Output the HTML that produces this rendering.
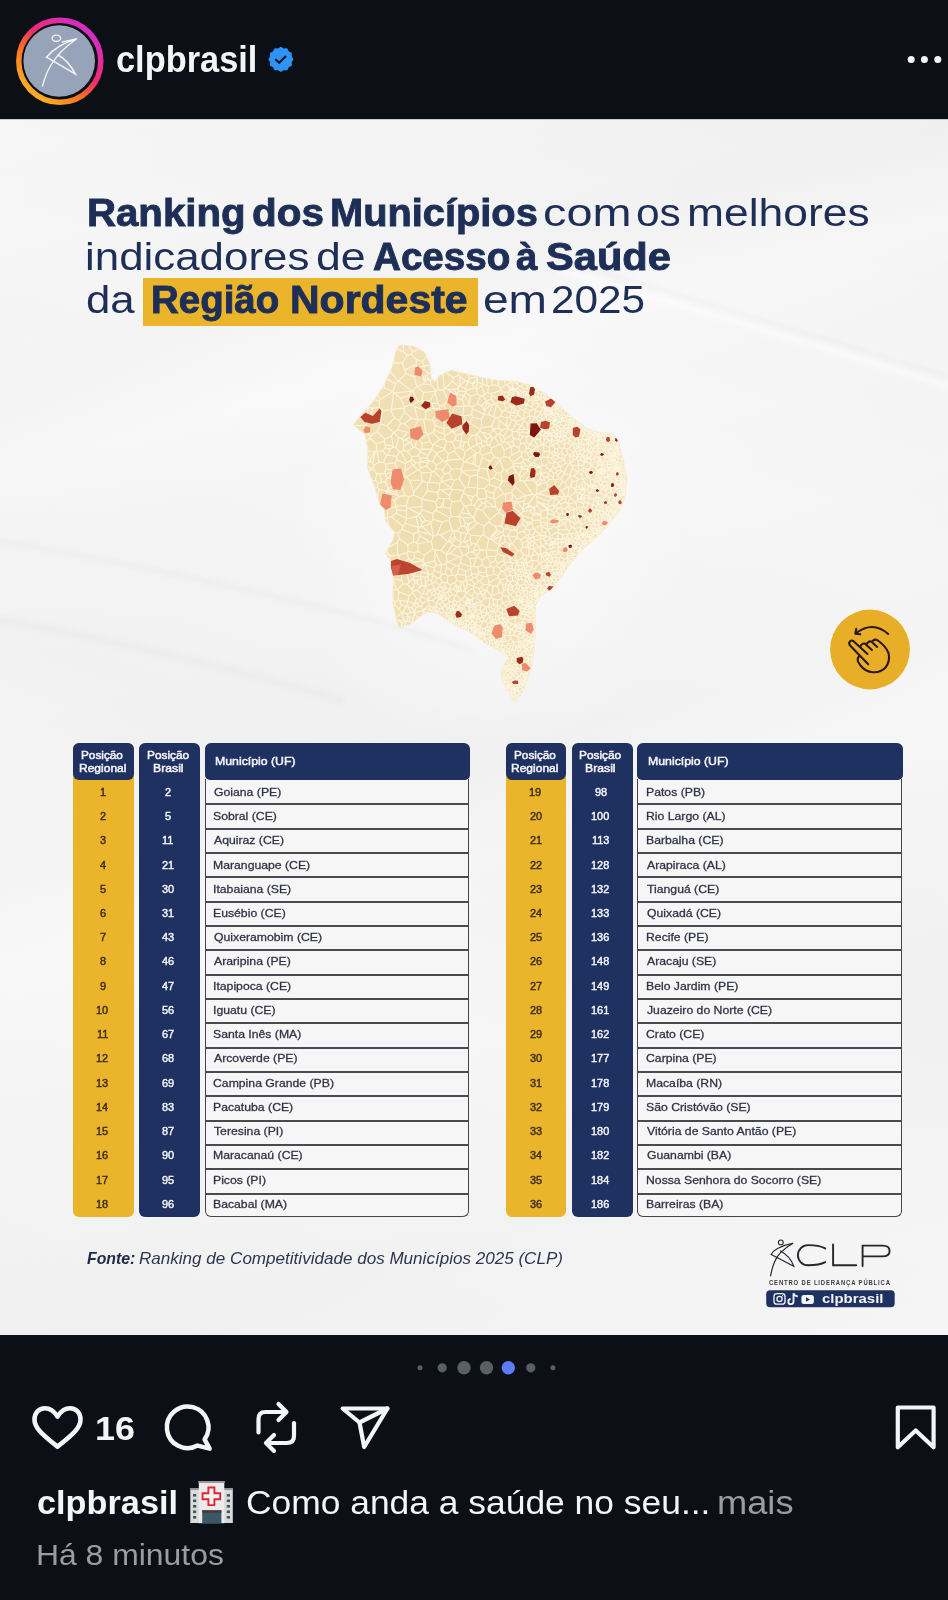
<!DOCTYPE html>
<html><head><meta charset="utf-8">
<style>
html,body{margin:0;padding:0;}
body{width:948px;height:1600px;position:relative;overflow:hidden;background:#0c0f16;font-family:"Liberation Sans",sans-serif;}
.a{position:absolute;}
.t{position:absolute;white-space:nowrap;line-height:1;transform-origin:0 0;font-family:"Liberation Sans",sans-serif;}
.t b{font-weight:700;}
#post{position:absolute;left:0;top:119px;width:948px;height:1216px;background:#f1f1f1;overflow:hidden;}
.col{position:absolute;border-radius:6px;}
</style></head>
<body>
<!-- header -->
<div class="a" style="left:0;top:0;width:948px;height:119px;background:#0c0f16"></div>
<svg class="a" style="left:0;top:0" width="948" height="119" viewBox="0 0 948 119">
  <defs>
    <linearGradient id="ring" x1="0.15" y1="0.95" x2="0.85" y2="0.1">
      <stop offset="0" stop-color="#fbb726"/>
      <stop offset="0.35" stop-color="#f8731f"/>
      <stop offset="0.6" stop-color="#f02a6d"/>
      <stop offset="1" stop-color="#d32ec9"/>
    </linearGradient>
  </defs>
  <circle cx="59.8" cy="61.2" r="41" fill="none" stroke="url(#ring)" stroke-width="5.5"/>
  <circle cx="59.2" cy="61" r="35.8" fill="#96a3b8"/>
  <g fill="none" stroke="#f4f5f7" stroke-width="1.4" stroke-linecap="round">
    <ellipse cx="56.4" cy="38.3" rx="4.3" ry="3.2"/>
    <path d="M46.5 57.2 Q58 44 76.5 39 Q60 50 51 65 Q46 73 42.5 86"/>
    <path d="M76.5 39 L62.5 42"/>
    <path d="M46.5 57.2 L75.5 74.2 Q68 60 58 55"/>
  </g>
  <!-- badge -->
  <g transform="translate(280.9,59.3)">
    <path fill="#2d93f7" d="M0.00,-11.60 L2.64,-9.85 L5.80,-10.05 L7.21,-7.21 L10.05,-5.80 L9.85,-2.64 L11.60,0.00 L9.85,2.64 L10.05,5.80 L7.21,7.21 L5.80,10.05 L2.64,9.85 L0.00,11.60 L-2.64,9.85 L-5.80,10.05 L-7.21,7.21 L-10.05,5.80 L-9.85,2.64 L-11.60,0.00 L-9.85,-2.64 L-10.05,-5.80 L-7.21,-7.21 L-5.80,-10.05 L-2.64,-9.85 Z" stroke="#2d93f7" stroke-width="1.8" stroke-linejoin="round"/>
    <path d="M-5 0.4 L-1.7 3.5 L4.6 -2.8" fill="none" stroke="#0c0f16" stroke-width="2.1" stroke-linecap="round" stroke-linejoin="round"/>
  </g>
  <circle cx="911.2" cy="59.6" r="3.5" fill="#f5f5f7"/>
  <circle cx="924.4" cy="59.6" r="3.5" fill="#f5f5f7"/>
  <circle cx="937.8" cy="59.6" r="3.5" fill="#f5f5f7"/>
</svg>

<!-- post -->
<div id="post">
  <div class="a" style="left:0;top:0;width:948px;height:1216px;background:#f5f5f5"></div>
  <div class="a" style="left:0;top:0;width:948px;height:1216px;background:linear-gradient(165deg,rgba(0,0,0,0) 0%,rgba(0,0,0,0.012) 18%,rgba(255,255,255,0.3) 24%,rgba(0,0,0,0) 30%,rgba(0,0,0,0.012) 52%,rgba(255,255,255,0.25) 58%,rgba(0,0,0,0) 64%,rgba(0,0,0,0.015) 85%,rgba(0,0,0,0.005) 100%)"></div>
  <div class="a" style="left:0;top:0;width:948px;height:1216px;background:linear-gradient(20deg,rgba(0,0,0,0.008) 0%,rgba(255,255,255,0.2) 30%,rgba(0,0,0,0.01) 45%,rgba(255,255,255,0.2) 70%,rgba(0,0,0,0.01) 100%)"></div>
  <div class="a" style="left:280px;top:200px;width:420px;height:440px;border-radius:50%;background:radial-gradient(closest-side,rgba(255,255,255,0.6),rgba(255,255,255,0))"></div>
  <svg class="a" style="left:0;top:0" width="948" height="1216" viewBox="0 119 948 1216">
    <defs><filter id="blur1" x="-10%" y="-50%" width="120%" height="200%"><feGaussianBlur stdDeviation="2.5"/></filter></defs>
    <g filter="url(#blur1)" fill="none" stroke-linecap="round">
      <path d="M560 262 Q760 320 948 378" stroke="rgba(0,0,0,0.028)" stroke-width="5"/>
      <path d="M560 270 Q760 328 948 386" stroke="rgba(255,255,255,0.5)" stroke-width="6"/>
      <path d="M0 541 Q170 570 340 612 Q420 632 470 650" stroke="rgba(0,0,0,0.025)" stroke-width="5"/>
      <path d="M0 620 Q170 650 340 700" stroke="rgba(0,0,0,0.02)" stroke-width="8"/>
    </g>
  </svg>
  <div class="a" style="left:0;top:0;width:948px;height:1px;background:#c9ccd2"></div>
</div>
<!-- yellow highlight -->
<div class="a" style="left:143.3px;top:278px;width:334.4px;height:48px;background:#eab42b"></div>

<svg class="a" style="left:0;top:0" width="948" height="760" viewBox="0 0 948 760">
<defs><clipPath id="mapclip"><path d="M399.1 345.2L412.6 346.0L424.4 352.0L429.5 363.8L431.1 377.3L434.5 382.3L439.6 375.6L451.4 370.5L466.6 373.9L483.5 378.1L496.9 380.3L517.1 381.9L530.6 385.3L547.5 395.4L559.3 405.6L574.5 419.1L588.0 429.2L601.5 432.6L613.3 434.3L618.4 441.0L623.5 461.3L626.8 478.1L625.1 495.0L623.5 500.0L620.1 510.1L613.3 518.6L604.9 528.7L594.8 538.8L581.3 550.6L571.1 562.4L561.0 577.6L550.9 589.5L540.8 596.2L535.7 604.6L535.2 609.5L535.2 631.7L533.7 653.8L530.8 668.6L526.3 683.4L520.4 695.2L514.5 702.6L508.6 692.2L502.7 680.4L501.2 671.6L505.7 662.7L508.6 656.8L496.8 649.4L483.5 642.0L472.9 633.9L458.1 626.5L446.3 619.2L434.5 611.8L424.2 613.3L410.9 623.6L399.1 628.0L396.1 617.7L393.2 602.9L393.2 576.3L391.0 567.5L390.2 560.1L385.8 554.2L387.3 549.8L393.2 539.4L394.6 532.0L385.8 521.7L384.3 509.9L379.9 504.0L374.0 484.8L367.8 468.4L367.8 448.1L365.3 434.6L356.9 427.9L353.5 424.5L360.3 416.1L373.8 400.9L383.9 385.7L392.3 367.1L395.7 352.0Z"/></clipPath>
<radialGradient id="mapg" cx="0.35" cy="0.45" r="0.7"><stop offset="0" stop-color="#efdcad"/><stop offset="0.6" stop-color="#f1e0b5"/><stop offset="1" stop-color="#f5e8c6"/></radialGradient></defs>
<path d="M399.1 345.2L412.6 346.0L424.4 352.0L429.5 363.8L431.1 377.3L434.5 382.3L439.6 375.6L451.4 370.5L466.6 373.9L483.5 378.1L496.9 380.3L517.1 381.9L530.6 385.3L547.5 395.4L559.3 405.6L574.5 419.1L588.0 429.2L601.5 432.6L613.3 434.3L618.4 441.0L623.5 461.3L626.8 478.1L625.1 495.0L623.5 500.0L620.1 510.1L613.3 518.6L604.9 528.7L594.8 538.8L581.3 550.6L571.1 562.4L561.0 577.6L550.9 589.5L540.8 596.2L535.7 604.6L535.2 609.5L535.2 631.7L533.7 653.8L530.8 668.6L526.3 683.4L520.4 695.2L514.5 702.6L508.6 692.2L502.7 680.4L501.2 671.6L505.7 662.7L508.6 656.8L496.8 649.4L483.5 642.0L472.9 633.9L458.1 626.5L446.3 619.2L434.5 611.8L424.2 613.3L410.9 623.6L399.1 628.0L396.1 617.7L393.2 602.9L393.2 576.3L391.0 567.5L390.2 560.1L385.8 554.2L387.3 549.8L393.2 539.4L394.6 532.0L385.8 521.7L384.3 509.9L379.9 504.0L374.0 484.8L367.8 468.4L367.8 448.1L365.3 434.6L356.9 427.9L353.5 424.5L360.3 416.1L373.8 400.9L383.9 385.7L392.3 367.1L395.7 352.0Z" fill="url(#mapg)" stroke="#f5e9c9" stroke-width="1"/>
<g clip-path="url(#mapclip)">
<path d="M411.7 349.8L402.5 337.2M339.7 369.8L354.4 375.7M339.7 369.8L358.4 393.1M354.4 375.7L372.5 387.1M380.4 399.6L372.5 387.1M380.4 399.6L379.7 401.6M379.7 401.6L358.4 393.1M370.1 420.8L372.4 408.1M370.1 420.8L380.4 423.0M379.2 407.2L372.4 408.1M379.2 407.2L382.7 410.7M382.7 410.7L380.4 423.0M366.6 406.3L368.3 407.0M366.6 406.3L360.1 414.5M368.3 407.0L366.7 418.8M360.1 414.5L366.7 418.8M379.7 401.6L379.2 407.2M358.4 393.1L366.6 406.3M372.4 408.1L368.3 407.0M368.8 421.1L366.7 418.8M368.8 421.1L370.1 420.8M365.5 425.3L334.1 426.7M365.5 425.3L369.8 435.8M369.8 435.8L334.1 426.7M368.8 421.1L365.5 425.3M377.0 431.7L370.2 436.2M377.0 431.7L380.7 423.7M370.2 436.2L369.8 435.8M380.7 423.7L380.4 423.0M382.7 410.7L390.8 409.9M380.7 423.7L386.7 425.8M390.8 409.9L394.5 418.1M394.5 418.1L386.7 425.8M375.5 480.2L350.9 483.6M375.5 480.2L378.1 483.4M377.3 487.3L378.1 483.4M377.3 487.3L368.4 490.3M368.4 490.3L349.7 484.2M349.7 484.2L350.9 483.6M354.4 375.7L382.7 378.5M372.5 387.1L384.8 388.0M382.7 378.5L384.8 388.0M380.4 399.6L392.6 391.6M384.8 388.0L392.6 391.6M548.9 715.4L525.1 705.9M521.1 708.5L525.1 705.9M527.7 695.4L529.3 692.9M613.3 532.0L611.1 535.9M613.3 532.0L609.9 533.3M611.1 535.9L609.0 534.8M609.9 533.3L609.0 534.8M614.1 531.3L613.3 532.0M626.2 496.4L626.6 496.2M626.2 496.4L624.9 497.9M624.9 497.9L627.7 501.2M627.7 501.2L629.9 500.8M629.9 500.8L626.6 496.2M377.0 431.7L385.0 439.0M370.2 436.2L370.0 438.0M370.0 438.0L376.4 444.1M385.0 439.0L384.1 441.2M376.4 444.1L384.1 441.2M390.2 449.1L387.7 455.2M390.2 449.1L385.1 448.0M386.4 455.5L383.1 451.4M386.4 455.5L387.7 455.2M385.1 448.0L383.1 451.4M629.9 445.8L627.0 444.2M629.9 445.8L627.9 447.5M627.0 444.2L626.4 446.7M626.4 446.7L627.9 447.5M617.0 439.8L615.5 443.0M617.0 439.8L617.3 440.0M615.5 443.0L617.8 443.6M617.8 443.6L617.3 440.0M629.9 445.8L633.6 443.8M627.0 444.2L626.4 443.4M633.6 443.8L626.8 442.7M626.4 443.4L626.8 442.7M633.6 443.8L636.1 442.9M636.1 442.9L631.4 441.8M631.4 441.8L626.5 441.3M626.8 442.7L626.5 441.3M620.3 443.4L620.7 441.6M620.3 443.4L618.2 443.8M618.2 443.8L617.8 443.6M617.3 440.0L620.1 440.6M620.1 440.6L620.7 441.6M621.3 444.4L620.3 443.4M621.3 444.4L620.4 448.1M620.4 448.1L619.4 448.2M618.2 443.8L617.9 444.6M619.4 448.2L617.9 444.6M618.8 458.3L621.2 458.3M618.8 458.3L617.6 461.9M617.6 461.9L618.1 462.3M618.1 462.3L621.9 462.8M621.2 458.3L621.7 459.4M621.7 459.4L622.6 462.4M621.9 462.8L622.6 462.4M390.2 449.1L393.9 447.0M387.7 455.2L396.8 456.4M396.8 456.4L399.7 451.8M399.7 451.8L395.8 448.0M393.9 447.0L395.8 448.0M385.1 448.0L385.5 444.5M385.5 444.5L393.2 446.1M393.9 447.0L393.2 446.1M385.0 439.0L391.4 435.7M385.5 444.5L384.1 441.2M393.2 446.1L391.4 435.7M386.7 425.8L393.6 432.8M391.4 435.7L393.6 432.8M375.5 480.2L376.8 473.4M378.1 483.4L381.5 482.2M381.5 482.2L379.7 473.6M379.7 473.6L376.8 473.4M371.9 469.0L372.6 468.7M371.9 469.0L350.9 483.6M376.8 473.4L372.6 468.7M537.0 379.8L533.9 379.5M537.0 379.8L536.0 382.3M536.0 382.3L533.9 379.5M531.5 371.8L529.6 378.6M531.5 371.8L533.6 378.9M529.6 378.6L533.5 379.4M533.6 378.9L533.6 379.3M533.6 379.3L533.5 379.4M546.0 372.8L547.0 371.1M546.0 372.8L537.0 379.8M547.0 371.1L533.6 378.9M533.9 379.5L533.6 379.3M412.8 431.3L413.5 432.7M412.8 431.3L418.2 420.0M418.2 420.0L423.7 419.5M413.5 432.7L425.7 432.1M425.7 432.1L423.7 419.5M455.1 439.7L456.2 435.5M455.1 439.7L461.1 441.6M456.2 435.5L462.1 433.3M461.1 441.6L461.3 441.5M461.3 441.5L462.1 433.3M429.0 379.7L425.3 380.7M429.0 379.7L430.5 381.0M430.5 381.0L431.0 384.8M424.1 382.3L425.3 380.7M424.1 382.3L423.4 384.0M431.0 384.8L423.4 384.0M431.0 384.8L436.0 390.6M423.5 392.4L416.8 386.3M423.5 392.4L435.4 391.3M423.4 384.0L416.8 386.3M416.8 386.3L416.8 386.3M435.4 391.3L436.0 390.6M382.7 378.5L385.0 377.8M385.0 377.8L388.3 368.7M378.1 365.3L388.2 368.2M388.3 368.7L388.2 368.2M383.9 342.0L403.8 352.0M383.9 342.0L390.8 356.5M390.8 356.5L395.2 362.6M395.2 362.6L402.2 363.0M402.2 363.0L407.2 355.4M403.8 352.0L407.2 355.4M402.5 337.2L403.8 352.0M378.1 365.3L390.8 356.5M388.2 368.2L395.2 362.6M394.3 618.2L401.5 613.0M394.3 618.2L399.5 621.0M399.5 621.0L403.9 619.6M401.5 613.0L403.9 619.6M393.0 580.2L370.3 588.4M393.0 580.2L396.5 589.4M379.3 590.8L370.3 588.4M379.3 590.8L381.8 591.0M381.8 591.0L396.5 589.4M477.8 567.2L478.5 572.3M477.8 567.2L481.9 565.0M478.5 572.3L486.5 572.5M481.9 565.0L486.4 568.0M486.5 572.5L486.4 568.0M487.5 576.0L486.5 572.5M487.5 576.0L494.2 574.2M490.2 566.5L486.4 568.0M490.2 566.5L493.2 567.6M494.2 574.2L493.2 567.6M473.7 566.4L471.4 566.7M473.7 566.4L476.0 558.2M471.4 566.7L469.6 558.6M476.0 558.2L469.6 558.6M477.5 557.2L476.0 558.2M477.5 557.2L482.4 560.1M482.4 560.1L481.9 565.0M477.8 567.2L473.7 566.4M496.8 529.4L494.7 526.1M496.8 529.4L489.1 539.0M488.7 522.0L494.7 526.1M488.7 522.0L484.0 526.1M489.1 539.0L488.8 539.0M488.8 539.0L483.8 534.5M484.0 526.1L483.8 534.5M628.0 482.9L628.7 483.6M628.0 482.9L628.5 481.7M628.5 481.7L631.6 482.6M631.6 482.6L630.3 483.8M628.7 483.6L630.3 483.8M641.5 483.9L629.4 486.3M641.5 483.9L631.8 482.5M631.8 482.5L631.6 482.6M630.3 483.8L629.4 486.3M541.9 673.7L540.2 672.2M557.3 664.4L543.3 663.2M540.2 672.2L539.0 670.9M539.0 670.9L538.8 667.3M538.8 667.3L543.3 663.2M627.2 495.3L631.0 495.6M627.2 495.3L627.0 494.3M627.0 494.3L627.5 492.8M631.0 495.6L630.9 493.2M628.1 492.5L627.5 492.8M628.1 492.5L630.3 492.7M630.9 493.2L630.3 492.7M644.4 501.6L630.3 500.9M644.4 501.6L631.0 495.6M630.3 500.9L629.9 500.8M626.6 496.2L627.2 495.3M631.6 492.1L639.8 489.6M631.6 492.1L630.9 493.2M643.2 489.3L639.8 489.6M630.5 491.5L630.0 490.9M630.5 491.5L630.3 492.7M630.0 490.9L628.1 492.5M631.6 492.1L630.5 491.5M630.3 500.9L628.9 502.9M630.8 505.9L628.6 503.8M628.9 502.9L628.6 503.8M643.7 529.2L629.7 519.5M629.7 519.5L627.0 513.0M630.8 511.3L627.0 513.0M376.4 444.1L376.7 450.6M383.1 451.4L376.9 450.8M376.9 450.8L376.7 450.6M386.4 455.5L383.5 462.4M383.5 462.4L378.9 462.4M376.9 450.8L378.9 462.4M380.2 535.7L386.4 536.9M386.4 536.9L385.2 549.0M381.5 482.2L385.3 481.7M385.0 474.2L387.2 478.1M385.0 474.2L384.4 473.4M384.4 473.4L379.7 473.6M385.3 481.7L387.2 478.1M357.3 516.1L367.1 510.8M357.3 516.1L383.6 518.3M383.6 518.3L367.1 510.8M386.3 517.9L385.0 518.5M386.3 517.9L387.1 517.9M387.1 517.9L389.1 527.0M385.0 518.5L376.9 525.0M376.9 525.0L381.2 526.9M381.2 526.9L384.3 527.6M384.3 527.6L389.1 527.0M373.1 507.3L386.3 517.9M373.1 507.3L367.1 510.8M383.6 518.3L385.0 518.5M381.1 533.0L381.2 526.9M381.1 533.0L380.2 535.7M381.1 533.0L384.3 527.6M393.9 532.6L386.4 536.9M393.9 532.6L389.1 527.0M625.2 446.2L624.2 448.1M625.2 446.2L624.1 444.8M623.6 444.8L624.1 444.8M623.6 444.8L622.8 447.7M622.8 447.7L624.2 448.1M626.4 446.7L625.2 446.2M626.4 443.4L624.3 444.5M624.3 444.5L624.1 444.8M621.3 444.4L623.6 444.8M620.4 448.1L620.9 448.6M622.8 447.7L620.9 448.6M622.8 447.7L622.8 447.7M624.1 450.6L622.8 447.7M624.1 450.6L624.1 450.6M624.2 448.1L624.6 449.8M624.1 450.6L624.6 449.8M627.9 447.5L627.8 448.2M624.6 449.8L627.8 448.2M631.4 441.8L626.1 439.9M626.5 441.3L625.9 440.1M626.1 439.9L625.9 440.1M624.1 450.6L622.2 451.2M620.9 448.6L622.0 451.1M622.2 451.2L622.0 451.1M619.4 448.2L618.3 448.7M617.5 451.5L618.1 448.9M617.5 451.5L617.5 451.6M617.5 451.6L618.7 451.7M618.3 448.7L618.1 448.9M622.0 451.1L618.7 451.7M617.5 451.6L617.6 454.1M617.6 454.1L617.9 454.9M617.9 454.9L620.3 454.3M618.7 451.7L620.3 454.3M626.7 427.3L620.2 429.3M620.2 429.3L618.3 425.8M626.7 427.3L621.9 433.6M620.2 429.3L619.8 429.4M619.8 429.4L619.3 432.8M621.9 433.6L621.4 433.9M619.3 432.8L621.4 433.9M621.9 433.6L622.8 434.4M622.8 434.4L623.3 435.2M623.3 435.2L623.2 438.0M623.2 438.0L620.4 436.9M621.4 433.9L620.4 436.9M631.8 472.1L629.8 469.3M631.8 472.1L631.4 468.9M631.4 468.9L629.8 469.3M632.5 473.0L631.8 472.1M632.5 473.0L634.6 473.8M635.2 464.5L629.3 467.6M629.4 469.1L629.8 469.3M629.4 469.1L629.2 468.8M629.3 467.6L629.2 468.8M618.1 462.3L618.3 465.1M621.9 462.8L620.3 465.4M620.3 465.4L619.1 466.3M619.1 466.3L618.3 465.1M617.6 461.9L617.0 462.0M616.4 462.8L617.0 462.0M616.4 462.8L616.6 464.8M618.3 465.1L616.6 464.8M618.8 458.3L617.4 457.2M617.4 457.2L617.9 454.9M621.2 458.3L622.2 456.8M620.3 454.3L621.8 454.4M622.2 456.8L621.8 454.4M622.2 451.2L622.1 453.7M622.1 453.7L621.8 454.4M622.6 462.4L624.0 462.9M620.3 465.4L622.7 466.9M622.7 466.9L624.5 465.7M624.5 465.7L624.5 463.8M624.5 463.8L624.0 462.9M604.8 477.9L607.3 477.8M604.8 477.9L604.2 476.9M604.2 476.9L607.4 475.8M607.3 477.8L607.4 475.8M398.3 555.1L407.0 552.7M398.3 555.1L397.7 554.9M397.7 554.9L397.3 542.5M407.0 552.7L408.0 551.4M408.0 551.4L407.8 544.7M407.8 544.7L399.4 538.6M399.4 538.6L397.3 542.5M393.9 532.6L398.0 533.3M398.0 533.3L399.4 538.6M385.5 549.1L397.3 542.5M385.5 549.1L385.2 549.0M452.0 489.3L449.6 495.7M452.0 489.3L451.5 488.4M451.5 488.4L441.8 490.0M449.6 495.7L441.8 490.0M435.5 501.8L438.6 497.9M435.5 501.8L421.9 499.1M427.4 490.9L421.8 498.7M427.4 490.9L437.7 492.6M421.9 499.1L421.8 498.7M438.6 497.9L437.7 492.6M474.6 454.4L464.8 461.7M474.6 454.4L472.7 464.0M472.7 464.0L464.8 461.7M397.6 429.7L407.3 432.2M397.6 429.7L393.9 432.8M393.9 432.8L398.9 437.6M407.3 432.2L401.9 439.0M401.9 439.0L398.9 437.6M412.8 431.3L407.3 432.2M412.8 431.3L403.8 423.7M403.8 423.7L400.6 423.5M400.6 423.5L397.6 429.7M394.5 418.1L399.4 420.4M399.4 420.4L400.6 423.5M393.6 432.8L393.9 432.8M395.8 448.0L398.9 437.6M385.0 474.2L392.2 472.2M387.2 478.1L388.6 478.1M392.2 472.2L388.6 478.1M534.4 383.8L535.9 383.0M534.4 383.8L534.3 383.8M535.9 383.0L536.0 382.3M533.5 379.4L532.4 381.8M534.3 383.8L532.4 381.8M528.6 380.0L529.6 378.6M528.6 380.0L531.6 381.8M531.6 381.8L532.4 381.8M534.4 383.8L536.7 388.3M535.9 383.0L539.8 384.0M536.7 388.3L539.8 384.0M521.0 386.2L523.9 383.6M521.0 386.2L518.3 386.5M517.1 383.7L518.3 386.5M517.1 383.7L518.3 381.0M518.3 381.0L522.3 379.9M523.9 383.6L522.3 379.9M528.6 380.0L528.2 380.1M530.2 383.9L531.6 381.8M530.2 383.9L527.2 382.4M527.2 382.4L528.2 380.1M399.7 451.8L400.9 451.4M403.3 440.6L403.9 446.2M403.3 440.6L401.9 439.0M400.9 451.4L403.3 450.3M403.9 446.2L403.3 450.3M419.1 470.0L420.2 468.1M419.1 470.0L417.8 470.1M417.8 470.1L414.0 466.1M420.2 468.1L419.8 463.1M419.8 463.1L415.9 462.5M414.0 466.1L415.9 462.5M471.2 500.8L473.3 496.5M471.2 500.8L467.0 495.1M467.0 495.1L473.3 496.5M476.8 494.4L473.3 496.5M476.8 494.4L478.5 499.1M478.5 499.1L474.1 505.7M471.4 504.8L474.1 505.7M471.4 504.8L471.2 500.8M489.4 484.4L489.4 480.8M489.4 484.4L484.3 488.6M489.4 480.8L477.8 476.2M484.3 488.6L477.8 488.2M477.8 476.2L477.6 488.0M477.8 488.2L477.6 488.0M419.4 439.6L417.7 439.0M419.4 439.6L427.8 434.6M413.5 432.7L413.8 435.0M425.7 432.1L427.8 434.6M417.7 439.0L413.8 435.0M420.2 450.3L420.0 451.5M420.2 450.3L414.8 447.0M420.0 451.5L418.2 455.8M418.2 455.8L411.9 457.0M411.9 457.0L407.3 451.4M407.3 451.4L413.2 447.2M414.8 447.0L413.2 447.2M495.2 418.0L491.4 426.2M495.2 418.0L497.5 418.1M497.5 418.1L499.2 420.8M499.2 420.8L498.7 428.0M491.4 426.2L493.3 429.1M498.7 428.0L493.3 429.1M497.5 418.1L500.3 416.1M500.3 416.1L507.0 417.8M499.2 420.8L506.7 426.1M507.0 417.8L506.7 426.1M451.8 422.2L448.1 427.3M451.8 422.2L454.6 424.8M454.6 424.8L452.6 431.5M452.6 431.5L452.3 431.6M452.3 431.6L448.1 427.3M443.8 428.7L443.9 428.9M443.8 428.7L444.7 422.2M451.8 422.2L450.9 420.0M444.7 422.2L450.9 420.0M443.9 428.9L448.1 427.3M444.4 438.9L444.9 435.8M444.4 438.9L439.6 439.6M439.6 439.6L433.0 432.3M444.4 434.6L444.9 435.8M444.4 434.6L434.2 430.2M434.2 430.2L433.0 432.3M455.1 439.7L451.9 442.0M451.9 442.0L446.4 441.2M456.2 435.5L454.0 432.5M446.4 441.2L444.4 438.9M452.6 431.5L454.0 432.5M452.3 431.6L444.9 435.8M443.9 428.9L444.4 434.6M443.8 428.7L435.3 425.3M435.3 425.3L434.2 430.2M448.1 453.7L447.3 460.1M448.1 453.7L454.3 451.1M447.3 460.1L460.8 459.1M454.3 451.1L460.8 459.1M468.2 442.0L471.0 436.0M468.2 442.0L464.9 442.1M461.3 441.5L464.9 442.1M471.0 436.0L465.4 431.9M462.1 433.3L464.0 431.6M464.0 431.6L465.4 431.9M454.0 432.5L461.1 427.4M464.0 431.6L461.1 427.4M454.6 424.8L460.4 425.6M461.1 427.4L460.4 425.6M481.4 419.3L472.7 417.3M481.4 419.3L481.3 427.6M481.3 427.6L480.0 429.6M480.0 429.6L470.4 423.4M470.4 423.4L469.8 422.1M472.7 417.3L469.8 422.1M465.4 431.9L470.4 423.4M460.8 424.7L465.3 421.2M460.8 424.7L460.4 425.6M469.8 422.1L465.3 421.2M402.2 363.0L404.8 370.1M407.2 355.4L411.1 354.0M404.8 370.1L416.1 364.4M416.1 364.4L416.5 359.6M416.5 359.6L411.1 354.0M411.7 349.8L412.3 352.3M412.3 352.3L411.1 354.0M404.8 370.1L405.8 373.7M405.8 373.7L413.6 376.4M416.1 364.4L417.1 367.7M417.1 367.7L413.6 376.4M408.7 616.3L410.3 622.1M408.7 616.3L412.7 618.3M412.7 618.3L412.5 623.1M410.3 622.1L412.5 623.1M407.6 615.4L406.8 620.9M407.6 615.4L408.7 616.3M406.8 620.9L410.3 622.1M423.5 611.4L423.0 610.6M423.5 611.4L422.2 618.4M423.0 610.6L414.6 612.4M422.2 618.4L418.2 617.4M418.2 617.4L414.9 614.6M414.6 612.4L414.9 614.6M412.6 623.3L412.5 623.1M412.6 623.3L413.7 623.6M413.7 623.6L418.2 617.4M412.7 618.3L414.9 614.6M417.9 711.9L408.1 665.6M408.1 665.6L393.9 627.9M402.1 633.8L398.6 628.6M402.1 633.8L408.1 665.6M398.6 628.6L393.8 627.2M393.8 627.2L393.9 627.9M393.0 626.6L393.8 627.2M401.6 626.0L405.0 626.1M401.6 626.0L401.4 623.0M401.4 623.0L405.3 621.2M405.0 626.1L405.6 621.3M405.6 621.3L405.3 621.2M406.9 627.6L405.0 626.1M406.9 627.6L402.1 633.8M398.6 628.6L401.6 626.0M394.3 618.2L392.5 618.8M399.5 621.0L401.4 623.0M388.5 622.4L392.5 618.8M388.5 622.4L393.0 626.6M403.9 619.6L405.3 621.2M409.1 627.7L406.9 627.6M409.1 627.7L412.6 623.3M406.8 620.9L405.6 621.3M381.0 623.2L388.2 607.3M388.5 622.4L381.0 623.2M392.5 618.8L391.4 606.6M391.4 606.6L390.8 606.5M390.8 606.5L388.2 607.3M371.9 469.0L360.1 461.7M370.0 438.0L358.9 449.1M389.6 559.7L366.4 576.8M389.6 559.7L390.4 555.9M388.6 554.2L390.4 555.9M388.6 554.2L336.1 584.6M366.4 576.8L346.8 584.0M336.1 584.6L346.8 584.0M385.5 549.1L388.6 554.2M397.7 554.9L390.4 555.9M390.8 606.5L379.3 590.8M370.3 588.4L346.8 584.0M408.6 558.5L404.2 563.3M408.6 558.5L407.0 552.7M398.3 555.1L399.8 559.9M399.8 559.9L404.2 563.3M391.6 572.1L390.4 561.3M391.6 572.1L392.1 572.2M392.1 572.2L398.0 571.3M398.0 571.3L397.3 565.0M390.4 561.3L397.3 565.0M389.6 559.7L390.4 561.3M366.4 576.8L391.6 572.1M393.0 580.2L393.3 579.5M393.3 579.5L392.1 572.2M399.8 559.9L397.3 565.0M393.3 579.5L401.6 580.2M398.0 571.3L401.1 572.3M401.6 580.2L401.1 572.3M405.0 566.8L404.2 563.3M405.0 566.8L403.2 571.3M403.2 571.3L401.1 572.3M442.3 582.3L440.1 585.0M442.3 582.3L439.8 577.6M440.1 585.0L434.8 582.2M434.8 582.2L437.2 578.1M439.8 577.6L437.2 578.1M432.6 583.3L434.8 582.2M432.6 583.3L431.3 581.0M431.3 581.0L433.2 575.2M437.2 578.1L433.2 575.2M445.5 574.1L446.6 567.1M445.5 574.1L448.2 575.9M446.6 567.1L451.2 570.0M448.2 575.9L452.4 575.2M451.2 570.0L452.4 575.2M467.6 584.0L465.3 590.5M467.6 584.0L465.6 580.3M465.3 590.5L462.7 581.6M465.6 580.3L462.7 581.6M442.3 582.3L445.3 582.6M440.1 585.0L439.9 586.3M441.4 587.7L439.9 586.3M441.4 587.7L444.8 586.4M445.3 582.6L444.8 586.4M445.5 574.1L441.6 574.6M448.2 575.9L446.9 582.2M441.6 574.6L439.8 577.6M445.3 582.6L446.9 582.2M441.4 587.7L443.0 590.2M443.0 590.2L445.5 588.3M444.8 586.4L445.5 588.3M513.8 715.7L518.3 706.8M518.3 706.8L518.8 706.0M521.1 708.5L520.9 706.5M520.9 706.5L518.8 706.0M527.7 695.4L526.4 696.1M529.3 692.9L529.1 692.3M529.1 692.3L525.9 692.0M524.7 693.2L525.9 692.0M524.7 693.2L524.3 694.5M526.4 696.1L524.3 694.5M541.9 646.9L545.2 645.5M541.9 646.9L541.3 647.6M541.3 647.6L542.0 649.5M565.7 647.3L545.2 645.5M565.7 647.3L544.6 650.3M544.6 650.3L542.0 649.5M480.9 549.9L477.2 555.5M480.9 549.9L486.1 550.3M477.5 557.2L477.2 555.5M482.4 560.1L487.0 556.4M487.0 556.4L486.1 550.3M480.9 549.9L480.3 549.5M488.8 539.0L486.6 549.6M480.3 549.5L476.8 543.5M476.8 543.5L481.1 536.0M481.1 536.0L483.8 534.5M486.1 550.3L486.6 549.6M499.7 568.2L497.1 566.1M499.7 568.2L504.7 563.5M497.1 566.1L497.5 562.9M497.5 562.9L503.9 560.7M503.9 560.7L504.8 562.1M504.7 563.5L504.8 562.1M494.2 574.2L497.9 575.8M497.9 575.8L501.1 571.4M501.1 571.4L499.7 568.2M493.2 567.6L497.1 566.1M472.3 551.7L468.5 552.0M472.3 551.7L473.5 550.7M473.5 550.7L476.1 543.9M468.5 552.0L468.5 547.0M471.8 543.9L476.1 543.9M471.8 543.9L468.6 546.5M468.6 546.5L468.5 547.0M477.2 555.5L472.3 551.7M469.6 558.6L465.9 554.6M465.9 554.6L468.5 552.0M480.3 549.5L473.5 550.7M476.8 543.5L476.1 543.9M469.9 539.8L470.9 535.3M469.9 539.8L471.8 543.9M470.9 535.3L481.1 536.0M464.9 542.1L469.9 539.8M464.9 542.1L468.6 546.5M602.0 507.1L600.3 506.8M602.0 507.1L603.0 509.8M600.3 506.8L600.0 511.2M603.0 509.8L602.7 510.3M602.7 510.3L602.4 510.6M602.4 510.6L600.0 511.2M603.6 512.6L604.0 514.7M603.6 512.6L606.0 512.6M604.0 514.7L607.0 514.2M606.0 512.6L607.0 514.2M602.7 510.3L605.7 511.7M602.4 510.6L603.6 512.6M606.0 512.6L605.7 511.7M541.4 638.4L542.2 639.8M541.4 638.4L545.8 638.4M545.8 638.4L542.2 639.8M541.0 638.3L540.2 641.3M541.0 638.3L541.4 638.4M542.2 639.8L540.2 641.3M629.3 477.1L630.3 479.0M629.3 477.1L627.3 476.6M627.3 476.6L627.9 480.8M630.3 479.1L628.1 480.9M630.3 479.1L630.3 479.0M628.1 480.9L627.9 480.8M634.6 473.8L629.3 477.1M628.5 481.7L628.1 480.9M631.8 482.5L630.3 479.1M618.2 471.3L619.5 470.9M618.2 471.3L616.9 471.0M616.9 471.0L618.3 468.6M619.5 470.9L618.3 468.6M538.1 657.3L541.3 662.6M538.1 657.3L537.9 657.3M537.9 657.3L536.8 661.8M536.8 661.8L541.3 662.6M538.8 667.3L537.9 666.9M543.3 663.2L541.6 662.8M537.9 666.9L536.9 665.7M541.6 662.8L536.9 665.7M609.6 529.8L607.7 529.9M609.6 529.8L609.9 533.3M609.0 534.8L607.7 535.0M607.7 535.0L606.6 532.3M607.7 529.9L606.6 532.3M606.6 526.4L606.6 526.5M606.6 526.4L603.4 526.2M606.6 526.5L606.8 528.9M603.4 526.2L602.4 527.4M602.4 527.4L603.4 529.2M606.8 528.9L603.4 529.2M607.9 538.8L604.9 538.8M607.9 538.8L611.7 544.5M605.0 539.5L604.9 538.8M605.0 539.5L605.0 539.7M611.7 544.5L605.0 539.7M607.9 538.8L607.3 535.7M604.9 538.8L604.0 537.6M607.3 535.7L604.0 537.6M607.7 535.0L607.5 535.2M625.6 562.0L611.7 544.5M607.3 535.7L607.5 535.2M605.0 539.5L602.0 540.6M602.0 540.6L601.4 539.7M604.0 537.6L603.2 537.4M601.4 539.7L603.2 537.4M607.5 535.2L603.1 534.4M602.9 536.7L603.2 537.4M602.9 536.7L602.9 534.6M602.9 534.6L603.1 534.4M599.4 536.2L602.9 536.7M599.4 536.2L599.4 535.4M602.5 534.4L602.9 534.6M602.5 534.4L599.6 534.8M599.4 535.4L599.6 534.8M628.7 483.6L628.3 486.2M629.4 486.3L629.3 486.4M629.3 486.4L628.3 486.2M643.2 489.3L629.5 487.0M629.3 486.4L629.5 487.0M639.8 489.6L631.0 489.5M630.0 490.9L630.1 490.4M630.1 490.4L631.0 489.5M629.5 487.0L629.6 487.4M629.6 487.4L630.5 488.8M631.0 489.5L630.5 488.8M630.8 505.9L628.1 506.5M628.6 503.8L627.7 504.4M628.1 506.5L627.7 504.4M630.8 511.3L627.3 509.3M627.3 509.3L627.8 506.7M628.1 506.5L627.8 506.7M625.4 509.8L625.7 509.9M625.4 509.8L625.1 509.8M625.7 509.9L625.8 512.7M625.1 509.8L622.2 511.2M622.2 511.2L622.2 511.2M622.2 511.2L625.4 513.3M625.4 513.3L625.8 512.7M625.2 506.0L623.6 506.1M625.2 506.0L625.4 509.8M623.6 506.1L624.1 508.6M624.1 508.6L625.1 509.8M627.3 509.3L625.7 509.9M627.0 513.0L625.8 512.7M624.1 508.6L622.5 508.3M622.5 508.3L622.2 511.2M618.2 471.3L618.8 473.6M619.8 471.0L619.5 470.9M619.8 471.0L621.5 473.0M618.8 473.6L621.5 473.0M613.4 498.0L611.9 502.3M613.4 498.0L613.4 497.4M613.4 497.4L613.4 497.4M613.4 497.4L608.7 497.3M608.7 497.3L609.7 502.8M611.9 502.3L610.1 502.9M610.1 502.9L609.7 502.8M615.6 503.5L613.4 498.0M615.6 503.5L611.9 502.3M374.7 451.3L370.3 460.1M374.7 451.3L375.2 451.2M375.2 451.2L372.7 463.4M372.7 463.4L370.8 461.4M370.8 461.4L370.3 460.1M364.2 451.3L370.3 460.1M364.2 451.3L374.7 451.3M376.7 450.6L375.2 451.2M358.9 449.1L364.2 451.3M378.9 462.4L373.9 465.0M373.9 465.0L372.7 463.4M372.6 468.7L373.9 465.0M360.1 461.7L370.8 461.4M418.0 419.9L414.3 406.7M418.0 419.9L411.7 418.3M411.7 418.3L404.8 412.3M409.8 405.0L413.4 405.2M409.8 405.0L404.7 407.1M404.8 412.3L404.1 408.1M414.3 406.7L413.4 405.2M404.1 408.1L404.7 407.1M412.8 431.3L412.8 431.3M418.2 420.0L418.0 419.9M403.8 423.7L411.7 418.3M399.4 420.4L404.8 412.3M390.8 409.9L391.4 409.4M391.4 409.4L404.1 408.1M423.5 392.4L421.9 400.7M416.8 386.3L412.6 390.4M412.6 390.4L417.7 401.5M417.7 401.5L421.7 400.9M421.9 400.7L421.7 400.9M417.7 401.5L413.4 405.2M414.3 406.7L425.1 410.1M421.7 400.9L425.1 410.1M425.1 418.7L423.7 419.5M425.1 418.7L426.2 411.7M426.2 411.7L425.1 410.1M408.6 558.5L411.7 561.1M411.9 564.5L412.4 562.4M411.9 564.5L405.0 566.8M411.7 561.1L412.4 562.4M394.7 484.9L388.1 488.7M394.7 484.9L396.8 485.0M396.8 485.0L396.4 492.3M396.4 492.3L387.7 489.9M387.7 489.9L388.1 488.7M385.3 481.7L388.1 488.7M390.2 478.4L388.6 478.1M390.2 478.4L394.7 484.9M386.6 498.7L386.8 491.4M386.6 498.7L381.9 502.6M381.9 502.6L377.0 503.2M379.2 489.3L386.8 491.2M379.2 489.3L376.0 500.1M376.0 500.1L377.0 503.2M386.8 491.2L386.8 491.4M373.1 507.3L377.0 503.2M387.1 517.9L387.9 517.1M387.9 517.1L387.4 509.8M387.4 509.8L381.9 502.6M377.3 487.3L379.2 489.3M387.7 489.9L386.8 491.2M368.4 490.3L376.0 500.1M398.2 495.6L386.8 491.4M398.2 495.6L396.4 492.3M398.8 496.5L394.3 500.5M398.8 496.5L405.2 495.6M406.4 505.6L408.6 496.8M406.4 505.6L395.9 506.0M395.9 506.0L394.3 500.5M408.6 496.8L405.2 495.6M398.2 495.6L398.8 496.5M386.6 498.7L394.3 500.5M400.5 483.4L405.2 495.6M400.5 483.4L396.8 485.0M395.8 506.4L387.4 509.8M395.8 506.4L395.9 506.0M413.5 495.0L413.6 492.1M413.5 495.0L408.6 496.8M404.7 476.4L406.5 476.9M404.7 476.4L400.5 483.4M406.5 476.9L409.8 480.3M409.8 480.3L413.6 492.1M408.3 508.3L419.3 513.9M408.3 508.3L421.7 506.3M421.7 506.3L422.3 509.8M422.3 509.8L420.1 513.2M420.1 513.2L419.3 513.9M413.5 495.0L421.8 498.7M421.9 499.1L421.7 506.3M407.1 508.2L408.3 508.3M407.1 508.2L406.4 505.6M435.5 501.8L436.8 507.4M432.5 513.5L422.3 509.8M432.5 513.5L435.9 510.2M436.8 507.4L435.9 510.2M641.2 427.2L625.1 435.0M641.2 427.2L628.4 436.8M628.4 436.8L624.5 436.8M625.1 435.0L624.4 436.0M624.4 436.0L624.5 436.8M622.8 434.4L625.1 435.0M626.1 439.9L628.4 436.8M623.3 435.2L624.4 436.0M623.2 438.0L623.2 438.0M623.2 438.0L624.5 436.8M622.3 440.9L624.0 439.9M622.3 440.9L624.3 443.8M624.0 439.9L624.5 440.1M624.3 443.8L624.5 440.1M620.1 440.6L620.1 437.0M620.7 441.6L622.3 440.9M623.2 438.0L624.0 439.9M620.1 437.0L620.4 436.9M624.3 444.5L624.3 443.8M625.9 440.1L624.5 440.1M616.0 447.6L617.8 448.1M616.0 447.6L616.5 446.2M617.8 448.1L616.7 446.1M616.5 446.2L616.7 446.1M618.3 448.7L617.8 448.1M618.1 448.9L615.1 448.6M615.1 448.6L616.0 447.6M617.9 444.6L616.7 446.1M609.9 470.4L608.6 470.5M609.9 470.4L610.6 467.9M610.6 467.9L608.8 467.3M608.6 470.5L608.8 467.3M629.3 467.6L628.6 466.6M629.2 468.8L626.8 469.2M628.1 466.5L628.6 466.6M628.1 466.5L626.4 466.9M626.8 469.2L626.4 466.9M621.9 468.5L623.1 470.3M621.9 468.5L622.7 466.9M624.5 465.7L624.5 465.8M623.1 470.3L624.8 469.9M624.8 469.9L624.5 465.8M628.1 466.5L626.7 464.1M624.5 463.8L626.7 464.1M624.5 465.8L626.4 466.9M622.0 472.5L625.2 472.8M622.0 472.5L621.5 473.0M621.6 473.3L621.5 473.0M621.6 473.3L624.2 474.3M624.2 474.3L625.2 472.8M614.3 464.0L616.4 462.8M614.3 464.0L615.0 465.2M616.6 464.8L615.9 465.4M615.0 465.2L615.9 465.4M624.9 453.8L626.2 453.1M624.9 453.8L624.7 451.1M626.2 453.1L626.4 451.8M624.7 451.1L626.4 451.8M624.1 450.6L624.7 451.1M624.8 453.9L622.1 453.7M624.8 453.9L624.9 453.8M627.8 448.2L629.0 451.0M629.0 451.0L628.2 451.4M628.2 451.4L626.4 451.8M627.0 454.6L627.0 454.2M627.0 454.6L627.8 455.5M630.0 453.0L627.2 454.1M630.0 453.0L627.8 455.5M627.2 454.1L627.0 454.2M624.8 453.9L625.3 455.0M625.3 455.0L627.0 454.6M626.2 453.1L627.0 454.2M631.1 452.1L630.0 453.0M631.1 452.1L629.0 451.0M628.2 451.4L627.2 454.1M627.9 455.9L627.1 456.7M627.9 455.9L627.8 455.5M625.3 455.0L624.8 456.4M627.1 456.7L624.8 456.4M622.2 456.8L624.2 456.9M624.8 456.4L624.2 456.9M621.7 459.4L625.7 459.0M624.2 456.9L625.7 459.0M631.1 452.1L640.5 453.7M627.9 455.9L630.6 457.1M630.6 457.1L640.5 453.7M427.6 483.1L422.9 481.1M427.6 483.1L429.2 482.2M429.2 482.2L431.8 472.3M422.2 480.3L422.9 481.1M422.2 480.3L421.2 472.9M421.2 472.9L431.8 472.3M427.4 490.9L427.6 483.1M413.6 492.1L422.9 481.1M439.6 483.4L439.6 489.4M439.6 483.4L429.2 482.2M437.7 492.6L439.6 489.4M409.8 480.3L422.2 480.3M419.1 470.0L421.2 472.9M417.8 470.1L406.5 476.9M432.1 471.9L431.8 472.3M432.1 471.9L426.8 465.9M426.8 465.9L420.2 468.1M460.4 500.7L463.5 492.8M460.4 500.7L452.2 501.8M452.0 489.3L463.5 490.6M463.5 490.6L463.5 492.8M449.6 495.7L449.4 498.5M452.2 501.8L449.4 498.5M438.6 497.9L443.8 498.7M439.6 489.4L441.8 490.0M443.8 498.7L449.4 498.5M401.9 529.3L398.0 533.3M401.9 529.3L413.6 534.0M407.8 544.7L413.5 541.8M413.6 534.0L413.5 541.8M454.1 480.2L451.4 488.0M454.1 480.2L459.3 478.6M463.5 490.6L465.2 488.0M451.4 488.0L451.5 488.4M459.3 478.6L465.2 488.0M463.5 492.8L467.0 495.1M476.8 494.4L477.8 488.2M477.6 488.0L467.7 487.2M465.2 488.0L467.7 487.2M474.8 464.7L479.3 467.3M474.8 464.7L475.8 453.3M479.3 467.3L482.2 457.4M482.2 457.4L482.1 455.1M482.1 455.1L479.6 452.9M479.6 452.9L476.1 452.9M475.8 453.3L476.1 452.9M474.6 454.4L475.8 453.3M472.7 464.0L474.8 464.7M487.0 469.1L479.8 468.3M487.0 469.1L487.4 468.9M479.8 468.3L479.3 467.3M487.4 468.9L489.7 461.3M489.7 461.3L482.2 457.4M491.0 452.2L494.7 456.8M491.0 452.2L482.1 455.1M489.7 461.3L494.7 456.8M470.7 448.2L476.9 444.2M470.7 448.2L476.1 452.9M480.7 448.5L476.9 444.2M480.7 448.5L479.6 452.9M469.9 448.0L470.7 448.2M469.9 448.0L465.3 451.8M463.8 461.7L464.8 461.7M463.8 461.7L462.9 460.0M465.3 451.8L462.9 460.0M384.4 473.4L386.1 469.0M392.2 472.2L394.0 470.5M394.0 470.5L386.1 469.0M383.5 462.4L385.5 464.3M385.5 464.3L386.1 469.0M400.9 451.4L406.7 462.5M411.9 457.0L411.2 459.2M403.3 450.3L407.3 451.4M411.2 459.2L410.5 460.5M406.7 462.5L410.5 460.5M414.0 466.1L412.7 465.1M415.9 462.5L411.2 459.2M410.5 460.5L412.7 465.1M403.8 475.1L404.9 471.1M403.8 475.1L401.3 474.0M401.3 474.0L397.1 470.0M404.9 471.1L405.6 463.7M397.1 470.0L395.2 462.9M405.6 463.7L396.8 459.4M396.8 459.4L395.2 462.9M404.7 476.4L403.8 475.1M412.7 465.1L404.9 471.1M390.2 478.4L401.3 474.0M394.0 470.5L397.1 470.0M406.7 462.5L405.6 463.7M385.5 464.3L395.2 462.9M396.8 456.4L396.8 459.4M546.0 372.8L543.0 380.3M539.8 384.0L541.2 383.6M543.0 380.3L541.2 383.6M421.2 348.0L412.3 352.3M549.6 367.2L547.0 371.1M532.4 344.9L531.5 371.8M515.1 404.3L514.9 403.8M515.1 404.3L517.4 405.2M514.9 403.8L517.2 398.5M517.4 405.2L521.1 402.1M521.1 402.1L521.7 399.5M521.7 399.5L517.2 398.5M521.0 386.2L523.9 389.1M527.8 387.3L527.5 387.9M527.8 387.3L525.8 383.8M525.8 383.8L523.9 383.6M527.5 387.9L523.9 389.1M419.4 439.6L422.2 443.2M420.2 450.3L421.6 449.1M417.7 439.0L414.8 447.0M422.2 443.2L421.6 449.1M428.1 434.8L427.8 434.6M428.1 434.8L429.9 441.7M422.2 443.2L429.9 441.7M523.1 437.0L520.1 440.3M523.1 437.0L519.5 433.9M519.5 433.9L518.6 439.5M520.1 440.3L518.6 439.5M487.0 469.1L489.6 480.2M489.6 480.2L493.8 477.8M487.4 468.9L492.3 469.0M492.3 469.0L496.8 472.8M493.8 477.8L496.8 472.8M410.3 442.5L410.8 442.3M410.3 442.5L405.0 440.0M410.8 442.3L413.2 435.7M405.0 440.0L413.2 435.7M403.9 446.2L410.3 442.5M413.2 447.2L410.8 442.3M403.3 440.6L405.0 440.0M413.8 435.0L413.2 435.7M495.2 418.0L493.7 416.8M500.3 416.1L502.4 411.9M502.4 411.9L496.4 404.7M496.4 404.7L493.7 416.8M481.4 419.3L484.7 414.5M484.7 414.5L488.5 414.8M491.4 426.2L481.3 427.6M493.7 416.8L488.5 414.8M507.0 417.8L509.6 416.9M506.7 426.1L507.9 427.7M509.6 416.9L511.9 420.2M507.9 427.7L511.9 420.2M510.3 414.9L515.7 416.6M510.3 414.9L509.6 416.9M515.7 416.6L514.2 420.1M514.2 420.1L511.9 420.2M510.4 413.3L510.5 413.2M510.4 413.3L505.3 409.9M510.5 413.2L512.6 406.8M505.3 409.9L505.7 408.5M505.7 408.5L511.5 406.7M511.5 406.7L512.6 406.8M502.4 411.9L505.3 409.9M510.3 414.9L510.4 413.3M513.2 406.5L512.6 406.8M513.2 406.5L514.5 409.1M514.5 409.1L513.4 412.6M513.4 412.6L510.5 413.2M459.5 446.7L463.1 445.7M459.5 446.7L459.1 447.6M459.1 447.6L463.3 450.1M463.1 445.7L463.3 450.1M461.1 441.6L459.5 446.7M464.9 442.1L463.1 445.7M451.9 442.0L455.2 448.4M455.2 448.4L459.1 447.6M454.3 451.1L455.2 448.4M465.3 451.8L463.3 450.1M460.8 459.1L462.9 460.0M469.9 448.0L468.2 442.0M463.7 406.2L464.1 405.9M463.7 406.2L462.9 415.0M464.1 405.9L469.0 405.5M462.9 415.0L463.7 415.7M463.7 415.7L471.7 414.7M469.0 405.5L471.8 407.0M471.7 414.7L472.5 408.9M471.8 407.0L472.5 408.9M458.2 416.3L462.9 415.0M458.2 416.3L460.8 424.7M465.3 421.2L463.7 415.7M472.7 417.3L471.7 414.7M484.7 414.5L484.6 414.4M484.6 414.4L472.5 408.9M435.4 391.3L435.1 392.7M421.9 400.7L429.6 400.8M435.1 392.7L429.6 400.8M435.3 425.3L434.1 421.6M444.7 422.2L439.1 419.8M439.1 419.8L434.1 421.6M428.1 434.8L433.0 432.3M425.1 418.7L432.4 420.5M434.1 421.6L432.4 420.5M443.1 389.6L448.2 400.7M443.1 389.6L438.3 389.9M438.3 389.9L436.0 390.6M440.1 406.3L443.3 405.0M440.1 406.3L438.2 403.6M435.1 392.7L438.2 403.6M443.3 405.0L448.2 400.7M463.7 406.2L454.8 406.5M464.1 405.9L462.3 399.6M456.3 398.1L462.3 399.6M456.3 398.1L452.0 402.5M452.0 402.5L454.8 406.5M421.2 348.0L427.5 355.3M416.5 359.6L422.1 361.3M422.1 361.3L427.5 355.3M459.9 334.1L436.7 357.3M427.5 355.3L436.7 357.3M459.9 334.1L457.9 356.6M447.6 368.6L457.9 356.6M447.6 368.6L436.3 359.2M436.7 357.3L436.3 359.2M424.1 382.3L423.3 375.9M425.3 380.7L425.3 376.1M423.3 375.9L425.3 376.1M416.8 386.3L413.9 376.7M413.9 376.7L419.6 375.0M423.3 375.9L419.6 375.0M429.0 379.7L426.5 375.9M426.5 375.9L425.3 376.1M564.5 403.5L567.2 406.4M564.5 403.5L565.8 399.4M566.3 399.2L565.8 399.4M566.3 399.2L566.7 400.5M566.7 400.5L567.2 406.4M566.7 400.5L569.7 405.9M567.2 406.4L567.3 406.7M569.7 405.9L567.3 406.7M451.2 636.4L454.0 633.0M451.2 636.4L459.1 634.6M460.1 633.2L458.9 632.5M460.1 633.2L459.1 634.6M458.9 632.5L454.0 633.0M409.1 627.7L418.5 653.0M426.6 698.5L427.0 694.3M426.6 698.5L417.9 711.9M418.5 653.0L427.0 694.3M413.7 623.6L413.8 623.6M416.7 628.3L418.5 653.0M416.7 628.3L415.2 625.5M413.8 623.6L415.2 625.5M441.4 650.1L450.6 637.0M441.4 650.1L446.0 629.4M450.6 637.0L450.7 629.2M450.7 629.2L448.4 627.4M446.0 629.4L448.4 627.4M441.0 618.0L442.2 620.0M441.0 618.0L446.4 613.9M442.2 620.0L445.8 618.4M445.8 618.4L446.8 614.9M446.4 613.9L446.8 614.9M401.6 580.2L402.8 583.7M403.2 571.3L406.5 572.3M406.5 572.3L409.1 581.8M409.1 581.8L407.1 584.1M407.1 584.1L402.8 583.7M396.5 589.4L397.4 589.5M402.8 583.7L397.4 589.5M444.4 612.1L442.5 608.6M444.4 612.1L442.4 612.9M442.4 612.9L438.7 611.3M438.7 611.3L439.1 608.7M439.1 608.7L442.5 608.6M439.1 603.7L436.5 603.8M439.1 603.7L442.6 608.1M436.5 603.8L435.9 606.6M439.1 608.7L436.0 606.6M442.5 608.6L442.6 608.1M435.9 606.6L436.0 606.6M414.8 602.8L416.8 603.4M414.8 602.8L416.7 598.5M416.8 603.4L420.4 600.7M416.7 598.5L419.6 598.9M420.4 600.7L419.6 598.9M422.9 603.2L421.7 606.4M422.9 603.2L420.4 600.7M421.7 606.4L420.2 606.1M420.2 606.1L416.8 603.4M421.3 596.9L421.3 594.2M421.3 596.9L428.4 599.8M421.3 594.2L423.5 593.8M423.5 593.8L426.9 594.3M426.9 594.3L428.5 598.6M428.5 598.6L428.4 599.8M429.2 605.3L428.7 600.2M429.2 605.3L423.0 610.1M422.9 603.2L428.4 600.0M423.0 610.1L421.7 606.4M428.7 600.2L428.4 600.0M421.3 596.9L419.6 598.9M428.4 599.8L428.4 600.0M428.5 598.6L432.4 594.7M428.7 600.2L432.5 600.7M432.5 600.7L435.3 597.4M435.3 597.4L434.7 594.4M432.4 594.7L434.7 594.4M425.2 577.1L427.3 576.8M425.2 577.1L425.3 584.8M427.3 576.8L428.4 579.1M425.3 584.8L428.4 579.1M431.3 581.0L428.4 579.1M432.3 573.9L433.2 575.2M432.3 573.9L429.1 574.4M429.1 574.4L427.3 576.8M421.7 585.8L420.9 578.9M421.7 585.8L424.5 586.1M424.9 586.1L424.5 586.1M424.9 586.1L425.3 584.8M425.2 577.1L421.1 576.7M420.9 578.9L421.1 576.7M524.7 685.5L526.4 684.5M524.7 685.5L525.8 687.7M527.7 684.9L527.4 686.0M527.7 684.9L526.4 684.5M527.4 686.0L525.8 687.7M522.5 689.2L522.7 689.2M522.5 689.2L521.7 687.5M521.7 687.5L523.0 684.7M523.0 684.7L524.7 685.5M522.7 689.2L525.8 688.6M525.8 687.7L525.8 688.6M524.7 693.2L522.7 689.2M525.9 692.0L526.1 688.8M525.8 688.6L526.1 688.8M518.3 706.8L516.8 706.2M518.8 706.0L518.3 705.3M518.3 705.3L516.8 706.2M513.8 715.7L513.9 708.9M513.9 708.9L514.6 706.8M516.8 706.2L514.6 706.8M520.9 706.5L521.1 706.2M521.1 706.2L519.4 702.3M518.3 705.3L517.8 703.4M519.4 702.3L517.8 703.4M521.1 706.2L522.8 705.2M520.0 701.4L519.4 702.3M520.0 701.4L521.0 700.9M521.0 700.9L522.8 705.2M525.1 705.9L523.7 705.2M523.7 705.2L522.8 705.2M521.6 699.7L521.6 699.7M521.6 699.7L521.1 700.8M521.6 699.7L526.6 698.8M521.1 700.8L524.1 702.4M524.1 702.4L528.8 701.6M528.8 701.6L526.6 698.8M526.4 696.1L526.6 698.8M524.3 694.5L523.0 694.7M523.0 694.7L521.6 699.7M521.0 700.9L521.1 700.8M523.7 705.2L524.1 702.4M548.9 715.4L528.8 701.6M544.6 650.3L542.8 652.0M542.0 649.5L540.4 650.4M542.8 652.0L539.2 652.0M540.4 650.4L539.2 652.0M538.1 657.3L540.4 655.3M537.3 657.2L537.9 657.3M537.3 657.2L535.8 654.2M535.8 654.2L538.5 652.0M540.4 655.3L538.9 652.2M538.5 652.0L538.9 652.2M547.2 658.5L541.8 655.6M547.2 658.5L542.7 652.2M542.7 652.2L541.8 655.6M557.3 664.4L547.2 658.5M540.4 655.3L541.8 655.6M541.3 662.6L541.6 662.8M565.7 647.3L632.1 645.9M542.8 652.0L542.7 652.2M538.9 652.2L539.2 652.0M504.1 556.6L506.9 554.6M504.1 556.6L503.9 560.7M506.9 554.6L507.3 554.5M507.3 554.5L508.9 556.8M504.8 562.1L510.8 562.4M510.8 562.4L508.9 556.8M515.4 553.3L516.7 561.6M515.4 553.3L509.2 553.0M509.2 553.0L507.3 554.5M508.9 556.8L516.7 561.6M518.0 550.8L520.3 550.2M518.0 550.8L515.4 553.3M520.3 550.2L523.6 554.6M523.6 554.6L522.2 557.7M522.2 557.7L516.7 561.7M516.7 561.6L516.7 561.7M490.7 563.0L487.2 556.5M490.7 563.0L495.8 560.5M487.2 556.5L495.4 556.5M495.8 560.5L495.4 556.5M490.2 566.5L490.7 563.0M487.0 556.4L487.2 556.5M497.5 562.9L495.8 560.5M497.7 554.1L497.2 550.8M497.7 554.1L495.4 556.5M497.2 550.8L486.6 549.6M504.1 556.6L497.7 554.1M506.9 554.6L502.4 547.7M497.2 550.8L499.0 545.4M502.4 547.7L499.0 545.4M496.9 586.1L493.1 586.1M496.9 586.1L499.7 592.3M499.7 592.3L491.9 595.7M493.1 586.1L491.9 595.7M501.8 593.3L502.8 595.5M501.8 593.3L503.6 591.1M503.6 591.1L505.2 590.0M502.8 595.5L508.3 596.6M507.0 589.8L505.2 590.0M507.0 589.8L510.2 595.2M510.2 595.2L508.3 596.6M509.5 601.9L508.3 596.6M509.5 601.9L502.4 601.5M502.8 595.5L501.5 598.9M501.5 598.9L502.4 601.5M506.0 606.1L509.7 602.8M506.0 606.1L502.4 602.3M509.7 602.8L509.5 601.9M509.5 601.9L509.5 601.9M502.4 602.3L502.4 601.5M487.5 576.0L483.6 577.0M487.5 576.0L489.0 582.6M483.6 577.0L479.7 581.4M489.0 582.6L488.9 584.3M483.2 584.4L479.7 581.4M483.2 584.4L488.6 584.5M488.6 584.5L488.9 584.3M487.5 576.0L487.5 576.0M478.5 572.3L478.2 573.9M478.2 573.9L483.6 577.0M497.9 575.8L498.4 577.4M498.4 577.4L489.0 582.6M476.8 577.4L478.3 581.4M476.8 577.4L472.8 577.7M478.3 581.4L474.8 584.3M474.8 584.3L471.7 580.3M471.7 580.3L472.8 577.7M478.2 573.9L477.5 574.5M477.5 574.5L476.8 577.4M479.7 581.4L478.3 581.4M461.3 512.5L469.9 514.1M461.3 512.5L464.5 505.8M469.9 514.1L465.6 505.9M464.5 505.8L465.6 505.9M460.4 500.7L464.5 505.8M450.0 508.5L452.2 501.8M450.0 508.5L451.3 516.5M458.8 516.2L451.3 516.5M458.8 516.2L461.3 512.5M473.6 517.6L473.5 517.5M473.6 517.6L476.9 509.2M471.4 504.8L465.6 505.9M476.9 509.2L474.1 505.7M473.5 517.5L469.9 514.1M603.2 505.7L602.2 504.9M603.2 505.7L605.9 505.7M605.9 505.7L606.4 503.8M606.4 503.8L604.7 501.7M602.2 504.9L604.7 501.7M611.3 526.1L612.3 528.2M611.3 526.1L610.5 525.7M610.5 525.7L609.4 525.5M610.3 529.4L608.8 526.2M610.3 529.4L612.1 529.2M608.8 526.2L609.4 525.5M612.1 529.2L612.3 528.2M609.6 529.8L610.3 529.4M606.6 526.5L608.8 526.2M607.7 529.9L606.8 528.9M614.1 531.3L613.8 530.8M613.8 530.8L612.1 529.2M629.7 519.5L624.6 516.8M625.4 513.3L624.2 515.9M624.6 516.8L624.2 515.9M603.3 517.2L604.7 517.9M603.3 517.2L603.8 514.9M603.8 514.9L604.0 514.7M607.0 514.2L607.7 514.4M604.7 517.9L607.7 514.4M600.8 527.3L599.5 526.9M600.8 527.3L600.9 531.6M599.5 526.9L599.3 531.5M600.9 531.6L600.7 531.7M600.7 531.7L599.5 531.8M599.5 531.8L599.3 531.5M602.5 534.4L600.7 531.7M599.6 534.8L599.1 533.3M599.1 533.3L599.5 531.8M598.1 527.7L597.2 530.5M598.1 527.7L595.1 528.6M595.1 528.6L595.8 530.2M597.2 530.5L595.8 530.2M599.3 526.8L599.5 526.9M599.3 526.8L598.1 527.7M599.3 531.5L597.8 531.1M597.8 531.1L597.2 530.5M594.6 524.1L594.7 528.3M594.6 524.1L598.2 525.1M599.3 526.8L598.7 525.4M594.7 528.3L595.1 528.6M598.2 525.1L598.7 525.4M610.8 506.0L610.6 504.3M610.8 506.0L611.4 506.4M610.6 504.3L613.5 505.1M611.4 506.4L613.5 505.1M610.8 506.0L608.4 507.7M610.6 504.3L610.1 502.9M605.9 505.7L606.3 507.4M606.4 503.8L609.7 502.8M608.4 507.7L606.3 507.4M602.0 507.1L603.2 505.7M603.0 509.8L606.2 507.6M606.3 507.4L606.2 507.6M527.0 563.2L532.0 560.0M527.0 563.2L526.0 559.0M532.0 560.0L530.8 556.7M530.8 556.7L529.0 555.8M526.0 559.0L528.4 555.8M529.0 555.8L528.4 555.8M523.6 554.6L528.4 555.8M524.3 560.0L522.2 557.7M524.3 560.0L526.0 559.0M562.6 591.8L560.4 592.8M562.6 591.8L561.8 591.0M560.4 592.8L558.5 593.3M561.8 591.0L559.1 590.6M559.1 590.6L558.1 591.4M558.5 593.3L558.1 591.4M491.5 631.6L490.6 630.7M491.5 631.6L490.2 635.2M490.6 630.7L490.4 630.7M490.2 635.2L487.5 634.3M487.5 634.3L488.1 632.2M490.4 630.7L488.1 632.2M491.5 631.6L492.5 631.5M490.7 629.3L490.6 630.7M490.7 629.3L493.1 628.8M492.5 631.5L493.0 631.1M493.1 628.8L493.0 631.1M495.7 636.5L492.5 631.5M495.7 636.5L497.8 631.6M497.8 631.6L497.4 631.2M497.4 631.2L493.0 631.1M514.7 632.3L511.9 629.1M514.7 632.3L515.9 631.3M515.9 631.3L514.6 625.2M511.9 629.1L514.6 625.2M540.9 638.2L538.8 638.4M540.9 638.2L540.6 635.1M540.6 635.1L538.9 636.8M538.8 638.4L538.9 636.8M530.3 627.6L531.4 624.3M530.3 627.6L530.5 627.8M532.4 624.1L531.4 624.3M532.4 624.1L532.8 625.6M532.8 625.6L530.5 627.8M535.1 628.6L535.1 628.6M535.1 628.6L532.8 625.6M530.5 627.8L531.0 628.3M535.1 628.6L531.0 628.3M497.8 616.2L501.9 613.0M497.8 616.2L499.4 618.1M501.9 613.0L502.6 613.9M499.4 618.1L502.7 618.1M502.6 613.9L502.7 618.1M508.0 589.1L508.4 585.8M508.0 589.1L512.5 590.3M508.4 585.8L512.5 588.0M512.5 590.3L512.5 588.0M515.8 592.4L513.5 591.7M515.8 592.4L516.8 595.6M516.8 595.6L513.2 597.4M513.3 591.7L513.5 591.7M513.3 591.7L510.3 595.1M510.3 595.1L513.2 597.4M508.0 589.1L507.0 589.8M510.2 595.2L510.3 595.1M512.5 590.3L513.3 591.7M514.3 599.5L509.5 601.9M514.3 599.5L513.2 597.4M514.3 599.5L516.2 600.1M516.8 595.6L517.3 596.3M517.3 596.3L516.4 600.0M516.2 600.1L516.4 600.0M509.7 602.8L513.1 605.8M516.2 600.1L514.4 606.0M513.1 605.8L514.4 606.0M506.0 606.1L505.6 608.6M505.6 608.6L505.9 608.9M505.9 608.9L508.9 609.7M513.1 605.8L508.9 609.7M612.4 470.9L613.8 471.1M612.4 470.9L613.4 468.3M613.8 471.1L614.8 470.4M613.4 468.3L614.4 468.6M614.8 470.4L614.4 468.6M615.9 473.4L613.8 471.1M615.9 473.4L616.7 471.1M616.7 471.1L616.1 470.4M614.8 470.4L616.1 470.4M616.7 471.1L616.9 471.0M618.3 468.6L618.3 467.7M618.3 467.7L616.0 469.3M616.1 470.4L616.0 469.3M621.5 468.5L620.1 470.3M621.5 468.5L619.0 467.4M619.0 467.4L620.1 470.3M621.9 468.5L621.5 468.5M623.1 470.3L622.0 472.5M619.8 471.0L620.1 470.3M621.5 473.0L621.5 473.0M619.1 466.3L618.8 467.3M618.8 467.3L619.0 467.4M618.8 467.3L618.4 467.5M618.4 467.5L618.3 467.7M537.3 657.2L535.2 658.2M536.8 661.8L535.0 661.9M535.2 658.2L534.6 658.9M535.0 661.9L534.6 658.9M522.9 684.5L522.8 684.4M522.9 684.5L524.9 682.3M522.4 680.5L523.8 680.9M522.4 680.5L521.9 682.0M522.8 684.4L521.9 682.0M524.9 682.3L523.8 680.9M523.0 684.7L522.9 684.5M526.4 684.5L525.6 682.3M524.9 682.3L525.6 682.3M525.1 677.6L523.9 680.8M525.1 677.6L525.2 677.6M523.9 680.8L526.1 679.6M525.2 677.6L526.1 679.6M535.8 654.2L535.0 654.1M535.2 658.2L534.3 656.4M535.0 654.1L534.3 656.4M584.9 550.8L586.1 548.8M584.9 550.8L584.3 551.1M586.1 548.8L583.4 549.3M584.3 551.1L583.2 549.9M583.4 549.3L583.2 549.9M584.7 546.9L586.5 548.1M584.7 546.9L583.8 547.0M586.5 548.1L586.1 548.8M583.8 547.0L583.4 549.3M593.3 549.1L593.8 548.1M593.3 549.1L602.2 554.5M602.2 554.5L597.4 548.1M597.4 548.1L594.0 548.0M594.0 548.0L593.8 548.1M599.4 535.4L597.0 534.9M599.1 533.3L596.6 533.9M597.0 534.9L596.6 533.9M597.8 531.1L595.6 533.5M596.6 533.9L595.6 533.5M605.4 532.5L606.1 532.3M605.4 532.5L603.2 531.7M606.1 532.3L603.3 529.6M603.2 531.7L602.6 530.8M603.3 529.6L602.6 530.8M606.6 532.3L606.1 532.3M603.2 534.1L603.1 534.4M603.2 534.1L605.4 532.5M603.2 534.1L603.2 531.7M603.4 529.2L603.3 529.6M600.9 531.6L602.6 530.8M602.4 527.4L600.8 527.3M605.0 539.7L605.2 544.1M605.0 539.7L603.2 542.4M605.2 544.1L603.2 542.5M603.2 542.4L603.2 542.5M625.6 562.0L605.2 544.1M605.0 539.7L605.0 539.7M602.0 540.6L602.4 541.6M602.4 541.6L603.2 542.4M596.1 545.1L596.1 544.1M596.1 545.1L594.8 545.5M594.8 545.5L593.7 545.3M596.1 544.1L595.6 542.8M595.6 542.8L592.7 543.5M592.7 543.5L593.7 545.3M597.4 548.1L596.7 545.7M596.7 545.7L596.1 545.1M594.0 548.0L594.8 545.5M592.4 546.4L593.7 545.3M592.4 546.4L593.8 548.1M592.4 543.4L592.7 543.5M592.4 543.4L590.8 543.4M590.8 543.4L592.2 546.4M592.2 546.4L592.4 546.4M599.4 542.9L600.1 544.6M599.4 542.9L599.0 542.7M598.4 543.1L599.0 542.7M598.4 543.1L598.2 545.1M598.2 545.1L600.1 544.6M600.1 544.6L600.1 544.6M602.4 541.6L599.4 542.9M603.2 542.5L600.1 544.6M596.7 545.7L598.2 545.1M596.1 544.1L598.4 543.1M602.2 554.5L607.7 560.5M607.7 560.5L600.1 544.6M601.4 539.7L601.4 539.7M599.0 542.7L598.8 542.0M601.4 539.7L598.8 542.0M620.2 505.3L619.7 507.5M620.2 505.3L622.0 506.1M622.0 506.1L621.7 507.7M619.7 507.5L620.7 508.6M620.7 508.6L621.7 507.7M619.9 505.0L620.2 505.3M619.9 505.0L617.5 507.6M617.6 508.0L617.5 507.6M617.6 508.0L619.7 507.5M619.2 503.6L621.6 500.9M619.2 503.6L619.9 505.0M621.8 500.8L621.6 500.9M621.8 500.8L623.4 503.9M623.4 503.9L623.0 505.8M623.0 505.8L622.0 506.1M623.6 506.1L623.0 505.8M622.5 508.3L621.7 507.7M620.3 510.7L620.7 508.6M620.3 510.7L617.4 508.9M617.4 508.9L617.6 508.0M625.2 506.0L625.6 505.9M627.8 506.7L626.6 506.2M625.6 505.9L626.6 506.2M626.2 496.4L624.5 495.5M627.0 494.3L625.1 493.2M624.5 495.5L623.0 494.4M625.1 493.2L623.0 494.4M624.7 491.4L624.9 493.1M624.7 491.4L623.8 491.0M623.8 491.0L623.0 491.6M623.0 491.6L623.3 492.6M624.9 493.1L623.3 492.6M627.5 492.8L626.9 490.9M626.9 490.9L625.8 490.8M625.8 490.8L624.7 491.4M625.1 493.2L624.9 493.1M613.4 496.0L611.5 491.9M613.4 496.0L615.1 493.2M611.5 491.9L614.3 492.1M615.1 493.2L614.3 492.1M617.0 493.9L616.5 495.1M617.0 493.9L616.8 493.4M614.3 497.5L616.5 495.1M614.3 497.5L613.4 497.4M613.4 497.4L613.4 496.0M616.8 493.4L615.1 493.2M611.8 466.6L610.6 467.9M611.8 466.6L613.1 467.4M613.1 467.4L613.4 468.3M612.4 470.9L611.7 471.3M609.9 470.4L611.2 471.3M611.2 471.3L611.7 471.3M616.8 497.7L617.2 497.2M616.8 497.7L619.5 497.5M617.2 497.2L620.9 496.6M619.5 497.5L620.9 496.6M614.3 497.5L616.1 498.2M616.5 495.1L617.9 496.2M616.1 498.2L616.8 497.7M617.9 496.2L617.2 497.2M618.0 499.5L619.5 497.5M618.0 499.5L617.0 499.4M617.0 499.4L616.1 498.2M622.6 499.9L622.8 499.2M622.6 499.9L621.8 500.8M622.8 499.2L620.9 496.6M621.6 500.9L618.0 499.5M620.9 496.6L620.9 496.6M617.0 493.9L617.2 493.9M617.9 496.2L619.1 495.4M617.2 493.9L619.1 495.4M409.8 405.0L409.0 395.7M404.7 407.1L400.3 398.4M409.0 395.7L400.3 398.4M433.7 408.3L431.6 403.1M433.7 408.3L427.3 410.8M427.3 410.8L429.9 401.7M431.6 403.1L429.9 401.7M440.1 406.3L439.2 408.1M438.2 403.6L431.6 403.1M438.0 408.6L439.2 408.1M438.0 408.6L433.7 408.3M426.2 411.7L427.3 410.8M438.0 408.6L432.4 420.5M429.6 400.8L429.9 401.7M401.9 529.3L403.0 526.1M387.9 517.1L391.4 516.7M391.4 516.7L403.0 526.1M416.2 516.9L418.4 527.2M416.2 516.9L406.3 518.8M418.4 527.2L404.9 523.3M406.3 518.8L404.9 523.3M418.4 527.2L418.7 527.6M418.7 527.6L418.2 530.9M413.6 534.0L417.7 531.7M418.2 530.9L417.7 531.7M404.9 523.3L403.0 526.1M615.6 461.1L617.0 462.0M615.6 461.1L615.4 458.9M617.4 457.2L617.3 457.2M617.3 457.2L615.5 458.8M615.4 458.9L615.5 458.8M626.8 469.2L626.2 469.8M624.8 469.9L625.2 470.0M626.2 469.8L625.2 470.0M625.2 472.8L625.7 472.7M625.2 470.0L625.7 472.7M616.9 467.1L616.6 466.9M616.9 467.1L615.3 468.7M616.6 466.9L615.5 467.1M615.5 467.1L615.0 468.6M615.3 468.7L615.0 468.6M618.4 467.5L616.9 467.1M615.9 465.4L616.6 466.9M616.0 469.3L615.3 468.7M614.1 466.7L615.5 467.1M614.1 466.7L615.0 465.2M613.1 467.4L614.1 466.7M614.4 468.6L615.0 468.6M627.1 459.6L626.6 459.9M627.1 459.6L628.6 459.5M628.6 459.5L629.6 460.7M626.4 460.4L629.2 463.6M626.4 460.4L626.6 459.9M629.6 460.7L630.4 463.3M630.4 463.3L629.5 463.6M629.5 463.6L629.2 463.6M627.1 456.7L627.1 459.6M625.7 459.0L626.6 459.9M630.6 457.1L628.6 459.5M624.0 462.9L626.4 460.4M626.7 464.1L629.2 463.6M635.2 464.5L630.4 463.3M628.6 466.6L629.5 463.6M600.9 484.5L602.2 484.1M600.9 484.5L600.6 487.8M602.2 484.1L603.8 486.2M603.8 486.2L601.5 488.8M600.6 487.8L601.5 488.8M605.3 471.9L605.2 472.0M605.3 471.9L605.4 471.6M605.2 472.0L597.5 470.3M605.4 471.6L600.1 469.2M600.1 469.2L597.5 470.3M533.9 429.1L535.9 429.2M533.9 429.1L535.6 432.9M535.9 429.2L537.5 433.2M535.6 432.9L537.5 433.2M528.7 432.6L528.7 432.0M528.7 432.6L535.6 432.9M533.8 429.1L528.7 432.0M533.8 429.1L533.9 429.1M527.6 422.8L523.5 420.8M527.6 422.8L530.3 422.3M529.9 415.8L530.3 422.3M529.9 415.8L529.3 415.5M523.5 420.8L523.0 419.4M523.0 419.4L529.3 415.5M538.2 421.3L535.2 417.1M538.2 421.3L536.9 423.6M536.9 423.6L535.6 424.2M534.8 417.0L535.2 417.1M534.8 417.0L531.7 422.5M535.6 424.2L534.4 424.4M531.7 422.5L533.6 424.3M534.4 424.4L533.6 424.3M533.6 424.3L533.6 424.3M541.7 426.6L540.1 428.3M541.7 426.6L536.9 423.6M540.1 428.3L537.6 427.9M537.6 427.9L535.6 424.2M529.9 415.8L534.5 416.5M530.3 422.3L531.7 422.5M534.5 416.5L534.8 417.0M537.6 427.9L536.0 428.9M536.0 428.9L534.4 424.4M527.6 422.8L527.8 430.1M527.8 430.1L528.5 431.3M528.5 431.3L533.6 424.3M536.0 428.9L535.9 429.2M533.8 429.1L533.6 424.3M528.7 432.0L528.5 431.3M441.4 478.8L444.6 474.1M441.4 478.8L441.5 481.5M441.5 481.6L441.5 481.5M441.5 481.6L451.9 479.0M444.6 474.1L449.1 472.7M451.9 479.0L449.1 472.7M432.1 471.9L434.1 471.3M439.6 483.4L441.5 481.5M434.1 471.3L441.4 478.8M451.4 488.0L441.5 481.6M454.1 480.2L451.9 479.0M440.0 507.1L443.4 507.0M440.0 507.1L443.4 502.0M443.4 502.0L443.4 507.0M436.8 507.4L440.0 507.1M435.9 510.2L449.9 518.1M450.0 508.5L443.4 507.0M451.3 516.5L449.9 518.1M443.8 498.7L443.4 502.0M473.5 517.5L462.7 518.0M458.8 516.2L459.0 516.4M462.7 518.0L459.0 516.4M416.2 516.9L418.2 515.3M418.2 515.3L422.4 522.3M418.7 527.6L421.2 526.5M422.4 522.3L421.2 526.5M420.1 513.2L425.6 520.4M419.3 513.9L418.2 515.3M422.4 522.3L425.6 520.4M432.5 513.5L433.2 519.4M433.2 519.4L431.2 522.0M425.6 520.4L431.2 522.0M449.9 518.1L449.0 520.0M433.2 519.4L442.3 522.1M449.0 520.0L442.3 522.1M470.3 476.4L461.7 471.6M470.3 476.4L477.3 474.9M477.3 474.9L479.0 469.8M479.0 469.8L461.6 471.0M461.6 471.0L461.7 471.6M459.3 478.6L461.7 471.6M467.7 487.2L470.3 476.4M477.8 476.2L477.3 474.9M489.6 480.2L489.4 480.8M479.8 468.3L479.0 469.8M461.0 469.2L463.8 461.7M461.0 469.2L461.6 471.0M461.0 469.2L451.6 468.8M451.6 468.8L449.1 472.7M531.8 387.3L530.7 390.9M531.8 387.3L531.2 386.6M530.7 390.9L530.0 386.8M531.2 386.6L530.8 386.5M530.8 386.5L530.0 386.8M531.3 393.0L530.5 392.4M531.3 393.0L535.8 391.0M530.5 392.4L530.7 390.9M536.2 390.7L535.8 391.0M536.2 390.7L531.8 387.3M534.3 383.8L531.2 386.6M536.7 388.3L536.4 390.6M536.4 390.6L536.2 390.7M530.2 383.9L530.8 386.5M527.8 387.3L530.0 386.8M525.8 383.8L527.2 382.4M522.6 379.1L524.4 377.3M522.6 379.1L519.8 377.0M519.8 377.0L519.5 376.4M519.5 376.4L524.7 374.6M524.4 377.3L524.7 374.6M528.2 380.1L524.4 377.3M522.3 379.9L522.6 379.1M518.3 381.0L517.9 380.1M517.9 380.1L519.8 377.0M528.5 357.9L519.0 376.0M528.5 357.9L524.7 374.6M519.0 376.0L519.5 376.4M532.4 344.9L528.5 357.9M512.9 395.8L513.2 393.7M512.9 395.8L512.7 396.0M507.7 392.0L508.7 391.6M507.7 392.0L509.0 394.2M509.0 394.2L512.7 396.0M513.2 393.7L508.7 391.6M517.4 405.2L519.4 407.3M521.1 402.1L522.8 404.5M522.8 404.5L519.4 407.3M521.7 399.5L522.0 399.4M522.0 399.4L526.7 404.9M522.8 404.5L526.7 404.9M433.2 444.5L432.7 444.7M433.2 444.5L444.6 448.6M432.7 444.7L431.9 449.0M436.4 453.3L432.0 449.3M436.4 453.3L444.6 449.7M431.9 449.0L432.0 449.3M444.6 448.6L444.6 449.7M439.6 439.6L433.2 444.5M429.9 441.7L432.7 444.7M446.4 441.2L444.6 448.6M421.6 449.1L431.9 449.0M420.0 451.5L427.7 455.8M427.7 455.8L432.0 449.3M448.1 453.7L444.6 449.7M418.2 455.8L419.9 458.0M427.7 455.8L427.3 458.1M427.3 458.1L419.9 458.0M492.9 437.7L489.5 445.5M492.9 437.7L494.9 437.6M491.5 448.0L499.6 444.3M491.5 448.0L489.5 445.5M494.9 437.6L499.6 444.3M528.8 548.3L528.0 547.9M528.8 548.3L528.8 548.4M528.8 548.4L529.0 555.8M520.3 550.2L522.8 546.8M522.8 546.8L526.3 547.5M528.0 547.9L526.3 547.5M478.5 499.1L478.6 499.1M484.3 488.6L485.4 490.9M485.4 490.9L487.1 496.8M487.1 496.8L486.0 498.3M478.6 499.1L486.0 498.3M496.4 404.7L496.2 404.0M505.7 408.5L504.6 403.8M504.6 403.8L497.9 402.3M496.2 404.0L497.9 402.3M501.6 392.1L500.7 390.2M501.6 392.1L501.7 393.2M500.7 390.2L491.0 393.9M501.7 393.2L498.2 399.5M491.0 393.9L491.4 394.9M498.2 399.5L491.4 394.9M471.0 436.0L475.7 434.9M480.0 429.6L479.8 430.7M479.8 430.7L477.1 434.1M475.7 434.9L477.1 434.1M476.9 444.2L476.9 444.0M475.7 434.9L476.9 444.0M482.2 432.2L486.8 439.1M482.2 432.2L490.1 434.3M486.8 439.1L491.4 436.7M490.1 434.3L491.4 436.7M493.3 429.1L493.4 429.3M493.4 429.3L490.1 434.3M479.8 430.7L482.2 432.2M493.4 429.3L497.2 434.5M492.9 437.7L491.4 436.7M497.2 434.5L494.9 437.6M482.5 446.5L481.2 443.1M482.5 446.5L488.2 444.9M488.2 444.9L486.5 441.9M486.5 441.9L481.6 440.6M481.2 443.1L481.6 440.6M480.7 448.5L482.5 446.5M476.9 444.0L481.2 443.1M491.0 452.2L491.5 448.0M489.5 445.5L488.2 444.9M486.8 439.1L486.5 441.9M477.1 434.1L481.6 440.6M477.6 403.5L480.4 395.9M477.6 403.5L471.8 407.0M469.0 405.5L469.3 403.4M480.4 395.9L477.7 393.9M477.7 393.9L470.6 396.3M469.3 403.4L470.6 396.3M439.1 419.8L441.6 416.4M439.2 408.1L439.5 408.6M441.6 416.4L439.5 408.6M452.5 381.4L444.7 388.5M452.5 381.4L453.5 377.7M453.5 377.7L445.6 372.3M444.3 388.6L444.7 388.5M444.3 388.6L442.9 373.1M442.9 373.1L445.6 372.3M417.1 367.7L424.3 365.9M413.9 376.7L413.6 376.4M419.6 375.0L423.9 368.8M424.3 365.9L423.9 368.8M422.1 361.3L424.4 365.8M424.3 365.9L424.4 365.8M426.5 375.9L428.6 373.6M423.9 368.8L428.6 373.6M525.4 429.0L521.5 425.1M525.4 429.0L522.7 429.7M522.7 429.7L518.8 429.2M518.8 429.2L521.2 425.4M521.2 425.4L521.5 425.1M527.8 430.1L525.4 429.0M523.5 420.8L521.5 425.1M528.7 432.6L528.5 433.1M528.5 433.1L523.2 432.0M523.2 432.0L522.7 429.7M523.2 432.0L518.2 432.2M516.7 431.2L518.2 432.2M516.7 431.2L518.8 429.2M515.8 423.5L515.8 421.4M515.8 423.5L521.2 425.4M515.8 421.4L522.9 419.3M523.0 419.4L522.9 419.3M553.0 399.2L553.1 396.6M553.0 399.2L552.0 399.2M552.0 399.2L550.1 396.6M553.1 396.6L550.1 396.6M556.1 395.6L555.9 395.3M556.1 395.6L559.9 395.2M559.9 395.2L564.2 384.9M564.2 384.9L560.7 388.1M560.7 388.1L555.9 395.3M556.1 395.6L556.2 395.8M559.9 395.2L560.8 396.4M560.8 396.4L558.6 398.2M558.6 398.2L556.2 395.8M553.7 399.4L555.6 397.8M553.7 399.4L553.0 399.2M553.1 396.6L555.6 395.1M555.9 395.3L555.6 395.1M556.2 395.8L555.6 397.8M560.8 396.4L564.8 399.4M564.8 399.4L563.9 399.8M558.6 398.2L559.0 400.2M563.9 399.8L559.0 400.2M556.8 399.7L555.6 397.8M556.8 399.7L558.9 400.3M558.9 400.3L559.0 400.2M553.7 399.4L554.4 401.3M556.8 399.7L555.3 401.2M554.4 401.3L555.3 401.2M566.3 399.2L574.5 392.0M569.7 405.9L570.5 406.1M570.5 406.1L574.5 392.0M564.8 399.4L565.8 399.4M561.0 411.8L561.5 410.1M561.0 411.8L563.0 413.7M561.5 410.1L563.1 408.4M563.0 413.7L563.4 413.7M563.4 413.7L565.9 411.1M565.9 411.1L563.1 408.4M564.5 403.5L564.3 404.0M564.3 404.0L564.7 406.3M567.3 406.7L566.7 407.4M566.7 407.4L564.7 406.3M453.5 626.9L454.1 627.8M453.5 626.9L453.4 624.4M455.4 626.4L454.1 624.2M455.4 626.4L454.8 628.1M454.8 628.1L454.1 627.8M453.4 624.4L454.1 624.2M454.1 624.2L454.1 624.2M456.7 625.4L456.2 624.3M456.7 625.4L455.4 626.4M456.2 624.3L454.1 624.2M454.8 621.0L454.1 624.2M454.8 621.0L452.4 622.7M452.4 622.7L451.3 624.3M451.3 624.3L453.4 624.4M454.9 620.9L457.1 621.4M454.9 620.9L454.8 621.0M457.1 621.4L456.2 624.3M455.6 629.5L455.6 629.6M455.6 629.5L457.3 628.8M455.6 629.6L458.5 631.4M457.3 628.8L459.7 628.7M458.5 631.4L459.6 629.9M459.6 629.9L459.7 628.7M459.7 628.7L459.7 628.7M451.2 636.4L450.6 637.0M450.7 629.2L451.4 628.3M451.4 628.3L454.1 627.8M454.0 633.0L455.6 629.6M454.8 628.1L455.6 629.5M456.7 625.4L457.8 625.5M457.8 625.5L457.3 628.8M458.9 632.5L458.5 631.4M460.3 633.1L460.1 633.2M460.3 633.1L460.6 632.8M460.6 632.8L459.6 629.9M435.4 618.0L435.5 618.5M435.4 618.0L437.0 615.7M440.0 617.0L435.5 618.5M440.0 617.0L439.7 615.4M439.7 615.4L437.0 615.7M442.2 620.0L442.1 621.1M445.8 618.4L446.5 620.0M446.5 620.0L443.8 623.3M442.1 621.1L443.8 623.3M432.2 640.9L432.2 641.4M432.2 640.9L438.5 628.1M441.4 650.1L432.6 666.5M432.2 641.4L432.6 666.5M446.0 629.4L444.9 626.7M444.9 626.7L443.6 624.9M443.6 624.9L438.5 628.1M416.7 628.3L419.7 627.0M432.2 641.4L422.9 628.3M432.6 666.5L427.0 694.3M422.9 628.3L419.7 627.0M430.4 629.8L432.2 640.9M430.4 629.8L429.4 625.1M429.4 625.1L429.0 624.1M429.0 624.1L422.4 625.8M422.9 628.3L422.4 625.8M415.2 625.5L420.8 624.7M419.7 627.0L420.8 624.7M446.5 620.0L447.1 620.4M447.1 620.4L447.5 621.9M444.0 623.8L443.8 623.3M444.0 623.8L446.6 623.8M446.6 623.8L447.5 621.9M466.1 577.5L471.5 574.7M466.1 577.5L465.2 575.4M465.2 575.4L465.9 571.4M465.9 571.4L470.5 568.6M470.5 568.6L471.9 573.6M471.9 573.6L471.5 574.7M466.0 579.8L466.1 577.5M466.0 579.8L471.7 580.3M472.8 577.7L471.5 574.7M461.3 581.7L462.7 581.6M461.3 581.7L456.8 580.3M456.8 580.3L455.5 576.0M455.5 576.0L457.1 574.0M465.6 580.3L466.0 579.8M457.1 574.0L465.2 575.4M458.9 568.1L457.1 574.0M458.9 568.1L465.9 571.4M471.2 566.9L471.4 566.7M471.2 566.9L470.5 568.6M477.5 574.5L471.9 573.6M441.0 618.0L441.0 618.0M444.4 612.1L445.9 612.9M442.4 612.9L439.8 614.8M446.4 613.9L446.4 613.6M441.0 618.0L440.0 617.0M439.8 614.8L439.7 615.4M445.9 612.9L446.4 613.6M442.6 608.1L444.2 605.8M445.9 612.9L447.8 609.3M444.2 605.8L447.8 609.3M442.5 602.4L439.1 603.7M442.5 602.4L444.5 605.0M444.2 605.8L444.5 605.0M439.9 586.3L436.7 588.8M436.7 588.8L440.6 591.8M443.0 590.2L442.9 591.6M442.9 591.6L440.6 591.8M446.9 582.2L450.2 584.7M445.5 588.3L449.8 588.7M449.8 588.7L449.9 588.7M449.9 588.7L450.2 584.7M456.8 580.3L455.3 582.5M452.4 575.2L455.5 576.0M450.2 584.7L455.3 582.5M381.8 591.0L395.4 602.0M397.4 589.5L398.6 591.8M398.6 591.8L398.0 599.9M398.0 599.9L395.4 602.0M408.9 595.8L398.6 591.8M408.9 595.8L407.9 601.2M407.9 601.2L407.7 601.4M407.7 601.4L399.5 600.5M398.0 599.9L399.5 600.5M391.4 606.6L394.2 605.1M395.4 602.0L394.2 605.1M413.3 591.1L412.2 589.5M413.3 591.1L417.0 590.1M412.2 589.5L415.1 582.3M417.0 590.1L420.8 586.3M420.8 586.3L417.6 583.4M417.6 583.4L415.1 582.3M412.6 592.6L413.3 591.1M412.6 592.6L408.9 595.8M407.1 584.1L412.2 589.5M421.3 594.2L417.0 590.1M412.6 592.6L416.7 598.5M409.1 581.8L412.7 578.9M413.7 579.8L412.7 578.9M413.7 579.8L415.1 582.3M421.7 585.8L420.8 586.3M423.5 593.8L424.5 586.1M420.9 578.9L417.2 580.6M417.2 580.6L417.6 583.4M417.2 580.6L413.7 579.8M429.2 605.3L430.4 606.5M436.3 603.4L436.5 603.8M436.3 603.4L432.5 600.7M435.9 606.6L434.8 606.9M430.4 606.5L434.8 606.9M423.1 610.3L430.2 608.5M423.1 610.3L423.0 610.1M430.4 606.5L430.2 608.5M413.8 603.3L416.3 607.3M413.8 603.3L413.4 603.4M413.4 603.4L412.5 608.4M416.3 607.3L414.2 612.0M412.5 608.4L414.0 612.0M414.2 612.0L414.0 612.0M420.2 606.1L416.3 607.3M414.8 602.8L413.8 603.3M407.9 601.2L413.4 603.4M423.1 610.3L423.0 610.6M414.6 612.4L414.2 612.0M426.9 594.3L428.2 590.5M424.9 586.1L425.2 586.2M428.2 590.5L425.2 586.2M432.6 583.3L432.4 583.6M425.2 586.2L432.4 583.6M446.6 567.1L445.7 563.7M441.6 574.6L440.3 572.8M445.7 563.7L441.9 564.6M441.9 564.6L440.3 572.8M432.3 573.9L434.3 570.2M440.3 572.8L434.3 570.2M429.1 574.4L428.5 573.6M428.5 573.6L424.8 564.8M424.8 564.8L434.1 567.8M434.3 570.2L434.1 567.8M434.5 560.9L436.3 565.2M434.5 560.9L435.0 551.8M435.0 551.8L441.2 564.6M436.3 565.2L441.2 564.6M441.9 564.6L441.2 564.6M434.1 567.8L436.3 565.2M421.1 576.7L420.7 576.1M412.7 578.9L413.5 576.3M420.7 576.1L413.5 576.3M528.2 689.2L529.5 688.0M528.2 689.2L529.2 691.4M529.2 691.4L531.0 690.5M531.0 690.5L530.0 688.0M529.5 688.0L529.5 687.9M529.5 687.9L530.0 688.0M527.4 686.0L529.5 688.0M526.1 688.8L528.2 689.2M529.1 692.3L529.2 691.4M539.2 688.7L531.0 690.5M539.2 688.7L537.3 687.6M537.3 687.6L530.0 688.0M529.6 685.0L529.5 687.9M529.6 685.0L528.6 684.6M527.7 684.9L528.4 684.6M528.4 684.6L528.6 684.6M529.6 685.0L532.9 684.0M537.3 687.6L533.7 684.2M533.7 684.2L532.9 684.0M520.0 701.4L518.3 700.4M521.6 699.7L517.9 695.5M518.3 700.4L517.9 695.5M538.5 649.1L539.8 648.9M538.5 649.1L538.8 647.3M539.8 648.9L539.8 647.5M538.8 647.3L539.3 647.2M539.8 647.5L539.3 647.2M540.4 650.4L539.8 648.9M538.4 649.3L538.5 649.1M538.4 649.3L538.3 651.8M538.3 651.8L538.5 652.0M541.3 647.6L539.8 647.5M541.9 646.9L540.4 644.8M540.4 644.8L539.7 645.2M539.7 645.2L539.3 647.2M501.1 571.4L503.1 571.3M504.7 563.5L507.2 568.4M503.1 571.3L507.2 569.0M507.2 568.4L507.2 569.0M510.2 544.1L510.2 544.1M510.2 544.1L509.2 552.8M510.2 544.1L505.7 547.9M509.2 552.8L505.7 547.9M505.0 536.2L504.7 542.0M505.0 536.2L508.1 535.9M504.7 542.0L510.2 544.1M511.6 543.6L508.1 535.9M511.6 543.6L510.2 544.1M518.0 550.8L512.1 543.5M509.2 553.0L509.2 552.8M512.1 543.5L511.6 543.6M504.7 542.0L499.0 545.3M502.4 547.7L505.7 547.9M499.0 545.4L499.0 545.3M489.6 539.1L491.4 539.6M489.6 539.1L498.1 530.6M491.4 539.6L500.7 532.0M498.1 530.6L500.7 532.0M496.8 529.4L498.1 530.6M489.1 539.0L489.6 539.1M494.7 526.1L501.3 525.9M503.8 529.9L501.3 525.9M503.8 529.9L502.7 532.1M502.7 532.1L500.7 532.0M498.5 544.8L501.5 536.2M498.5 544.8L492.8 540.3M492.8 540.3L501.5 536.2M505.0 536.2L503.5 534.7M499.0 545.3L498.5 544.8M503.5 534.7L501.5 536.2M491.4 539.6L492.8 540.3M502.7 532.1L503.5 534.7M496.9 586.1L500.1 582.2M499.7 592.3L501.8 593.3M503.6 591.1L502.5 583.7M502.5 583.7L500.1 582.2M498.4 577.4L500.2 580.2M493.1 586.1L488.9 584.3M500.2 580.2L500.1 582.2M582.1 559.5L578.9 559.4M582.1 559.5L582.8 559.3M578.9 559.4L578.8 559.3M578.8 559.3L578.3 555.4M583.2 555.0L578.3 555.4M583.2 555.0L583.8 556.6M582.8 559.3L583.8 556.6M582.1 559.5L581.2 563.7M578.9 559.4L578.8 559.5M578.8 559.5L581.2 563.7M602.2 504.9L600.0 503.8M604.7 501.7L603.5 499.7M603.5 499.7L602.2 500.6M602.2 500.6L600.0 503.8M600.3 506.8L598.6 504.5M600.0 503.8L598.6 504.5M579.2 536.7L577.7 533.6M579.2 536.7L579.2 536.8M579.2 536.8L576.9 535.7M577.7 533.6L576.9 535.7M620.3 510.7L620.6 511.2M622.2 511.2L621.2 511.7M621.2 511.7L620.6 511.2M643.7 529.2L621.9 520.4M621.9 520.4L620.9 525.1M620.9 525.1L621.3 526.8M613.8 530.8L616.0 528.5M616.0 528.5L616.0 528.4M616.0 528.4L621.0 526.8M621.3 526.8L621.0 526.8M601.5 522.6L601.3 521.9M601.5 522.6L603.4 523.3M601.7 520.0L604.6 520.3M601.7 520.0L601.2 521.6M604.6 520.3L605.1 521.3M605.1 521.3L604.2 523.0M603.4 523.3L604.2 523.0M601.2 521.6L601.3 521.9M598.2 525.1L598.5 522.1M598.7 525.4L601.5 522.6M598.5 522.1L601.3 521.9M603.4 526.2L603.4 523.3M604.9 518.2L607.0 518.5M604.9 518.2L604.6 520.3M607.0 518.5L608.0 520.0M608.0 520.0L607.9 520.7M607.9 520.7L607.7 521.0M607.7 521.0L605.1 521.3M597.1 519.7L601.2 521.6M597.1 519.7L598.5 522.1M592.0 531.5L591.1 531.3M592.0 531.5L594.0 528.6M591.1 531.3L591.1 528.8M591.1 528.8L592.8 528.2M592.8 528.2L594.0 528.6M594.7 528.3L594.0 528.6M595.8 530.2L593.8 533.3M593.8 533.3L592.0 531.5M614.8 504.9L614.3 506.8M614.8 504.9L615.7 503.6M614.3 506.8L617.3 507.1M617.3 507.1L616.3 503.5M615.7 503.6L616.3 503.5M616.3 503.5L616.3 503.5M615.6 503.5L615.7 503.6M613.5 505.1L614.8 504.9M619.2 503.6L616.3 503.5M617.5 507.6L617.3 507.1M617.0 499.4L616.3 503.5M605.7 511.7L606.6 510.4M606.2 507.6L606.6 509.1M606.6 510.4L606.6 509.1M532.0 555.7L538.0 554.2M532.0 555.7L534.1 549.9M534.1 549.9L538.0 554.2M528.8 548.4L534.1 549.4M534.1 549.4L534.1 549.9M530.8 556.7L532.0 555.7M536.5 601.1L539.9 600.1M536.5 601.1L536.1 600.9M536.1 600.9L539.1 598.8M539.1 598.8L539.9 600.1M557.3 588.0L557.3 588.0M557.3 588.0L558.1 587.3M553.5 585.6L553.8 586.4M553.5 585.6L554.6 583.5M557.3 588.0L553.8 586.4M558.1 587.3L558.5 583.9M554.6 583.5L558.5 583.9M519.7 570.5L515.5 573.1M519.7 570.5L519.6 569.9M514.0 570.6L515.5 573.1M514.0 570.6L519.2 569.1M519.2 569.1L519.6 569.9M516.6 562.2L512.8 563.3M516.6 562.2L516.9 562.6M516.9 562.6L517.3 563.6M517.3 563.6L513.8 570.4M512.4 568.4L511.8 564.9M512.4 568.4L513.4 570.3M512.8 563.3L511.8 564.9M513.8 570.4L513.4 570.3M510.8 562.4L512.8 563.3M516.7 561.7L516.6 562.2M514.0 570.6L513.8 570.4M517.9 564.4L519.2 569.1M517.9 564.4L517.3 563.6M507.2 568.4L511.8 564.9M507.2 569.0L507.4 569.2M507.4 569.2L512.4 568.4M509.9 571.9L513.4 570.3M509.9 571.9L507.4 569.2M524.3 560.0L524.0 561.9M516.9 562.6L520.2 562.3M524.0 561.9L520.2 562.3M532.0 560.0L532.3 560.2M532.3 560.2L537.4 561.0M538.0 554.2L539.3 554.3M537.4 561.0L539.3 554.3M532.3 560.2L532.2 567.5M534.2 568.9L532.5 568.2M534.2 568.9L540.0 563.3M537.4 561.0L540.0 563.3M532.2 567.5L532.5 568.2M573.6 560.6L576.9 560.9M573.6 560.6L573.4 560.9M573.4 560.9L576.1 564.3M576.9 560.9L576.1 564.3M578.8 559.3L573.0 557.2M573.0 557.2L573.6 560.6M577.6 560.7L578.8 559.5M577.6 560.7L576.9 560.9M505.0 635.6L502.8 634.6M505.0 635.6L504.8 636.1M504.8 636.1L500.9 638.9M502.8 634.6L498.1 637.6M498.1 637.6L500.9 638.9M501.1 639.5L500.9 638.9M501.1 639.5L502.6 640.3M504.8 639.0L502.6 640.3M504.8 639.0L504.8 636.1M495.7 636.5L495.7 636.5M495.7 636.5L496.5 637.1M501.0 632.3L502.8 634.6M501.0 632.3L499.5 631.2M499.5 631.2L497.8 631.6M496.5 637.1L497.5 637.6M497.5 637.6L498.1 637.6M496.5 637.1L496.4 641.3M497.5 637.6L498.2 640.4M496.4 641.3L497.0 641.3M498.2 640.4L497.0 641.3M520.1 632.6L523.6 636.8M520.1 632.6L517.9 637.1M523.6 636.8L523.1 637.5M523.1 637.5L518.4 637.9M517.9 637.1L518.4 637.9M495.5 619.7L495.7 615.8M495.5 619.7L496.5 620.9M495.7 615.8L496.0 615.5M497.8 616.2L496.0 615.5M499.4 618.1L499.1 618.8M496.5 620.9L499.1 618.8M489.8 627.1L487.9 626.7M489.8 627.1L492.6 625.9M492.6 625.9L490.3 622.6M487.9 626.7L487.5 626.5M487.5 626.5L486.8 623.0M490.3 622.6L486.8 623.0M488.3 629.0L489.5 630.3M488.3 629.0L487.9 630.6M487.9 630.6L489.5 630.3M490.7 629.3L489.8 627.1M490.4 630.7L489.5 630.3M487.9 626.7L488.3 629.0M487.7 630.8L487.9 630.6M487.7 630.8L485.5 629.8M485.5 629.8L485.0 628.6M485.0 628.6L487.5 626.5M487.7 630.8L488.1 632.2M495.7 636.5L494.2 637.2M494.2 637.2L494.1 638.2M496.4 641.3L494.5 642.9M494.1 638.2L494.5 642.9M493.1 628.8L494.4 626.8M497.4 631.2L496.2 628.9M494.4 626.8L496.2 628.9M492.6 625.9L494.2 626.1M494.4 626.8L494.2 626.1M473.3 642.4L475.9 641.6M473.3 642.4L470.7 641.3M470.7 641.3L470.8 640.2M475.4 641.0L470.9 640.2M475.4 641.0L475.9 641.6M470.8 640.2L470.9 640.2M453.2 677.0L474.8 647.5M453.2 677.0L470.7 641.3M474.8 647.5L473.3 642.4M474.6 638.4L470.9 640.2M474.6 638.4L475.4 641.0M473.1 636.8L474.8 638.2M473.1 636.8L472.4 636.9M474.8 638.2L474.6 638.4M472.4 636.9L470.0 638.8M470.0 638.8L470.8 640.2M478.9 646.2L474.9 647.4M478.9 646.2L480.1 645.1M480.1 645.1L478.6 641.6M474.9 647.4L476.7 642.0M476.7 642.0L478.0 641.5M478.0 641.5L478.6 641.6M474.8 647.5L474.9 647.4M475.9 641.6L476.7 642.0M480.0 640.9L478.6 641.6M480.0 640.9L479.5 637.3M479.5 637.3L477.0 637.2M477.0 637.2L478.0 641.5M489.5 641.3L488.0 638.8M489.5 641.3L491.3 638.6M488.0 638.8L491.2 636.4M491.3 638.6L492.2 636.9M492.2 636.9L491.2 636.4M484.7 638.9L488.0 638.8M484.7 638.9L487.4 642.8M489.4 643.0L487.4 642.8M489.4 643.0L489.5 641.3M489.7 643.3L490.9 643.2M489.7 643.3L489.4 643.0M491.5 641.9L490.9 643.2M491.5 641.9L491.3 638.6M494.2 637.2L492.2 636.9M491.5 641.9L494.1 638.2M490.2 635.2L491.2 636.4M480.0 640.9L480.3 640.9M480.3 640.9L482.0 645.1M480.1 645.1L482.0 645.3M482.0 645.3L482.0 645.1M482.9 640.3L480.3 640.9M482.9 640.3L483.3 643.0M482.0 645.1L483.3 643.0M484.3 638.6L484.7 638.9M484.3 638.6L482.9 640.3M487.4 642.8L485.9 643.9M483.3 643.0L485.9 643.9M544.2 641.0L540.7 642.0M544.2 641.0L542.2 643.9M540.7 642.0L541.3 643.5M542.2 643.9L541.3 643.5M545.2 645.5L542.2 643.9M540.4 644.8L541.3 643.5M493.3 621.2L492.4 622.7M493.3 621.2L495.9 623.8M492.4 622.7L495.4 624.4M495.9 623.8L495.4 624.4M490.8 622.3L492.4 622.7M490.8 622.3L490.3 622.6M494.2 626.1L495.4 624.4M490.8 622.2L492.7 620.2M490.8 622.2L489.5 616.7M489.5 616.7L491.5 617.3M491.5 617.3L492.7 619.8M492.7 619.8L492.7 620.2M490.8 622.3L490.8 622.2M493.3 621.2L492.7 620.2M489.5 616.7L485.3 621.3M489.5 616.7L489.5 616.7M485.3 621.3L486.8 623.0M495.5 619.7L492.7 619.8M495.7 615.8L491.5 617.3M496.5 620.9L496.4 623.6M496.4 623.6L495.9 623.8M465.5 604.7L464.4 605.8M465.5 604.7L469.5 607.3M464.4 605.8L463.7 608.0M469.0 610.8L469.5 607.3M469.0 610.8L466.2 612.2M466.2 612.2L463.7 608.0M505.6 630.1L505.8 635.3M505.6 630.1L507.8 629.3M507.8 629.3L509.8 634.4M505.8 635.3L509.8 635.6M509.8 635.6L509.8 634.4M501.0 632.3L505.5 630.1M505.5 630.1L505.6 630.1M505.0 635.6L505.8 635.3M511.4 629.2L509.8 634.4M511.4 629.2L511.9 629.1M514.7 632.3L513.9 635.0M510.7 636.1L513.9 635.0M510.7 636.1L509.8 635.6M526.6 635.4L524.6 635.5M526.6 635.4L528.6 632.7M524.0 633.3L524.6 635.5M524.0 633.3L526.7 631.1M526.7 631.1L527.4 631.2M527.4 631.2L528.7 632.3M528.7 632.3L528.6 632.7M524.6 640.1L523.1 637.5M524.6 640.1L524.9 640.0M523.6 636.8L524.6 635.5M524.9 640.0L528.3 637.3M528.3 637.3L526.6 635.4M531.2 636.2L530.7 637.9M531.2 636.2L528.6 632.7M530.7 637.9L530.3 638.1M528.3 637.3L530.3 638.1M529.6 631.8L530.5 630.4M529.6 631.8L528.7 632.3M529.1 627.4L530.3 627.6M529.1 627.4L527.7 629.7M527.7 629.7L527.4 631.2M530.5 630.4L531.0 628.3M527.7 629.7L525.7 627.2M525.7 627.2L524.9 627.4M524.9 627.4L524.1 628.3M526.7 631.1L526.5 631.0M526.5 631.0L524.1 628.3M515.9 631.3L516.6 631.2M514.6 625.2L514.7 625.0M516.6 631.2L517.9 628.4M514.7 625.0L517.9 628.4M503.8 625.7L506.8 624.2M503.8 625.7L508.4 628.6M506.8 624.2L508.6 627.7M508.6 627.7L508.6 628.4M508.6 628.4L508.4 628.6M511.4 629.2L508.6 628.4M514.7 624.3L514.5 624.1M514.7 624.3L514.7 624.6M512.0 623.8L514.5 624.1M512.0 623.8L508.6 627.7M514.7 625.0L514.7 624.6M507.8 629.3L508.4 628.6M512.0 623.8L508.5 622.2M506.8 624.2L507.2 623.7M507.2 623.7L508.5 622.2M501.8 612.5L503.2 609.4M501.8 612.5L497.1 611.5M497.1 611.5L500.4 607.3M503.2 609.4L500.4 607.3M505.6 608.6L503.2 609.4M501.9 613.0L501.8 612.5M502.6 613.9L506.6 614.3M505.9 608.9L506.6 614.3M495.5 612.2L496.0 615.5M495.5 612.2L496.8 611.6M496.8 611.6L497.1 611.5M496.8 611.6L497.7 605.7M497.7 605.7L499.6 606.1M499.6 606.1L500.4 607.3M502.4 602.3L499.6 606.1M535.2 628.4L538.4 625.3M535.2 628.4L535.3 622.3M538.4 625.3L537.1 623.2M537.1 623.2L535.5 622.2M535.5 622.2L535.4 622.1M535.3 622.3L535.4 622.1M532.4 624.1L532.6 623.8M535.1 628.6L535.2 628.4M532.6 623.8L535.3 622.3M533.7 620.3L530.1 618.9M533.7 620.3L535.1 621.6M532.6 623.8L529.3 619.6M529.3 619.6L530.1 618.9M535.1 621.6L535.4 622.1M541.5 607.6L539.0 605.5M541.5 607.6L537.1 608.2M538.8 605.6L536.7 607.8M538.8 605.6L539.0 605.5M537.1 608.2L536.7 607.8M537.9 603.5L536.5 604.6M537.9 603.5L538.8 605.6M536.5 604.6L535.8 606.7M535.8 606.7L536.3 607.6M536.3 607.6L536.7 607.8M528.0 591.6L529.4 591.8M528.0 591.6L527.1 593.6M529.4 591.8L530.3 595.3M527.1 593.6L527.1 596.8M527.1 596.8L530.3 595.3M512.2 615.0L508.1 616.5M512.2 615.0L510.8 612.0M510.8 612.0L510.1 611.7M510.1 611.7L506.9 614.6M506.9 614.6L507.5 616.1M508.1 616.5L507.5 616.1M514.8 609.6L514.9 606.5M514.8 609.6L510.8 612.0M514.9 606.5L514.4 606.0M508.9 609.7L510.1 611.7M506.6 614.3L506.9 614.6M527.1 593.6L524.1 594.2M524.1 594.2L524.0 596.4M527.1 596.8L527.1 596.8M524.0 596.4L527.1 596.8M520.8 594.3L522.3 597.4M520.8 594.3L517.8 596.3M517.8 596.3L520.5 597.6M520.5 597.6L522.3 597.6M522.3 597.6L522.3 597.4M523.2 592.6L520.8 593.5M523.2 592.6L524.1 594.2M520.8 593.5L520.8 594.3M524.0 596.4L522.3 597.4M518.2 591.5L520.8 593.5M518.2 591.5L515.8 592.4M517.3 596.3L517.8 596.3M522.7 599.8L522.3 597.6M522.7 599.8L527.6 598.2M527.6 598.2L527.1 596.8M518.5 599.8L517.9 600.1M518.5 599.8L522.7 599.8M522.7 599.8L522.8 600.6M522.8 600.6L518.1 600.2M518.1 600.2L517.9 600.1M517.0 600.2L516.4 600.0M517.0 600.2L517.9 600.1M520.5 597.6L518.5 599.8M522.7 599.8L522.7 599.8M522.3 602.3L522.8 601.1M522.3 602.3L518.1 600.2M522.8 601.1L522.8 600.6M517.2 606.4L519.2 603.2M517.2 606.4L520.3 607.8M520.3 607.8L520.4 607.7M520.4 607.7L522.9 604.3M519.2 603.2L522.3 602.3M522.3 602.3L522.9 604.3M517.0 600.2L519.2 603.2M514.9 606.5L517.2 606.4M522.3 602.3L522.3 602.3M534.4 668.4L533.5 671.0M534.4 668.4L536.4 668.9M533.5 671.0L537.0 669.7M536.4 668.9L536.8 669.3M537.0 669.7L536.8 669.3M537.9 666.9L536.8 669.3M535.8 665.8L536.9 665.7M535.8 665.8L536.4 668.9M539.0 670.9L537.0 669.7M535.8 665.8L535.3 665.5M534.4 668.4L533.8 667.3M533.8 667.3L535.3 665.5M535.0 661.9L533.9 663.1M535.3 665.5L533.9 663.1M533.5 671.0L533.3 671.1M533.8 667.3L532.8 667.5M532.8 667.5L532.6 669.2M532.6 669.2L533.3 671.1M522.8 684.4L520.9 684.1M521.9 682.0L520.1 682.2M520.1 682.2L519.7 682.6M519.7 682.6L520.0 683.1M520.9 684.1L520.0 683.1M533.7 684.2L533.9 680.1M533.9 680.1L546.0 681.7M534.2 678.5L536.4 678.2M534.2 678.5L534.0 678.7M536.4 678.2L537.9 679.0M537.9 679.0L534.0 679.7M534.0 678.7L534.0 679.7M533.9 680.1L533.9 680.0M546.0 681.7L537.9 679.0M533.9 680.0L534.0 679.7M528.4 684.6L528.0 681.6M525.6 682.3L527.2 681.3M528.0 681.6L527.2 681.3M523.9 680.8L523.8 680.9M526.1 679.6L526.9 680.4M527.2 681.3L526.9 680.4M580.3 547.7L579.1 549.8M580.3 547.7L580.5 549.9M579.1 549.8L579.6 550.2M580.5 549.9L579.6 550.2M580.9 534.4L580.7 532.9M580.9 534.4L581.0 534.5M583.9 533.0L583.2 535.0M583.9 533.0L580.7 532.9M581.0 534.5L583.2 535.0M584.7 546.9L585.7 544.4M587.8 548.1L586.5 548.1M587.8 548.1L587.7 544.2M585.7 544.4L586.6 543.6M587.7 544.2L586.6 543.6M593.3 549.1L592.6 549.5M590.2 547.6L592.2 546.4M590.2 547.6L589.6 548.7M592.6 549.5L589.6 548.7M587.8 548.1L589.3 548.8M590.2 547.6L589.7 543.9M587.7 544.2L589.7 543.9M589.6 548.7L589.3 548.8M591.4 553.7L591.5 551.9M591.4 553.7L630.6 590.1M630.6 590.1L622.5 579.9M622.5 579.9L592.8 550.8M592.8 550.8L591.5 551.9M607.7 560.5L622.5 579.9M592.6 549.5L592.8 550.8M589.3 548.8L589.3 549.3M589.3 549.3L591.5 551.9M595.7 541.9L595.8 541.2M595.7 541.9L592.9 542.4M595.8 541.2L593.1 541.3M592.9 542.4L593.1 541.3M595.9 541.1L595.8 541.2M595.9 541.1L598.0 541.4M595.6 542.8L595.7 541.9M598.0 541.4L598.8 542.0M592.4 543.4L592.9 542.4M593.8 533.4L590.0 534.6M593.8 533.4L593.8 533.5M593.8 533.5L593.6 535.7M590.0 534.6L592.9 535.9M592.9 535.9L593.6 535.7M593.8 533.3L593.8 533.4M595.6 533.5L593.8 533.5M598.6 540.2L600.1 539.0M598.6 540.2L596.2 538.0M600.1 539.0L598.7 537.4M598.7 537.4L597.0 537.6M596.2 538.0L597.0 537.6M601.4 539.7L600.1 539.0M598.0 541.4L598.6 540.2M595.9 541.1L595.6 538.2M595.6 538.2L596.2 538.0M599.4 536.2L598.7 537.4M597.0 534.9L597.0 537.6M594.7 537.8L595.6 538.2M594.7 537.8L593.6 535.7M628.6 488.8L627.9 489.1M628.6 488.8L628.9 489.2M627.9 489.1L627.6 490.0M628.9 489.2L628.8 490.0M628.8 490.0L627.6 490.0M628.3 486.2L628.1 486.2M628.1 486.2L627.7 488.5M629.6 487.4L628.6 488.8M627.7 488.5L627.9 489.1M630.5 488.8L628.9 489.2M627.7 488.5L626.3 488.4M626.3 488.4L627.0 490.4M627.0 490.4L627.0 490.4M627.0 490.4L627.6 490.0M630.1 490.4L628.8 490.0M626.9 490.9L627.0 490.4M622.6 494.2L622.7 493.4M622.6 494.2L620.9 495.5M622.7 493.4L621.1 492.6M620.4 495.5L620.1 493.1M620.4 495.5L620.6 495.7M621.1 492.6L620.1 493.1M620.9 495.5L620.6 495.7M623.0 494.4L622.6 494.2M623.3 492.6L622.7 493.4M624.5 495.5L620.9 495.5M621.9 491.1L623.0 491.6M621.9 491.1L621.1 492.6M617.2 493.9L619.8 492.8M619.1 495.4L620.4 495.5M619.8 492.8L620.1 493.1M620.9 496.6L620.6 495.7M624.9 497.9L622.8 499.2M609.2 485.1L607.4 485.2M609.2 485.1L609.8 486.6M609.8 486.6L607.3 487.8M607.4 485.2L606.8 485.9M606.8 485.9L607.3 487.8M604.7 481.4L606.1 481.9M604.7 481.4L603.3 482.2M603.9 486.3L603.8 486.2M603.9 486.3L606.8 485.9M603.3 482.2L602.2 484.1M606.1 481.9L607.4 485.2M411.4 390.9L411.1 391.2M411.4 390.9L398.5 380.8M411.1 391.2L394.5 393.0M395.5 384.0L392.9 391.6M395.5 384.0L398.0 381.0M392.9 391.6L393.7 392.6M398.0 381.0L398.5 380.8M393.7 392.6L394.5 393.0M412.6 390.4L411.4 390.9M409.0 395.7L411.1 391.2M405.8 373.7L398.5 380.8M400.3 398.4L394.5 393.0M385.0 377.8L395.5 384.0M392.6 391.6L392.9 391.6M388.3 368.7L398.0 381.0M391.4 409.4L393.7 392.6M423.2 560.2L414.6 557.5M423.2 560.2L424.4 555.4M424.4 555.4L418.2 551.6M418.2 551.6L413.8 552.5M413.8 552.5L414.6 557.5M411.7 561.1L414.6 557.5M412.4 562.4L423.2 560.6M423.2 560.6L423.2 560.2M408.0 551.4L413.8 552.5M416.4 542.7L420.3 536.0M416.4 542.7L418.0 543.7M418.0 543.7L429.4 541.8M420.3 536.0L429.4 541.8M413.5 541.8L416.4 542.7M417.7 531.7L420.3 536.0M418.2 551.6L418.0 543.7M424.4 555.4L433.1 548.9M429.4 541.8L431.2 541.9M431.2 541.9L433.1 548.9M445.7 563.7L447.1 561.9M435.0 551.8L434.8 549.9M447.1 561.9L446.3 554.2M446.3 554.2L441.1 550.6M441.1 550.6L434.8 549.9M423.2 560.6L424.0 563.6M424.0 563.6L434.5 560.9M434.8 549.9L433.1 548.9M451.8 529.6L449.0 520.0M451.8 529.6L440.7 535.0M442.3 522.1L437.1 534.6M440.7 535.0L437.1 534.6M396.5 509.9L396.3 513.3M396.5 509.9L406.5 510.8M396.3 513.3L406.2 518.5M406.5 510.8L406.2 518.5M395.8 506.4L396.5 509.9M391.4 516.7L396.3 513.3M407.1 508.2L406.5 510.8M406.3 518.8L406.2 518.5M618.3 425.8L617.6 427.9M612.9 425.5L612.9 425.5M612.9 425.5L615.1 427.4M615.1 427.4L617.6 427.9M619.8 429.4L618.1 429.2M617.6 427.9L618.1 429.2M619.3 432.8L617.3 433.0M617.3 433.0L618.1 429.2M618.1 429.2L618.1 429.2M591.6 459.6L594.6 458.1M591.6 459.6L590.3 463.8M594.6 458.1L595.2 461.6M595.2 461.6L591.4 465.1M590.3 463.8L591.4 465.1M595.2 456.7L594.6 458.1M595.2 456.7L591.8 454.1M591.8 454.1L590.9 455.8M591.6 459.6L590.3 458.5M590.3 458.5L590.9 455.8M604.3 473.3L596.5 471.4M604.3 473.3L605.2 472.0M597.5 470.3L596.6 470.5M596.6 470.5L596.5 471.4M604.3 473.3L603.8 474.3M603.8 474.3L602.4 474.3M602.4 474.3L596.4 471.7M596.4 471.7L596.5 471.4M615.6 461.1L614.5 461.2M615.4 458.9L613.5 459.5M613.5 459.5L614.5 461.2M614.3 464.0L613.2 463.6M614.5 461.2L613.3 462.0M613.2 463.6L613.3 462.0M611.8 466.6L611.4 465.3M611.4 465.3L613.2 463.6M613.2 463.6L613.2 463.6M611.4 465.3L609.2 464.2M609.2 464.2L610.9 462.1M613.2 463.6L610.9 462.1M607.9 466.7L607.7 470.6M607.9 466.7L607.6 466.2M607.6 466.2L604.8 469.0M605.4 471.6L604.8 469.4M605.4 471.6L607.7 470.6M604.8 469.4L604.8 469.0M608.6 470.5L607.7 470.6M608.8 467.3L607.9 466.7M609.2 464.2L607.7 464.0M607.7 464.0L607.6 466.2M607.7 464.0L607.5 463.9M607.5 463.9L603.4 465.8M603.4 465.8L604.8 469.0M601.0 468.5L600.1 469.2M601.0 468.5L604.8 469.4M605.4 471.6L605.4 471.6M602.2 465.3L601.0 468.5M602.2 465.3L603.4 465.8M627.2 474.9L626.1 473.0M627.2 474.9L629.3 473.0M626.1 473.0L627.5 471.4M629.3 473.0L628.5 471.7M628.5 471.7L627.5 471.4M626.5 476.4L626.8 476.3M626.5 476.4L624.2 474.3M626.8 476.3L627.2 474.9M625.7 472.7L626.1 473.0M632.5 473.0L629.3 473.0M627.3 476.6L626.8 476.3M626.2 469.8L627.5 471.4M629.4 469.1L628.5 471.7M594.3 439.3L594.4 435.7M594.3 439.3L597.1 435.9M596.7 434.8L597.1 435.9M596.7 434.8L594.8 435.4M594.8 435.4L594.4 435.7M596.2 432.6L596.9 433.7M596.2 432.6L594.7 432.2M594.7 432.2L594.8 435.4M596.9 433.7L596.7 434.8M590.8 452.4L588.6 451.8M590.8 452.4L591.4 451.9M591.4 451.9L593.4 449.3M588.4 451.6L588.6 451.8M588.4 451.6L591.4 447.1M593.4 449.3L591.4 447.1M603.9 486.3L604.0 486.6M604.0 486.6L605.9 490.1M607.3 487.8L607.4 488.7M605.9 490.1L607.4 488.7M611.5 488.8L611.2 489.3M611.5 488.8L609.8 486.6M607.4 488.7L611.2 489.3M601.7 489.8L599.6 492.9M601.7 489.8L603.1 489.7M603.1 489.7L605.8 490.5M599.6 492.9L605.0 496.0M605.8 490.5L606.3 494.9M605.0 496.0L606.0 495.6M606.0 495.6L606.3 494.9M604.0 486.6L603.1 489.7M601.5 488.8L601.7 489.8M605.9 490.1L605.8 490.5M611.1 491.6L611.2 489.3M611.1 491.6L606.3 494.9M608.7 497.3L606.0 495.6M603.9 498.3L603.5 499.7M603.9 498.3L605.0 496.0M611.5 491.9L611.1 491.6M603.7 476.4L603.8 474.3M603.7 476.4L601.7 477.3M598.3 475.3L599.5 476.8M598.3 475.3L602.4 474.3M601.7 477.3L599.5 476.8M604.7 481.4L604.8 477.9M604.2 476.9L603.7 476.4M603.3 482.2L601.3 480.3M601.7 477.3L601.3 480.3M600.9 484.5L599.7 484.3M599.7 484.3L598.0 482.1M598.0 482.1L601.1 480.3M601.3 480.3L601.1 480.3M541.7 426.6L544.4 425.9M544.4 425.9L544.3 422.7M538.2 421.3L542.0 420.1M544.3 422.7L542.0 420.1M446.6 461.1L443.2 460.9M446.6 461.1L447.2 463.2M447.2 463.2L442.4 469.8M443.2 460.9L436.3 465.2M442.4 469.8L436.0 468.5M436.0 468.5L436.3 465.2M447.3 460.1L446.6 461.1M436.4 453.3L436.5 453.8M436.5 453.8L443.2 460.9M451.6 468.8L447.2 463.2M444.6 474.1L442.4 469.8M432.5 461.2L436.5 453.8M432.5 461.2L436.3 465.2M434.1 471.3L436.0 468.5M451.8 529.6L452.9 530.6M447.4 541.7L440.7 535.0M447.4 541.7L448.4 541.6M452.9 530.6L448.4 541.6M464.9 542.1L463.5 541.6M468.5 547.0L459.2 546.1M463.5 541.6L460.8 542.3M459.2 546.1L460.8 542.3M422.5 526.6L430.8 523.6M422.5 526.6L431.0 534.9M430.8 523.6L433.5 535.9M431.0 534.9L433.3 536.1M433.5 535.9L433.3 536.1M421.2 526.5L422.5 526.6M431.2 522.0L430.8 523.6M418.2 530.9L431.0 534.9M437.1 534.6L433.5 535.9M431.2 541.9L433.3 536.1M447.4 541.7L441.1 550.6M551.4 394.3L555.1 394.6M551.4 394.3L549.6 396.2M550.1 396.6L549.6 396.2M555.1 394.6L555.6 395.1M549.6 396.2L549.6 396.2M447.4 389.2L453.9 389.4M447.4 389.2L454.3 393.8M453.9 389.4L456.7 394.2M454.3 393.8L456.7 394.2M443.1 389.6L444.3 388.6M448.5 400.8L448.2 400.7M448.5 400.8L454.3 393.8M444.7 388.5L447.4 389.2M456.3 398.1L457.2 394.5M462.3 399.6L463.3 395.5M457.2 394.5L463.3 395.5M448.5 400.8L452.0 402.5M456.7 394.2L457.1 394.4M457.2 394.5L457.1 394.4M469.3 403.4L463.8 395.0M470.6 396.3L465.8 392.8M465.8 392.8L463.8 395.0M463.3 395.5L463.8 395.0M500.7 390.2L500.7 388.3M492.0 384.6L488.5 386.7M492.0 384.6L498.3 386.0M488.5 386.7L487.7 392.4M487.7 392.4L491.0 393.9M498.3 386.0L500.7 388.3M507.2 402.0L509.4 399.8M507.2 402.0L505.6 402.9M505.6 402.9L502.4 393.9M509.4 399.8L509.4 399.4M509.4 399.4L507.4 397.2M502.4 393.9L507.4 397.2M515.1 404.3L513.2 406.5M514.9 403.8L509.4 399.8M511.5 406.7L507.2 402.0M504.6 403.8L505.6 402.9M501.7 393.2L502.4 393.9M497.9 402.3L498.2 399.5M512.9 395.8L517.1 398.2M517.1 398.2L517.2 398.5M512.7 396.0L509.4 399.4M509.0 394.2L507.4 397.2M501.6 392.1L507.7 392.0M484.6 414.4L484.3 410.8M477.6 403.5L481.4 406.0M481.4 406.0L484.0 409.7M484.0 409.7L484.3 410.8M513.2 393.7L514.7 391.4M508.7 391.6L509.5 390.3M514.7 391.4L509.5 390.3M517.1 398.2L518.1 396.0M522.0 399.4L522.8 398.4M518.1 396.0L520.8 395.0M520.8 395.0L522.8 398.4M528.0 399.0L528.5 396.3M528.0 399.0L524.6 398.3M524.6 398.3L526.2 394.4M528.5 396.3L526.3 394.4M526.3 394.4L526.2 394.4M530.8 400.1L533.1 397.0M530.8 400.1L528.7 400.1M528.7 400.1L528.0 399.0M531.1 394.0L528.5 396.3M531.1 394.0L533.1 397.0M527.1 404.9L527.0 405.0M527.1 404.9L528.7 400.1M526.7 404.9L527.0 405.0M522.8 398.4L523.1 398.3M523.1 398.3L524.6 398.3M523.1 398.3L523.9 393.6M523.9 393.6L526.2 394.4M429.1 461.1L428.5 460.2M429.1 461.1L428.0 462.6M428.5 460.2L420.2 461.5M428.0 462.6L420.2 461.7M420.2 461.7L420.2 461.5M427.3 458.1L428.5 460.2M432.5 461.2L429.1 461.1M426.8 465.9L428.0 462.6M419.9 458.0L420.2 461.5M419.8 463.1L420.2 461.7M498.7 428.0L501.7 430.3M507.9 427.7L508.1 428.3M501.7 430.3L508.1 428.3M512.9 441.7L513.9 445.5M512.9 441.7L506.2 442.4M506.2 442.4L511.6 446.7M513.9 445.5L511.6 446.7M556.9 434.1L555.3 434.1M556.9 434.1L557.0 434.0M556.6 430.2L557.3 430.3M556.6 430.2L554.5 431.0M557.0 434.0L557.3 430.3M555.3 434.1L554.5 431.0M553.6 426.5L551.4 428.6M553.6 426.5L556.1 427.6M551.4 428.6L554.3 430.9M556.6 430.2L556.1 427.6M554.3 430.9L554.5 431.0M551.4 428.6L549.6 428.5M549.6 428.5L549.1 430.9M554.3 430.9L552.0 433.5M552.0 433.5L549.6 432.1M549.1 430.9L549.6 432.1M545.2 432.3L544.6 433.4M545.2 432.3L547.9 431.8M544.6 433.4L547.4 433.4M547.9 431.8L547.4 433.4M549.6 428.5L548.3 427.3M548.3 427.3L544.6 426.2M544.4 428.0L544.6 426.2M544.4 428.0L544.3 429.3M544.3 429.3L545.2 432.3M549.1 430.9L547.9 431.8M476.9 509.2L477.2 509.2M478.6 499.1L482.1 503.1M482.1 503.1L477.2 509.2M488.7 522.0L489.7 519.9M473.6 517.6L475.1 520.9M484.0 526.1L477.3 523.0M489.7 519.9L482.3 510.2M475.1 520.9L477.3 523.0M477.2 509.2L482.3 510.2M492.3 404.7L495.0 403.9M492.3 404.7L490.7 404.5M495.0 403.9L491.4 399.1M490.7 404.5L487.2 402.6M491.4 399.1L486.3 400.9M487.2 402.6L486.4 401.4M486.4 401.4L486.3 400.9M488.5 414.8L492.3 404.7M496.2 404.0L495.0 403.9M484.3 410.8L490.7 404.5M491.4 394.9L491.4 399.1M484.0 409.7L487.2 402.6M484.6 394.4L482.6 395.8M484.6 394.4L487.7 392.4M482.6 395.8L486.3 400.9M481.4 406.0L486.4 401.4M480.4 395.9L482.6 395.8M443.3 405.0L447.7 410.8M454.8 406.5L452.3 413.6M447.7 410.8L452.3 413.6M458.2 416.3L452.4 415.1M450.9 420.0L451.4 416.5M451.4 416.5L452.4 415.1M452.4 415.1L452.3 413.6M436.3 359.3L431.9 365.2M436.3 359.3L442.7 373.1M431.9 365.2L432.8 372.3M432.8 372.3L435.1 374.3M442.7 373.1L436.4 374.7M435.1 374.3L436.4 374.7M436.3 359.2L436.3 359.3M424.4 365.8L431.9 365.2M447.6 368.6L445.6 372.3M442.9 373.1L442.7 373.1M428.6 373.6L432.8 372.3M430.5 381.0L435.1 374.3M438.3 389.9L436.4 374.7M553.8 391.4L554.7 393.0M553.8 391.4L559.8 388.7M559.8 388.7L554.7 393.0M551.4 394.3L551.3 393.2M553.7 391.3L551.4 392.5M553.7 391.3L553.8 391.4M555.1 394.6L554.7 393.0M551.3 393.2L551.4 392.5M555.6 383.2L553.3 390.2M553.3 390.2L553.7 391.3M560.7 388.1L559.8 388.7M564.3 404.0L561.9 405.2M563.9 399.8L560.4 404.0M560.4 404.0L561.9 405.2M564.7 406.3L562.8 407.5M562.8 407.5L561.9 407.1M561.9 405.2L561.9 407.1M561.5 410.1L560.7 407.5M562.8 407.5L563.1 408.4M561.9 407.1L560.7 407.5M558.9 400.3L558.0 402.9M555.3 401.2L558.0 402.9M558.0 402.9L558.0 402.9M557.9 416.3L557.7 414.0M557.9 416.3L559.6 416.6M557.7 414.0L560.8 415.1M560.8 415.1L559.6 416.6M559.4 411.3L561.0 411.8M559.4 411.3L557.0 413.1M563.0 413.7L562.7 414.1M557.7 414.0L557.0 413.1M560.8 415.1L562.7 414.1M460.6 632.8L460.9 632.6M460.9 632.6L461.8 631.2M459.7 628.7L461.8 631.2M461.8 631.2L461.8 631.2M426.6 698.5L427.1 698.2M427.1 698.2L435.7 690.8M435.7 690.8L456.1 651.8M459.1 634.6L461.0 639.3M461.0 639.3L456.1 651.8M435.7 690.8L451.9 679.1M470.0 638.8L469.0 638.0M451.9 679.1L453.2 677.0M467.9 637.8L456.1 651.8M467.9 637.8L468.3 637.7M469.0 638.0L468.3 637.7M460.6 627.7L461.4 627.6M460.6 627.7L459.7 628.7M461.8 631.2L462.8 629.9M461.4 627.6L462.8 629.9M436.9 620.4L435.4 618.8M436.9 620.4L436.3 622.8M434.7 622.6L434.3 619.5M434.7 622.6L435.9 622.9M434.3 619.5L435.4 618.8M435.9 622.9L436.3 622.8M441.0 618.0L437.5 620.5M437.5 620.5L436.9 620.4M435.5 618.5L435.4 618.8M429.4 625.1L434.7 622.6M428.7 621.0L434.3 619.5M428.7 621.0L428.3 621.6M428.3 621.6L429.0 624.1M430.4 629.8L435.9 622.9M438.5 628.1L438.3 625.8M438.3 625.8L436.3 622.8M438.6 621.4L438.7 624.6M438.6 621.4L441.8 621.3M441.8 621.3L438.7 624.6M437.5 620.5L438.6 621.4M438.3 625.8L438.7 624.6M442.1 621.1L441.8 621.3M443.6 624.9L444.0 623.8M421.1 624.5L422.1 625.4M421.1 624.5L421.0 621.4M422.1 625.4L427.9 621.5M421.0 621.4L422.6 619.4M422.6 619.4L427.9 621.5M422.4 625.8L422.1 625.4M420.8 624.7L421.1 624.5M413.8 623.6L421.0 621.4M428.3 621.6L427.9 621.5M422.2 618.4L422.6 619.4M450.4 623.3L450.0 623.1M450.4 623.3L451.2 624.3M450.0 623.1L447.2 624.2M451.2 624.3L450.9 625.4M450.8 625.5L450.9 625.4M450.8 625.5L448.6 626.4M447.2 624.2L448.1 626.0M448.6 626.4L448.1 626.0M446.6 623.8L447.2 624.2M447.5 621.9L449.3 622.0M449.3 622.0L450.0 623.1M451.3 624.3L451.2 624.3M453.5 626.9L450.9 625.4M451.4 628.3L450.8 625.5M448.4 627.4L448.6 626.4M444.9 626.7L448.1 626.0M442.5 602.4L442.6 601.6M442.6 601.6L447.1 598.7M449.5 601.4L448.0 598.9M449.5 601.4L448.8 602.7M444.5 605.0L444.9 604.9M447.1 598.7L448.0 598.9M448.8 602.7L444.9 604.9M447.8 609.3L448.9 608.1M444.9 604.9L448.9 608.1M458.3 620.7L457.9 621.3M458.3 620.7L460.7 619.0M457.9 621.3L459.4 621.9M461.7 622.4L459.4 621.9M461.7 622.4L462.1 622.1M460.7 619.0L462.1 622.1M457.6 601.6L453.8 600.5M457.6 601.6L460.1 600.8M460.1 600.8L460.9 599.8M455.3 595.3L453.8 600.5M455.3 595.3L456.1 595.0M456.1 595.0L460.9 599.8M460.1 600.8L460.0 604.8M465.5 604.7L465.5 603.8M465.2 603.0L465.5 603.8M465.2 603.0L462.1 599.6M460.0 604.8L464.4 605.8M462.1 599.6L460.9 599.8M461.3 581.7L460.6 587.5M465.3 590.5L465.3 591.6M460.6 587.5L461.3 590.8M461.3 590.8L465.3 591.6M466.5 592.3L471.8 596.7M466.5 592.3L466.0 592.3M473.0 598.4L471.8 596.7M473.0 598.4L472.2 599.7M466.5 597.7L471.5 599.9M466.5 597.7L465.0 595.7M472.2 599.7L471.5 599.9M465.0 595.7L466.0 592.3M455.8 585.8L455.7 584.1M455.8 585.8L458.0 591.7M458.0 591.7L459.2 591.4M459.2 591.4L457.9 586.0M457.9 586.0L455.7 584.1M449.9 588.7L453.3 589.5M453.3 589.5L455.8 585.8M455.3 582.5L455.7 584.1M453.3 589.5L457.4 592.2M457.4 592.2L458.0 591.7M457.4 592.2L456.1 595.0M462.1 599.6L465.0 595.7M461.3 590.8L459.2 591.4M466.0 592.3L465.3 591.6M460.6 587.5L457.9 586.0M401.5 613.0L401.6 612.9M394.2 605.1L398.8 608.7M401.6 612.9L398.8 608.7M399.5 600.5L401.4 605.1M398.8 608.7L401.4 605.1M432.3 611.4L431.7 610.4M432.3 611.4L428.5 613.9M431.7 610.4L430.5 609.7M430.5 609.7L427.1 612.7M427.1 612.7L428.5 613.9M434.8 606.9L431.7 610.4M430.2 608.5L430.5 609.7M423.5 611.4L427.1 612.7M428.7 621.0L429.7 616.0M429.7 616.0L428.5 613.9M434.9 613.5L433.7 612.7M434.9 613.5L434.5 616.5M433.7 612.7L430.9 615.7M434.5 616.5L430.9 615.7M435.4 618.0L434.5 616.5M437.0 615.7L436.2 613.4M436.2 613.4L434.9 613.5M429.7 616.0L430.9 615.7M433.5 612.2L433.7 612.7M433.5 612.2L432.3 611.4M435.4 609.5L435.4 609.6M435.4 609.5L438.3 611.8M435.4 609.6L437.2 612.9M437.2 612.9L437.7 612.8M438.3 611.8L437.7 612.8M436.0 606.6L435.4 609.5M433.5 612.2L435.4 609.6M438.7 611.3L438.3 611.8M436.2 613.4L437.2 612.9M439.8 614.8L437.7 612.8M431.5 592.9L435.5 589.6M431.5 592.9L429.1 590.6M429.1 590.6L434.3 588.4M434.3 588.4L435.5 589.2M435.5 589.2L435.5 589.6M432.4 594.7L431.5 592.9M435.8 593.3L434.7 594.4M435.8 593.3L435.5 589.6M428.2 590.5L429.1 590.6M432.4 583.6L434.3 588.4M436.7 588.8L435.5 589.2M435.8 593.3L438.1 594.2M440.6 591.8L438.1 594.2M406.5 572.3L411.5 572.9M413.5 576.3L413.0 575.2M411.5 572.9L413.0 575.2M421.2 572.0L424.1 564.3M421.2 572.0L421.1 572.2M421.1 572.2L418.2 571.3M418.2 571.3L413.9 568.8M424.1 564.3L424.1 564.3M424.1 564.3L414.0 568.0M414.0 568.0L413.9 568.8M428.5 573.6L421.2 572.0M424.8 564.8L424.1 564.3M420.7 576.1L421.1 572.2M413.0 575.2L418.2 571.3M411.5 572.9L413.9 568.8M424.0 563.6L424.1 564.3M411.9 564.5L414.0 568.0M520.9 684.1L519.0 685.9M520.0 683.1L518.5 685.5M518.5 685.5L519.0 685.9M521.7 687.5L519.4 686.8M519.4 686.8L519.0 685.9M511.1 704.9L511.5 704.7M511.1 704.9L513.9 708.9M514.6 706.8L514.7 706.6M511.5 704.7L512.9 704.2M512.9 704.2L514.7 706.6M514.7 702.5L513.0 702.7M514.7 702.5L514.8 701.2M514.8 701.2L513.0 702.7M523.0 694.7L519.5 693.3M517.9 695.5L517.7 695.3M517.7 695.3L519.5 693.3M522.5 689.2L519.4 692.1M519.5 693.3L519.4 692.1M471.2 566.9L460.5 563.0M458.9 568.1L458.5 565.9M460.5 563.0L458.5 565.9M451.2 570.0L455.8 565.6M458.5 565.9L455.8 565.6M447.1 561.9L448.0 562.1M455.8 565.6L448.0 562.1M465.9 554.6L462.6 555.2M459.2 546.1L458.6 547.0M458.6 547.0L462.6 555.2M460.5 563.0L461.2 556.8M462.6 555.2L461.2 556.8M448.0 562.1L459.9 556.7M461.2 556.8L459.9 556.7M503.1 571.3L506.9 576.4M509.9 571.9L510.0 575.0M506.9 576.4L510.0 575.0M500.2 580.2L505.9 578.3M506.9 576.4L505.9 578.3M518.6 580.4L518.1 581.0M518.6 580.4L517.6 576.0M518.1 581.0L514.6 575.2M517.6 576.0L517.1 575.2M517.1 575.2L515.4 574.5M515.4 574.5L514.6 575.2M521.8 576.6L517.6 576.0M521.8 576.6L520.8 578.9M520.8 578.9L518.6 580.4M517.2 582.7L518.1 581.0M517.2 582.7L512.7 580.6M512.7 580.6L512.3 576.3M512.3 576.3L514.6 575.2M515.5 573.1L515.4 574.5M510.0 575.0L512.3 576.3M583.2 555.0L583.6 553.9M583.5 553.5L582.0 552.4M583.5 553.5L583.6 553.9M577.5 554.5L578.3 555.4M577.5 554.5L577.7 553.9M577.7 553.9L582.0 552.4M589.1 558.6L586.3 557.0M589.1 558.6L588.4 554.3M586.3 557.0L586.9 554.6M588.4 554.3L586.9 554.6M582.8 559.3L619.8 598.4M583.8 556.6L586.3 557.0M632.7 607.3L589.1 558.6M632.7 607.3L619.8 598.4M585.6 553.7L586.9 554.6M585.6 553.7L583.6 553.9M578.9 564.2L581.5 565.1M578.9 564.2L577.7 564.8M577.6 565.8L577.7 564.8M577.6 565.8L596.0 578.4M596.0 578.4L581.5 565.1M577.6 560.7L578.9 564.2M581.2 563.7L581.5 565.1M576.1 564.3L576.1 564.4M576.1 564.4L577.7 564.8M615.8 595.8L596.0 578.4M615.8 595.8L619.8 598.4M573.6 554.2L571.9 553.3M573.6 554.2L574.7 548.7M571.9 553.3L571.3 550.9M574.7 548.7L573.7 548.9M573.7 548.9L571.4 550.0M571.3 550.9L571.4 550.0M568.3 550.5L569.1 548.9M568.3 550.5L571.3 550.9M571.4 550.0L569.5 548.2M569.1 548.9L569.5 548.2M573.7 548.9L569.9 547.2M569.5 548.2L569.5 547.6M569.9 547.2L569.5 547.6M564.2 548.7L569.2 547.4M564.2 548.7L569.1 548.9M569.2 547.4L569.5 547.6M603.9 498.3L596.6 497.4M602.2 500.6L598.6 499.8M598.6 499.8L596.6 497.4M596.9 519.4L598.3 517.9M596.9 519.4L597.1 519.7M601.7 520.0L601.5 518.2M598.3 517.9L601.5 518.2M603.3 517.2L602.0 517.6M604.7 517.9L604.9 518.2M602.0 517.6L601.5 518.2M603.8 514.9L600.0 513.6M602.0 517.6L600.0 513.6M594.6 524.1L594.2 523.6M596.9 519.4L595.6 519.8M595.6 519.8L594.7 520.6M594.2 523.6L594.2 522.8M594.7 520.6L594.2 522.8M591.5 526.0L591.6 524.9M591.5 526.0L590.7 527.9M591.6 524.9L586.9 524.2M590.7 527.9L587.5 528.1M587.5 528.1L586.9 524.2M594.2 523.6L591.6 524.9M592.8 528.2L591.5 526.0M591.1 528.8L590.7 527.9M586.1 523.3L588.8 520.7M586.1 523.3L586.9 524.2M594.2 522.8L588.8 520.7M586.8 531.0L587.5 528.1M586.8 531.0L587.1 531.9M587.1 531.9L591.1 531.3M620.9 525.1L618.9 522.0M621.0 526.8L619.0 526.0M618.9 522.0L615.3 523.1M619.0 526.0L615.3 523.1M617.1 519.9L618.7 520.4M617.1 519.9L614.7 522.9M618.9 522.0L618.7 520.4M615.3 523.1L614.7 522.9M619.6 517.1L622.1 518.6M619.6 517.1L619.3 517.0M619.3 517.0L619.0 520.2M619.0 520.2L621.7 519.8M622.1 518.6L621.7 519.8M624.6 516.8L622.1 518.6M624.2 515.9L622.9 515.0M622.9 515.0L619.6 517.1M621.9 520.4L621.7 519.8M618.7 520.4L619.0 520.2M622.9 515.0L621.7 513.7M619.3 517.0L618.4 516.3M618.4 516.3L621.7 513.7M621.2 511.7L621.3 512.6M621.7 513.7L621.3 512.6M610.5 525.7L610.8 523.4M609.4 525.5L609.0 523.7M609.0 523.7L610.8 523.4M611.3 526.1L612.8 522.7M610.8 523.4L612.8 522.7M608.0 522.3L608.6 523.4M608.0 522.3L605.6 523.7M606.6 524.9L608.7 523.4M606.6 524.9L605.6 523.7M608.7 523.4L608.6 523.4M609.6 521.0L610.7 521.3M609.6 521.0L607.9 520.7M607.7 521.0L608.0 522.3M610.7 521.3L608.6 523.4M604.2 523.0L605.6 523.7M606.6 526.4L606.6 524.9M609.0 523.7L608.7 523.4M550.2 601.7L552.3 598.1M550.2 601.7L548.7 600.8M548.7 600.8L549.2 596.1M551.5 595.4L549.2 596.1M551.5 595.4L551.8 595.8M552.3 598.1L551.8 595.8M534.9 596.9L536.6 598.2M534.9 596.9L533.6 599.6M536.6 598.2L536.0 600.8M533.6 599.6L535.6 600.9M535.6 600.9L536.0 600.8M536.5 601.1L538.2 603.0M538.2 603.0L537.9 603.5M536.1 600.9L536.0 600.8M534.7 602.5L536.5 604.6M534.7 602.5L535.6 600.9M539.1 598.8L538.8 597.9M536.6 598.2L537.7 597.9M537.7 597.9L538.8 597.9M530.6 591.5L529.4 591.8M530.6 591.5L532.8 593.6M530.3 595.3L531.1 595.8M531.1 595.8L532.8 593.6M536.6 595.9L537.7 597.9M536.6 595.9L538.1 595.8M539.7 596.3L538.8 597.9M539.7 596.3L539.5 596.1M539.5 596.1L538.1 595.8M531.6 596.7L531.1 595.8M531.6 596.7L534.7 596.1M534.7 596.1L534.9 595.7M532.8 593.6L534.0 593.8M534.0 593.8L534.4 594.6M534.4 594.6L534.9 595.7M538.8 593.5L536.9 594.1M538.8 593.5L539.5 596.1M538.1 595.8L536.9 594.2M536.9 594.2L536.9 594.1M536.6 595.9L535.2 595.6M536.9 594.2L535.2 595.6M534.9 596.9L534.7 596.1M535.2 595.6L534.9 595.7M535.9 592.6L535.9 593.5M535.9 592.6L536.6 592.9M536.6 592.9L536.9 594.0M535.9 593.5L536.9 594.0M534.9 592.0L535.9 592.6M534.9 592.0L534.0 593.8M534.4 594.6L535.9 593.5M536.9 594.1L536.9 594.0M530.6 591.5L531.6 590.4M534.9 592.0L535.0 590.9M535.0 590.9L531.6 590.4M535.0 590.9L536.0 589.8M531.6 590.4L531.8 588.4M531.8 588.4L532.7 586.6M532.7 586.6L536.0 589.8M536.0 589.8L536.0 589.8M536.6 592.9L538.0 591.8M536.0 589.8L538.0 591.8M562.7 583.6L564.7 584.3M562.7 583.6L560.6 583.9M564.7 584.3L561.6 584.7M560.6 583.9L560.8 584.1M561.6 584.7L560.8 584.1M560.2 586.7L558.6 587.4M560.2 586.7L560.8 586.5M561.3 587.0L560.8 586.5M561.3 587.0L560.6 588.5M560.6 588.5L558.6 587.4M558.1 587.3L558.6 587.4M558.5 583.9L559.2 583.5M559.2 583.5L560.2 586.7M560.6 583.9L559.7 583.2M559.7 583.2L559.2 583.5M560.8 584.1L560.8 586.5M561.6 584.7L563.1 586.5M563.1 586.5L562.4 586.9M562.4 586.9L561.3 587.0M561.7 590.6L560.6 588.5M561.7 590.6L562.4 586.9M561.8 591.0L561.7 590.6M557.3 588.0L557.7 588.7M559.1 590.6L557.7 588.7M542.1 572.2L541.9 571.3M542.1 572.2L537.7 577.2M537.7 577.2L537.2 577.1M541.1 571.2L536.6 575.8M541.1 571.2L541.9 571.3M537.2 577.1L536.6 575.8M542.6 573.3L542.1 572.2M542.6 573.3L541.8 577.3M541.8 577.3L538.1 577.4M538.1 577.4L537.7 577.2M565.8 584.4L565.1 582.5M565.8 584.4L567.7 586.9M565.1 582.5L567.3 580.1M573.1 590.6L567.7 586.9M573.1 590.6L568.6 580.5M568.6 580.5L567.3 580.1M562.7 583.6L563.7 581.2M564.7 584.3L565.8 584.4M563.7 581.2L565.1 582.5M563.1 586.5L567.7 586.9M584.1 601.7L562.6 591.8M584.1 601.7L573.1 590.6M539.5 579.9L541.4 580.9M539.5 579.9L537.2 582.3M541.4 580.9L539.9 583.2M539.9 583.2L537.7 583.3M537.7 583.3L537.2 582.3M541.8 577.3L544.1 580.3M538.1 577.4L539.5 579.9M544.1 580.3L544.1 580.3M544.1 580.3L541.4 580.9M545.0 584.0L542.1 586.1M545.0 584.0L545.0 581.3M545.0 581.3L544.1 580.3M541.7 585.7L542.1 586.1M541.7 585.7L539.9 583.2M541.7 585.7L537.2 585.1M537.2 585.1L537.7 583.3M535.4 571.0L535.3 571.5M535.4 571.0L541.1 571.2M536.6 575.8L535.6 573.7M535.6 573.7L535.3 571.5M529.8 574.1L534.0 572.4M529.8 574.1L529.7 570.3M534.2 568.9L535.4 571.0M529.7 570.3L532.5 568.2M534.0 572.4L535.3 571.5M537.2 577.1L534.9 579.0M535.6 573.7L532.9 575.8M534.9 579.0L532.9 575.8M534.0 572.4L531.9 575.5M532.9 575.8L531.9 575.5M563.6 548.8L564.2 548.7M563.6 548.8L564.5 552.0M568.3 550.5L566.4 552.8M564.5 552.0L566.4 552.8M571.9 553.3L566.8 553.3M566.8 553.3L566.4 552.8M560.7 547.1L558.8 547.1M560.7 547.1L563.2 548.0M558.8 547.1L558.0 549.8M563.2 548.0L563.6 548.8M562.1 553.8L564.5 552.0M562.1 553.8L559.3 551.3M558.0 549.8L559.3 551.3M556.9 551.0L557.3 552.8M556.9 551.0L558.0 549.8M559.3 551.3L558.5 553.6M557.3 552.8L558.5 553.6M562.1 553.8L560.8 555.6M558.5 553.6L560.8 555.6M572.4 562.9L572.6 562.4M572.4 562.9L571.8 563.6M571.8 563.6L568.5 563.1M572.6 562.4L567.9 561.2M568.5 563.1L567.9 561.2M567.7 559.3L567.8 561.0M567.7 559.3L573.0 561.4M573.0 561.4L572.6 562.4M567.9 561.2L567.8 561.0M550.1 555.7L550.8 555.7M550.1 555.7L549.5 554.1M550.8 555.7L553.2 553.3M549.5 554.1L549.5 553.5M549.5 553.5L552.1 550.8M553.2 553.3L552.9 551.6M552.1 550.8L552.9 551.6M553.0 558.6L550.8 555.7M553.0 558.6L555.6 557.0M555.6 557.0L555.2 555.7M555.2 555.7L553.2 553.3M556.9 551.0L552.9 551.6M555.2 555.7L557.3 552.8M572.4 562.9L575.0 565.1M573.4 560.9L573.0 561.4M576.1 564.4L575.3 565.0M575.0 565.1L575.3 565.0M577.6 565.8L577.3 566.6M575.3 565.0L577.3 566.6M512.5 702.4L513.0 702.7M512.5 702.4L512.0 701.6M513.0 702.7L513.0 702.7M514.8 701.2L514.9 701.0M514.9 701.0L514.1 700.0M514.1 700.0L512.1 701.3M512.0 701.6L512.1 701.3M511.1 704.9L510.3 704.6M511.5 704.7L512.5 702.4M510.3 704.6L510.6 702.1M512.0 701.6L510.6 702.1M504.8 639.0L505.6 640.7M502.6 640.3L502.8 642.6M502.8 642.6L505.6 640.7M501.1 639.5L500.4 641.4M502.8 642.6L502.5 643.3M502.5 643.3L500.4 641.4M498.2 640.4L498.9 641.7M500.4 641.4L498.9 641.7M487.5 634.3L485.7 634.6M485.5 629.8L485.3 633.8M485.3 633.8L485.7 634.6M484.1 637.6L484.3 638.6M484.1 637.6L484.9 635.8M484.9 635.8L485.6 634.6M485.7 634.6L485.6 634.6M485.0 628.6L482.8 628.5M485.3 633.8L482.4 631.3M482.8 628.5L482.4 631.3M482.9 637.2L480.1 637.0M482.9 637.2L480.8 634.5M480.1 637.0L479.6 634.1M480.8 634.5L479.6 634.1M484.1 637.6L482.9 637.2M479.5 637.3L480.1 637.0M481.9 634.0L484.9 635.8M481.9 634.0L480.8 634.5M477.0 637.2L476.9 637.1M479.6 634.1L479.2 633.6M479.2 633.6L476.9 637.1M474.8 638.2L476.6 637.0M476.6 637.0L476.9 637.1M486.7 647.4L486.0 645.7M486.7 647.4L484.7 648.5M484.7 648.5L483.9 646.6M483.9 646.6L485.7 645.4M486.0 645.7L485.7 645.4M488.5 647.9L486.7 647.4M488.5 647.9L489.2 646.3M489.2 646.3L489.2 646.1M489.2 646.1L486.0 645.7M488.5 648.3L485.7 649.4M488.5 648.3L488.5 647.9M485.7 649.4L484.7 648.8M484.7 648.8L484.7 648.5M489.7 643.3L489.2 646.1M485.9 643.9L485.7 645.4M524.9 640.0L529.0 640.1M530.3 638.1L529.6 639.9M529.0 640.1L529.6 639.9M527.8 641.7L530.2 642.8M527.8 641.7L529.0 640.1M529.6 639.9L530.0 641.2M530.0 641.2L530.2 642.8M481.2 587.4L479.3 588.7M481.2 587.4L485.2 590.3M485.2 590.3L480.3 591.6M480.3 591.6L479.3 588.7M483.2 584.4L481.2 587.4M474.8 584.3L474.2 586.5M479.3 588.7L474.2 586.5M466.5 592.3L473.1 588.3M471.8 596.7L474.5 591.5M474.5 591.5L473.1 588.3M467.6 584.0L474.0 586.6M473.1 588.3L474.0 586.6M474.0 586.6L474.2 586.5M469.6 607.2L471.7 607.0M469.6 607.2L470.4 604.9M473.8 603.8L473.8 603.9M473.8 603.8L473.1 603.1M470.4 604.9L473.1 603.1M471.7 607.0L473.8 603.9M465.7 602.5L469.2 600.3M465.7 602.5L467.3 599.5M467.3 599.5L469.2 600.3M465.2 603.0L465.7 602.5M466.5 597.7L467.3 599.5M471.5 599.9L471.2 600.1M471.2 600.1L469.2 600.3M466.6 603.5L470.2 601.6M466.6 603.5L469.9 603.6M469.9 603.6L470.2 601.6M465.5 603.8L466.6 603.5M471.2 600.1L470.2 601.6M469.6 607.2L469.5 607.3M470.4 604.9L469.9 603.6M473.1 603.1L472.2 599.7M520.5 628.7L521.0 628.1M520.5 628.7L520.0 631.8M523.8 628.4L523.3 631.1M523.8 628.4L521.2 627.9M521.2 627.9L521.0 628.1M520.2 632.2L522.8 632.3M520.2 632.2L520.0 631.8M522.8 632.3L523.3 631.1M514.7 624.6L521.0 628.1M517.9 628.4L520.5 628.7M516.6 631.2L520.0 631.8M526.5 631.0L523.3 631.1M524.1 628.3L523.8 628.4M521.0 625.1L521.2 627.9M521.0 625.1L515.2 624.3M514.7 624.3L515.2 624.3M520.1 632.6L520.2 632.2M524.0 633.3L522.8 632.3M513.9 635.0L517.9 637.1M502.4 624.2L501.4 623.0M502.4 624.2L503.1 625.8M503.1 625.8L502.6 626.9M501.4 623.0L500.1 622.7M502.6 626.9L501.4 627.7M501.4 627.7L498.8 626.3M498.8 626.3L496.7 623.7M500.1 622.7L496.7 623.7M503.8 625.7L503.1 625.8M507.2 623.7L504.4 622.2M504.4 622.2L502.4 624.2M505.5 630.1L502.6 626.9M499.5 631.2L501.4 627.7M496.2 628.9L498.8 626.3M496.4 623.6L496.7 623.7M499.1 618.8L500.1 622.7M508.6 620.8L508.5 622.1M508.6 620.8L504.3 618.1M508.5 622.1L504.8 620.8M504.8 620.8L503.1 618.8M504.3 618.1L503.1 618.4M503.1 618.4L503.1 618.8M509.0 619.6L508.6 620.8M509.0 619.6L508.1 616.5M507.5 616.1L504.3 618.1M508.5 622.2L508.5 622.1M504.4 622.2L504.8 620.8M501.4 623.0L503.1 618.8M502.7 618.1L503.1 618.4M529.0 623.6L528.5 626.7M529.0 623.6L528.6 622.9M528.6 622.9L526.3 623.9M526.3 623.9L526.7 626.6M528.5 626.7L526.7 626.6M529.1 627.4L528.5 626.7M531.4 624.3L529.0 623.6M529.3 619.6L528.8 619.9M528.8 619.9L528.6 622.9M525.7 627.2L526.7 626.6M522.5 621.7L522.6 621.3M522.5 621.7L521.6 624.2M522.6 621.3L525.0 623.5M521.6 624.2L524.5 626.1M524.5 626.1L525.0 623.5M521.0 625.1L521.6 624.2M515.2 624.3L522.5 621.7M528.8 619.9L524.0 619.0M524.0 619.0L522.6 619.6M522.6 619.6L522.6 621.3M526.3 623.9L525.0 623.5M524.9 627.4L524.5 626.1M539.6 625.8L538.4 625.3M539.6 625.8L537.3 629.4M535.1 628.6L535.2 628.7M535.2 628.7L537.3 629.4M546.0 630.8L544.9 631.2M546.0 630.8L541.9 627.0M544.9 631.2L537.3 629.4M539.6 625.8L539.7 625.8M541.9 627.0L539.7 625.8M537.3 629.4L537.3 629.4M541.0 633.9L539.3 633.9M541.0 633.9L544.9 631.2M539.3 633.9L537.4 632.0M537.3 629.4L537.4 632.0M533.5 631.0L534.2 630.9M533.5 631.0L531.1 632.4M534.2 630.9L534.1 632.6M534.1 632.6L533.2 634.3M531.1 632.4L533.2 634.3M530.5 630.4L533.5 631.0M535.2 628.7L534.9 629.7M534.9 629.7L534.2 630.9M529.6 631.8L531.1 632.4M531.2 636.2L533.1 634.6M533.1 634.6L533.2 634.3M514.5 624.1L516.1 617.6M522.6 619.6L519.4 617.8M519.4 617.8L516.1 617.6M509.0 619.6L516.1 617.6M516.1 617.6L516.1 617.6M512.2 615.0L515.7 616.8M516.1 617.6L515.7 616.8M516.2 612.2L516.1 614.6M516.2 612.2L514.8 609.6M515.7 616.8L516.1 614.6M532.4 608.0L531.2 607.4M532.4 608.0L533.7 605.8M531.2 607.4L533.2 605.4M533.7 605.8L533.2 605.4M535.8 606.7L533.7 605.8M536.3 607.6L533.4 609.7M533.4 609.7L532.5 608.8M532.5 608.8L532.4 608.0M532.9 605.0L533.2 605.4M532.9 605.0L531.8 604.5M531.8 604.5L530.9 605.2M530.9 605.2L530.8 607.3M530.8 607.3L531.2 607.4M534.6 602.6L534.7 602.5M534.6 602.6L532.9 605.0M527.9 599.8L530.7 601.6M527.9 599.8L527.8 598.5M527.8 598.5L531.4 597.7M531.1 601.5L532.3 599.7M531.1 601.5L530.9 601.6M532.3 599.7L531.4 597.7M530.9 601.6L530.7 601.6M526.8 601.0L528.5 602.7M526.8 601.0L527.9 599.8M528.5 602.7L530.7 601.6M522.8 601.1L526.4 601.4M526.4 601.4L526.8 601.0M527.6 598.2L527.8 598.5M531.6 596.7L531.4 597.7M534.6 602.6L531.1 601.5M533.6 599.6L532.3 599.7M531.8 604.5L530.9 602.5M530.9 602.5L530.9 601.6M529.1 664.1L527.4 666.4M529.1 664.1L532.1 663.5M527.4 666.4L527.4 666.5M532.1 663.5L531.7 667.0M531.7 667.0L530.4 667.6M527.4 666.5L530.4 667.6M531.7 667.0L532.8 667.5M532.6 669.2L530.7 668.8M530.4 667.6L530.7 668.8M525.2 677.6L526.4 677.3M528.3 678.5L526.9 680.4M528.3 678.5L527.9 677.1M526.4 677.3L527.9 677.1M531.8 675.3L531.4 674.0M531.8 675.3L530.9 676.9M531.4 674.0L528.2 675.5M530.9 676.9L528.4 676.6M528.4 676.6L528.2 675.5M534.6 675.9L531.8 675.3M534.6 675.9L534.2 678.5M534.0 678.7L530.9 677.1M530.9 677.1L530.9 676.9M533.9 663.1L533.0 663.2M532.1 663.5L532.2 663.5M532.2 663.5L533.0 663.2M533.2 671.4L532.7 671.7M533.2 671.4L534.1 672.0M532.7 671.7L535.0 675.6M534.1 672.0L536.5 674.9M536.5 674.9L535.8 675.3M535.8 675.3L535.0 675.6M532.3 671.9L532.7 671.7M532.3 671.9L530.6 669.2M533.3 671.1L533.2 671.4M530.6 669.2L530.7 668.8M540.2 672.2L534.1 672.0M534.6 675.9L535.0 675.6M531.3 672.8L531.4 674.0M531.3 672.8L532.3 671.9M541.9 673.7L536.5 674.9M536.4 678.2L535.8 675.3M529.6 679.4L529.1 681.3M529.6 679.4L530.6 678.7M530.6 678.7L531.6 679.7M531.6 679.7L530.6 681.8M529.1 681.3L530.4 681.8M530.4 681.8L530.6 681.8M528.3 678.5L529.6 679.4M528.0 681.6L529.1 681.3M530.9 677.1L530.6 678.7M527.9 677.1L528.4 676.6M533.9 680.0L531.6 679.7M532.9 684.0L530.6 681.8M528.6 684.6L530.4 681.8M590.8 543.4L590.8 543.4M589.7 543.9L590.2 543.5M590.8 543.4L590.2 543.5M586.5 541.3L588.8 540.7M586.5 541.3L586.5 543.2M586.6 543.6L586.5 543.2M590.2 543.5L588.8 540.7M583.8 547.0L582.1 546.3M582.3 549.9L583.2 549.9M582.3 549.9L580.4 547.4M580.4 547.4L580.4 547.4M580.4 547.4L581.0 546.4M582.1 546.3L581.0 546.4M577.0 540.1L575.1 538.3M577.0 540.1L580.1 539.2M579.3 538.1L575.5 538.0M579.3 538.1L580.1 539.2M575.5 538.0L575.1 538.3M576.6 541.9L575.3 542.5M576.6 541.9L577.0 540.1M575.3 542.5L572.9 540.3M572.9 540.3L573.3 539.1M573.3 539.1L575.1 538.3M579.2 536.8L579.3 538.1M576.9 535.7L576.0 536.2M576.0 536.2L575.5 538.0M580.9 534.4L579.2 536.7M581.0 534.5L582.9 537.5M580.3 539.3L582.9 537.5M580.3 539.3L580.1 539.2M588.4 554.2L587.4 552.3M588.4 554.2L588.7 554.1M588.7 554.1L589.2 551.5M587.4 552.3L587.4 551.8M587.4 551.8L588.7 550.6M588.7 550.6L589.2 551.5M585.6 553.7L587.4 552.3M588.4 554.3L588.4 554.2M591.4 553.7L590.8 553.6M590.8 553.6L588.7 554.1M590.8 553.6L589.2 551.5M584.9 550.8L587.4 551.8M584.3 551.1L583.5 553.5M589.3 549.3L588.7 550.6M625.6 505.0L625.9 504.3M625.6 505.0L624.0 503.9M625.9 504.3L625.4 503.3M624.0 503.9L625.4 503.3M625.6 505.9L625.6 505.0M626.6 506.2L626.7 504.2M626.7 504.2L625.9 504.3M623.4 503.9L624.0 503.9M622.6 499.9L626.0 502.1M626.0 502.1L625.4 503.3M626.7 501.9L626.3 502.1M626.7 501.9L627.6 503.3M626.3 502.1L626.9 504.1M627.6 503.3L627.6 504.3M627.6 504.3L626.9 504.1M627.7 501.2L626.7 501.9M626.0 502.1L626.3 502.1M628.9 502.9L627.6 503.3M626.7 504.2L626.9 504.1M627.7 504.4L627.6 504.3M625.8 490.8L624.6 489.9M627.0 490.4L624.9 488.9M624.6 489.9L624.9 488.9M623.8 491.0L624.0 490.1M624.6 489.9L624.0 490.1M626.3 488.4L625.8 487.7M625.8 487.7L624.9 488.9M624.9 488.9L624.9 488.9M628.1 486.2L627.3 486.0M625.8 487.7L625.8 487.3M627.3 486.0L625.8 487.3M611.1 474.9L610.4 474.0M611.1 474.9L611.5 476.5M611.5 476.5L608.8 476.2M610.4 474.0L608.0 474.3M608.8 476.2L608.0 474.9M608.0 474.3L608.0 474.9M613.4 473.6L611.1 474.9M613.4 473.6L611.7 471.3M611.2 471.3L610.4 474.0M605.3 471.9L608.0 474.3M607.3 477.8L608.2 478.2M607.4 475.8L608.0 474.9M608.2 478.2L608.8 476.2M621.4 477.0L618.7 477.4M621.4 477.0L618.0 474.1M618.7 477.4L617.5 474.3M618.0 474.1L617.5 474.3M618.8 473.6L618.0 474.1M621.6 477.0L621.4 477.0M621.6 477.0L621.6 473.3M613.2 475.9L615.5 477.1M613.2 475.9L614.5 474.0M615.5 477.1L616.1 473.9M614.5 474.0L615.9 473.8M615.9 473.8L616.1 473.9M611.5 476.5L611.6 477.8M611.5 476.5L613.2 475.9M615.8 479.5L611.6 477.8M615.8 479.5L615.5 477.1M613.4 473.6L614.5 474.0M611.5 476.5L611.5 476.5M616.1 479.8L615.8 479.5M616.1 479.8L618.7 477.4M617.5 474.3L616.1 473.9M615.9 473.4L615.9 473.8M609.2 479.2L610.4 479.0M609.2 479.2L607.8 481.2M610.4 479.0L611.8 481.5M607.8 481.2L610.8 483.5M611.8 481.5L611.2 483.1M611.2 483.1L610.9 483.5M610.8 483.5L610.9 483.5M608.2 478.2L609.2 479.2M611.6 477.8L610.4 479.0M606.1 481.9L607.8 481.2M609.2 485.1L610.8 483.5M611.5 488.8L614.4 486.9M614.4 486.9L610.9 483.5M614.6 443.0L615.7 439.8M614.6 443.0L613.6 443.2M613.6 443.2L613.0 442.3M613.0 442.3L613.4 440.3M615.7 439.8L615.5 439.8M613.4 440.3L615.5 439.8M613.4 440.3L612.7 438.5M615.5 439.8L613.1 437.8M612.7 438.5L613.1 437.8M606.0 438.9L606.0 441.1M606.0 438.9L607.0 439.0M607.0 439.0L606.0 441.1M611.3 445.4L610.2 449.0M611.3 445.4L613.1 444.5M613.1 444.5L614.1 445.9M611.1 449.3L610.2 449.0M611.1 449.3L614.1 446.8M614.1 445.9L614.1 446.8M613.6 443.2L613.1 444.5M613.0 442.3L609.4 441.0M609.4 441.0L608.0 442.5M608.0 442.5L608.2 443.4M608.2 443.4L608.7 444.1M608.7 444.1L611.3 445.4M615.5 443.0L614.6 443.0M616.5 446.2L614.1 445.9M615.1 448.6L614.9 448.6M614.9 448.6L614.1 446.8M609.3 449.6L609.7 449.2M609.3 449.6L605.0 447.8M609.7 449.2L608.2 446.7M608.2 446.7L605.3 446.5M605.0 447.8L605.3 446.5M605.1 450.9L608.9 450.7M605.1 450.9L603.2 450.0M608.9 450.7L609.3 449.6M603.1 449.6L603.2 450.0M603.1 449.6L605.0 447.8M608.7 444.1L608.2 446.7M610.2 449.0L609.7 449.2M608.2 443.4L605.2 446.3M605.2 446.3L605.3 446.5M605.5 435.2L607.1 432.2M605.5 435.2L605.9 435.3M609.5 433.6L609.5 433.7M609.5 433.6L608.2 431.8M608.4 435.1L609.5 433.7M608.4 435.1L607.4 435.3M605.9 435.3L607.4 435.3M608.2 431.8L607.1 432.2M565.9 411.1L566.0 411.0M566.7 407.4L566.8 409.8M566.0 411.0L566.8 409.8M615.6 454.4L615.0 454.3M615.6 454.4L615.8 456.5M615.0 454.3L614.1 456.0M615.8 456.5L614.1 456.0M617.6 454.1L616.4 454.1M617.3 457.2L615.8 456.5M616.4 454.1L615.6 454.4M615.5 458.8L613.6 457.7M613.6 457.7L614.1 456.0M614.1 456.0L614.1 456.0M614.2 452.3L614.5 452.3M614.2 452.3L613.7 452.3M613.7 452.3L613.5 452.1M613.5 452.1L612.8 450.2M614.5 452.3L616.6 451.5M616.6 451.5L614.8 448.9M614.8 448.9L612.8 450.2M616.4 454.1L614.5 452.3M615.0 454.3L614.2 452.3M613.0 454.5L613.7 452.3M613.0 454.5L613.7 455.7M613.7 455.7L614.1 456.0M608.9 452.2L608.9 450.7M608.9 452.2L610.6 453.1M610.6 453.1L613.5 452.1M611.1 449.3L612.8 450.2M617.5 451.5L616.6 451.5M614.9 448.6L614.8 448.9M596.8 451.9L597.6 450.5M596.8 451.9L596.9 452.9M601.8 453.3L597.6 450.5M601.8 453.3L601.8 453.6M601.8 453.6L596.9 452.9M596.8 451.9L591.4 451.9M595.2 456.7L596.1 456.5M591.8 454.1L590.8 452.4M596.9 452.9L596.1 456.5M598.3 475.3L596.9 474.2M596.4 471.7L596.2 472.2M596.9 474.2L596.2 472.2M605.3 457.9L604.1 456.6M605.3 457.9L605.6 457.8M605.6 457.8L608.8 454.2M604.1 456.6L606.4 453.5M606.4 453.5L608.8 452.4M608.8 452.4L608.8 454.2M605.1 450.9L606.4 453.5M601.8 453.3L603.2 450.0M601.8 453.6L602.1 455.7M602.1 455.7L604.1 456.6M608.9 452.2L608.8 452.4M613.0 454.5L612.1 454.5M613.7 455.7L612.0 456.4M612.0 456.4L612.1 454.5M610.6 453.1L611.2 454.5M608.8 454.2L610.3 456.2M610.3 456.2L611.2 454.5M611.2 454.5L612.1 454.5M610.2 460.4L608.5 457.5M610.2 460.4L611.3 460.4M608.5 457.5L610.3 456.8M612.1 459.0L611.5 460.3M612.1 459.0L612.1 458.8M612.1 458.8L610.7 457.1M611.3 460.4L611.5 460.3M610.3 456.8L610.7 457.1M607.0 461.9L610.2 460.4M607.0 461.9L605.4 460.0M605.4 460.0L605.3 457.9M605.6 457.8L608.5 457.5M607.0 461.9L607.5 463.9M610.9 462.1L611.3 460.4M610.3 456.2L610.3 456.8M613.5 459.5L612.1 459.0M613.3 462.0L611.5 460.3M613.6 457.7L612.1 458.8M612.0 456.4L610.7 457.1M587.6 413.6L586.0 416.5M587.6 413.6L589.4 421.5M586.0 416.5L588.2 421.6M588.2 421.6L589.3 422.1M589.4 421.5L589.3 422.1M568.9 422.5L569.3 425.0M568.9 422.5L566.2 420.8M566.0 421.0L566.2 420.8M566.0 421.0L565.8 424.7M565.8 424.7L568.3 425.0M569.3 425.0L568.3 425.0M600.6 487.8L596.8 488.8M599.6 492.9L597.8 492.8M597.8 492.8L596.8 488.8M596.6 497.4L596.1 497.1M596.1 497.1L596.6 493.8M597.8 492.8L596.6 493.8M587.5 458.7L587.6 457.9M587.5 458.7L586.5 460.0M586.5 460.0L585.3 455.9M587.6 457.9L587.2 455.1M587.2 455.1L585.3 455.9M590.3 458.5L587.5 458.7M590.9 455.8L587.6 457.9M585.4 461.7L585.4 461.7M585.4 461.7L590.3 463.8M585.4 461.7L586.5 460.0M585.4 461.7L583.0 456.1M583.0 456.1L585.3 455.9M588.6 451.8L587.2 455.1M588.4 451.6L587.2 450.7M583.0 456.1L582.5 455.7M582.5 455.0L582.5 455.7M582.5 455.0L585.5 450.7M585.5 450.7L587.2 450.7M585.4 461.7L584.7 462.2M584.7 462.2L580.9 460.1M582.5 455.7L580.5 457.0M580.5 457.0L580.9 460.1M597.5 449.4L598.7 448.6M597.5 449.4L595.1 448.1M598.7 448.6L598.1 445.7M598.1 445.7L595.0 447.0M595.1 448.1L595.0 447.0M601.0 448.0L598.7 448.6M601.0 448.0L603.1 449.6M597.6 450.5L597.5 449.4M593.4 449.3L595.1 448.1M595.0 447.0L595.0 447.0M595.0 447.0L598.4 442.9M598.1 445.7L599.0 443.7M599.0 443.7L598.4 442.9M601.0 448.0L601.0 444.9M599.0 443.7L601.0 444.9M598.0 482.1L597.0 481.4M601.1 480.3L599.1 479.2M597.0 481.4L599.1 479.2M599.5 476.8L599.0 478.3M596.9 474.2L595.3 478.6M595.3 478.6L599.0 478.3M599.0 478.3L599.1 479.2M548.3 421.8L545.2 422.1M548.3 421.8L549.9 421.0M549.9 419.2L550.5 420.3M549.9 419.2L547.1 419.3M545.2 422.1L547.1 419.3M549.9 421.0L550.5 420.3M548.3 421.8L550.0 424.4M549.9 421.0L550.0 424.4M544.4 425.9L544.6 426.2M548.3 427.3L550.0 424.4M544.3 422.7L545.2 422.1M550.0 424.4L550.0 424.4M553.6 426.5L554.3 424.3M554.3 424.3L553.3 422.6M550.0 424.4L553.3 422.6M542.0 419.9L546.2 415.3M542.0 419.9L541.6 419.0M541.6 419.0L541.7 414.3M541.7 414.3L544.8 414.6M544.8 414.6L546.2 415.2M546.2 415.3L546.2 415.2M542.0 420.1L542.0 419.9M547.1 419.3L546.2 415.3M535.2 417.1L538.2 416.4M538.2 416.4L541.6 419.0M540.5 413.4L538.2 416.4M540.5 413.4L541.7 414.3M546.5 415.0L545.4 410.9M546.5 415.0L546.2 415.2M543.9 411.3L545.4 410.9M543.9 411.3L544.8 414.6M549.9 419.2L550.2 416.8M547.5 414.7L548.6 415.0M547.5 414.7L546.5 415.0M550.2 416.8L548.6 415.0M462.7 518.0L465.3 522.8M459.0 516.4L461.0 526.1M465.3 522.8L463.8 525.9M461.0 526.1L463.8 525.9M470.9 535.3L467.5 532.9M463.5 541.6L466.6 533.3M466.6 533.3L467.5 532.9M477.3 523.0L467.6 532.2M467.5 532.9L467.6 532.2M455.2 536.7L453.5 530.9M455.2 536.7L455.9 538.9M455.9 538.9L460.0 541.2M460.0 541.2L460.7 532.6M460.7 532.6L457.3 530.8M453.5 530.9L457.3 530.8M452.9 530.6L453.5 530.9M448.4 541.6L448.9 541.8M448.9 541.8L455.2 536.7M448.9 541.8L451.4 543.0M451.4 543.0L455.9 538.9M460.8 542.3L460.0 541.2M466.6 533.3L460.7 532.6M461.0 526.1L457.3 530.8M549.6 367.2L547.4 387.2M543.0 380.3L546.4 387.5M546.4 387.5L547.4 387.2M555.6 383.2L549.4 388.0M547.4 387.2L549.4 388.0M541.4 394.0L538.2 392.1M541.4 394.0L542.8 393.5M542.8 393.5L543.4 388.5M537.3 390.9L538.2 392.1M537.3 390.9L542.7 388.2M542.7 388.2L543.4 388.5M536.4 390.6L537.3 390.9M541.2 383.6L542.7 388.2M546.4 387.5L544.8 388.5M544.8 388.5L543.4 388.5M549.6 396.2L548.5 395.5M551.3 393.2L547.8 392.4M548.5 395.5L547.8 392.4M544.8 388.5L546.5 391.9M542.8 393.5L543.9 393.8M546.5 391.9L543.9 393.8M453.9 389.4L457.7 388.2M457.1 394.4L458.5 390.9M457.7 388.2L458.5 390.9M452.5 381.4L458.5 386.1M457.7 388.2L458.5 386.1M465.8 392.8L465.7 391.8M458.5 390.9L465.7 391.8M517.9 380.1L515.6 377.2M519.0 376.0L516.1 376.2M515.6 377.2L516.1 376.2M517.1 383.7L514.3 382.7M514.3 382.7L514.9 377.5M515.6 377.2L514.9 377.5M516.1 376.2L515.5 372.5M507.1 384.7L510.6 382.3M507.1 384.7L505.6 384.8M505.6 384.8L503.3 372.2M510.6 382.3L510.6 377.9M510.6 377.9L508.2 375.1M503.3 372.2L508.2 375.1M513.2 387.5L511.6 382.7M513.2 387.5L508.8 386.6M508.8 386.6L507.1 384.7M511.6 382.7L510.6 382.3M514.3 382.7L511.6 382.7M514.9 377.5L510.6 377.9M515.5 372.5L508.2 375.1M500.5 366.8L490.7 378.8M500.5 366.8L501.6 370.3M501.6 370.3L499.2 376.1M499.2 376.1L491.8 380.7M491.8 380.7L490.7 378.8M490.1 378.4L490.7 378.8M490.1 378.4L489.5 375.3M489.5 375.3L499.7 362.5M499.7 362.5L500.5 366.8M503.3 372.2L501.6 370.3M498.3 386.0L499.2 376.1M500.7 388.3L505.6 384.8M492.0 384.6L491.8 380.7M477.7 393.9L476.6 389.5M484.6 394.4L481.6 385.6M476.6 389.5L481.6 385.6M489.5 375.3L480.4 372.5M480.1 368.1L480.4 372.5M513.2 387.5L514.3 388.4M508.8 386.6L509.6 388.9M514.3 388.4L509.6 388.9M509.5 390.3L509.6 389.8M509.6 388.9L509.6 389.8M524.5 411.6L523.8 410.2M524.5 411.6L522.8 419.3M523.8 410.2L520.3 409.6M520.3 409.6L518.4 411.7M518.4 411.7L517.7 413.4M522.8 419.3L518.0 414.9M518.0 414.9L517.7 413.4M525.5 408.1L523.8 410.2M525.5 408.1L530.5 411.2M530.5 411.2L529.0 413.2M529.0 413.2L524.5 411.6M522.9 419.3L522.8 419.3M529.3 415.5L529.0 413.2M527.0 405.0L525.5 408.1M519.4 407.3L520.3 409.6M514.5 409.1L518.4 411.7M513.4 412.6L517.7 413.4M515.7 416.6L518.0 414.9M514.2 420.1L515.8 421.4M522.8 392.4L521.2 393.4M522.8 392.4L517.3 388.2M517.3 388.2L516.0 389.4M520.4 393.2L521.2 393.4M520.4 393.2L516.4 390.9M516.0 389.4L515.9 389.6M515.9 389.6L515.8 390.1M516.4 390.9L515.8 390.1M520.8 395.0L521.2 393.4M523.9 393.6L523.1 392.3M523.1 392.3L522.8 392.4M518.3 386.5L517.3 388.2M523.9 389.1L523.4 391.8M523.4 391.8L523.1 392.3M514.3 388.4L516.0 389.4M518.0 394.8L518.1 396.0M518.0 394.8L520.4 393.2M518.0 394.8L516.4 390.9M509.6 389.8L515.9 389.6M514.7 391.4L515.8 390.1M526.8 393.6L526.0 391.6M526.8 393.6L529.2 391.7M526.0 391.6L528.2 390.6M529.2 391.7L528.2 390.6M523.4 391.8L526.0 391.6M526.3 394.4L526.8 393.6M531.3 393.0L531.1 394.0M530.5 392.4L529.2 391.7M527.5 387.9L528.2 390.6M497.2 434.5L499.0 434.1M499.6 444.3L501.3 444.5M501.3 444.5L502.3 443.3M499.0 434.1L502.3 443.3M501.7 430.3L499.5 433.8M499.0 434.1L499.5 433.8M501.3 444.5L504.1 449.8M506.2 442.4L503.7 442.0M511.6 446.7L511.1 447.1M503.7 442.0L502.3 443.3M504.1 449.8L511.1 447.1M512.9 441.7L513.5 438.2M513.5 438.2L518.6 439.5M520.1 440.3L520.8 444.0M513.9 445.5L518.5 448.0M520.8 444.0L518.5 448.0M556.1 427.6L557.5 426.1M559.2 427.5L559.1 426.4M559.2 427.5L557.9 430.3M557.3 430.3L557.9 430.3M559.1 426.4L557.5 426.1M554.3 424.3L556.1 424.4M556.1 424.4L557.5 426.1M485.8 500.8L484.9 503.0M485.8 500.8L495.5 507.1M484.9 503.0L485.8 506.5M495.5 507.1L485.8 506.5M486.0 498.3L485.8 500.8M482.1 503.1L484.9 503.0M482.3 510.2L485.8 506.5M442.8 410.7L445.1 415.7M442.8 410.7L444.6 411.4M444.6 411.4L445.5 415.7M445.1 415.7L445.5 415.7M441.6 416.4L445.1 415.7M439.5 408.6L442.8 410.7M447.7 410.8L444.6 411.4M451.4 416.5L445.5 415.7M553.8 402.3L553.6 403.2M553.8 402.3L552.5 401.6M551.2 403.2L550.5 402.3M551.2 403.2L552.0 403.7M552.0 403.7L553.6 403.2M550.5 402.3L552.5 401.6M552.0 399.2L551.1 400.3M553.8 402.3L554.4 401.3M552.5 401.6L551.1 400.3M551.2 403.2L548.4 405.4M552.0 403.7L551.4 405.6M551.4 405.6L548.7 405.9M548.4 405.4L548.7 405.9M553.6 403.2L553.8 403.4M556.8 404.1L558.0 402.9M556.8 404.1L556.6 404.2M556.6 404.2L553.8 403.4M558.5 406.7L558.9 403.5M558.5 406.7L559.1 407.6M559.4 407.5L560.3 404.0M559.4 407.5L559.1 407.6M560.3 404.0L558.9 403.5M556.8 404.1L558.1 406.4M558.0 402.9L558.9 403.5M558.1 406.4L558.5 406.7M560.4 404.0L560.3 404.0M560.7 407.5L559.4 407.5M559.4 411.3L558.3 408.8M558.3 408.8L559.1 407.6M568.5 419.6L569.8 421.2M568.5 419.6L566.7 419.9M566.7 419.9L566.2 420.8M568.9 422.5L569.7 422.3M569.7 422.3L569.8 421.2M568.5 419.6L569.7 418.9M571.1 419.7L569.7 418.9M571.1 419.7L571.6 421.5M569.8 421.2L571.6 421.5M557.9 416.3L556.2 417.0M559.6 416.6L559.7 418.0M556.2 417.0L557.3 419.3M557.3 419.3L558.5 419.8M558.5 419.8L559.7 418.0M559.1 426.4L560.9 424.6M556.1 424.4L558.2 422.5M560.9 424.6L560.3 422.5M558.2 422.5L559.5 422.0M559.5 422.0L560.3 422.5M562.7 414.1L562.4 417.8M562.4 417.8L559.9 418.0M559.7 418.0L559.9 418.0M564.5 420.8L566.0 421.0M564.5 420.8L561.7 421.4M564.3 426.4L565.8 424.7M564.3 426.4L560.9 424.6M560.3 422.5L561.7 421.4M465.6 636.9L462.7 636.9M465.6 636.9L465.6 633.6M465.6 633.6L464.2 633.4M462.7 636.4L462.7 636.9M462.7 636.4L464.1 633.5M464.1 633.5L464.2 633.4M467.9 637.8L465.6 636.9M461.0 639.3L462.7 636.9M466.0 633.4L465.6 633.6M466.0 633.4L468.0 634.0M468.0 634.0L468.3 637.7M460.3 633.1L462.7 636.4M460.9 632.6L464.1 633.5M461.8 631.2L464.0 632.0M464.0 632.0L464.2 633.4M473.1 636.8L474.0 635.1M472.4 636.9L471.9 635.2M474.0 635.1L472.1 634.3M472.1 634.3L471.9 635.2M469.0 638.0L469.8 636.8M471.9 635.2L469.8 636.8M460.4 623.3L461.5 623.5M460.4 623.3L458.8 624.2M458.8 624.2L458.9 625.1M461.6 624.1L458.9 625.1M461.6 624.1L461.5 623.5M458.9 625.1L458.9 625.1M461.7 622.4L461.5 623.5M459.4 621.9L460.4 623.3M457.9 621.3L457.8 621.4M457.8 621.4L458.8 624.2M457.1 621.4L457.8 621.4M457.8 625.5L458.9 625.1M460.6 627.7L458.9 625.1M461.4 627.6L462.7 626.7M462.4 624.9L462.7 626.7M462.4 624.9L461.6 624.1M463.6 626.8L464.2 626.8M463.6 626.8L464.2 630.1M465.6 628.2L464.6 630.3M465.6 628.2L464.3 626.9M464.3 626.9L464.2 626.8M464.2 630.1L464.5 630.3M464.5 630.3L464.6 630.3M462.8 629.9L464.2 630.1M462.7 626.7L463.6 626.8M466.4 630.8L464.6 630.3M466.4 630.8L466.8 630.7M466.8 630.7L466.0 628.2M466.0 628.2L465.6 628.2M467.8 627.8L466.0 628.2M467.8 627.8L466.6 626.8M466.6 626.8L464.3 626.9M466.6 626.8L465.7 624.9M465.7 624.9L464.2 626.8M464.0 632.0L464.5 630.3M466.0 633.4L466.4 630.8M447.1 620.4L448.1 620.2M449.3 622.0L449.4 620.8M448.1 620.2L449.4 620.8M446.8 614.9L446.9 615.0M446.9 615.0L449.2 618.0M448.1 620.2L449.2 618.0M457.6 601.6L456.1 604.9M460.0 604.8L458.5 606.8M456.1 604.9L458.5 606.8M463.6 608.0L463.7 608.0M463.6 608.0L458.6 607.6M458.6 607.6L458.5 606.8M452.4 594.9L449.8 596.4M452.4 594.9L449.6 589.9M449.8 596.4L447.1 592.4M449.6 589.9L447.1 592.4M455.3 595.3L452.4 594.9M449.5 601.4L452.3 601.6M452.3 601.6L453.8 600.5M448.0 598.9L449.8 596.4M449.8 588.7L449.6 589.9M447.1 598.7L446.9 598.4M444.6 593.2L444.8 594.6M444.6 593.2L447.1 592.4M446.9 598.4L444.8 594.6M442.9 591.6L443.6 592.6M443.6 592.6L444.6 593.2M438.2 599.8L438.8 599.7M438.2 599.8L437.5 597.9M438.8 599.7L439.7 598.2M437.5 597.9L438.0 597.3M438.0 597.3L439.8 597.3M439.7 598.2L439.8 597.3M436.3 603.4L438.2 599.8M442.6 601.6L441.6 599.9M441.6 599.9L438.8 599.7M435.3 597.4L437.5 597.9M441.6 599.9L441.6 599.2M441.6 599.2L439.7 598.2M438.1 594.2L438.3 594.4M438.3 594.4L438.0 597.3M440.7 596.8L440.3 595.3M440.7 596.8L441.9 597.7M442.1 597.4L442.0 597.7M442.1 597.4L442.0 594.2M442.0 594.2L440.3 595.3M441.9 597.7L442.0 597.7M438.3 594.4L440.3 595.3M439.8 597.3L440.7 596.8M441.6 599.2L441.9 597.7M446.9 598.4L442.0 597.7M444.8 594.6L442.1 597.4M443.6 592.6L442.0 594.2M466.7 620.5L465.9 619.7M466.7 620.5L466.0 624.3M465.9 619.7L463.3 622.0M463.3 622.0L463.8 623.8M463.8 623.8L466.0 624.3M466.0 624.3L466.0 624.3M465.1 617.3L465.9 619.7M465.1 617.3L461.1 618.3M461.1 618.3L460.7 619.0M462.1 622.1L463.3 622.0M462.4 624.9L463.8 623.8M465.7 624.9L466.0 624.3M470.6 618.3L465.3 616.7M470.6 618.3L471.2 616.8M471.2 616.8L467.8 615.8M467.8 615.8L465.5 615.8M465.5 615.8L465.3 616.7M465.1 617.3L465.3 616.7M470.6 618.4L466.7 620.5M470.6 618.4L470.6 618.3M466.7 620.5L466.7 620.5M465.3 614.0L462.6 613.3M465.3 614.0L465.5 615.8M461.1 618.3L459.5 616.5M462.6 613.3L459.5 616.5M470.6 618.4L472.1 621.3M466.7 620.5L469.2 621.7M472.1 621.3L469.2 621.7M475.0 623.2L474.8 622.7M475.0 623.2L481.3 621.3M481.3 621.3L479.0 619.6M479.0 619.6L477.3 619.1M477.3 619.1L474.8 622.7M469.6 611.0L469.0 610.8M469.6 611.0L472.3 613.5M465.3 614.0L466.2 612.2M467.8 615.8L472.1 613.9M472.3 613.5L472.1 613.9M406.2 606.2L402.8 612.5M406.2 606.2L406.5 605.8M407.6 606.6L406.5 605.8M407.6 606.6L410.8 612.4M402.8 612.5L407.0 614.0M407.0 614.0L410.8 612.4M401.6 612.9L402.8 612.5M401.4 605.1L406.2 606.2M407.7 601.4L406.5 605.8M412.5 608.4L407.6 606.6M414.0 612.0L410.8 612.4M407.6 615.4L407.0 614.0M510.3 704.6L506.5 706.2M510.6 702.1L510.2 701.9M510.2 701.9L507.1 702.4M507.1 702.4L506.5 706.2M496.1 701.5L504.5 701.8M504.5 701.8L499.9 715.6M499.9 715.6L506.5 706.2M519.4 686.8L518.4 688.0M519.4 692.1L518.8 691.4M518.8 691.4L518.3 690.2M518.3 690.2L518.4 688.0M513.0 702.7L513.1 702.9M512.9 704.2L513.1 703.7M513.1 702.9L513.1 703.7M517.1 703.4L517.8 703.4M517.1 703.4L515.9 701.2M518.3 700.4L517.6 700.2M515.9 701.2L516.9 700.4M517.6 700.2L516.9 700.4M515.9 701.2L514.9 701.0M514.1 700.0L514.4 698.2M516.9 700.4L514.4 698.2M446.6 554.1L450.2 553.6M446.6 554.1L452.4 544.4M450.2 553.6L456.8 546.9M452.4 544.4L456.8 546.9M446.3 554.2L446.6 554.1M459.9 556.7L450.2 553.6M451.4 543.0L452.4 544.4M458.6 547.0L456.8 546.9M510.5 581.7L508.0 580.6M510.5 581.7L510.0 583.4M508.0 580.6L505.1 584.7M510.0 583.4L508.3 585.4M508.3 585.4L505.4 584.9M505.4 584.9L505.1 584.7M512.7 580.6L510.5 581.7M505.9 578.3L508.0 580.6M513.0 586.6L517.4 583.1M513.0 586.6L510.0 583.4M517.4 583.1L517.2 582.7M502.5 583.7L505.1 584.7M508.4 585.8L508.3 585.4M512.5 588.0L513.0 586.6M505.2 590.0L505.4 584.9M520.7 571.9L520.8 573.6M520.7 571.9L523.2 571.4M523.2 571.4L524.2 572.8M520.8 573.6L522.3 575.8M524.2 572.8L523.2 575.8M522.3 575.8L523.2 575.8M519.7 570.5L520.7 571.9M517.1 575.2L520.8 573.6M519.6 569.9L521.6 569.1M525.7 569.5L523.2 571.4M525.7 569.5L525.6 569.2M521.6 569.1L525.6 569.2M526.4 570.0L525.7 569.5M526.4 570.0L526.2 571.8M526.2 571.8L525.8 572.3M525.8 572.3L524.2 572.8M521.8 576.6L522.3 575.8M525.1 576.2L525.8 572.3M525.1 576.2L523.2 575.8M525.7 581.4L525.7 576.5M525.7 581.4L525.5 581.6M525.5 581.6L520.8 578.9M525.1 576.2L525.7 576.5M580.1 550.9L581.0 551.0M580.1 550.9L577.9 552.0M577.9 552.0L577.8 553.6M577.8 553.6L581.2 551.4M581.2 551.4L581.1 551.0M581.1 551.0L581.0 551.0M580.5 549.9L581.0 551.0M579.6 550.2L580.1 550.9M579.1 549.8L577.6 550.7M577.6 550.7L577.9 552.0M577.7 553.9L577.8 553.6M582.0 552.4L581.2 551.4M582.3 549.9L581.1 551.0M580.3 547.7L580.4 547.4M563.2 548.0L564.2 546.8M569.2 547.4L568.1 546.6M564.2 546.8L568.1 546.6M575.7 547.8L575.7 547.9M575.7 547.8L577.6 544.7M577.6 544.7L575.3 542.6M575.3 542.6L574.3 545.2M574.3 545.2L575.7 547.9M573.9 554.6L577.5 554.5M573.9 554.6L573.6 554.2M574.7 548.7L575.1 548.3M577.6 550.7L575.6 548.0M575.1 548.3L575.6 548.0M580.4 547.4L575.7 547.8M575.6 548.0L575.7 547.9M574.3 545.2L572.5 544.8M575.1 548.3L571.3 546.3M572.5 544.8L571.3 546.3M569.9 547.2L570.1 546.7M570.1 546.7L571.3 546.3M575.3 542.6L575.3 542.5M572.9 540.3L572.8 540.3M572.5 544.8L571.4 542.7M572.8 540.3L571.4 542.7M569.5 544.1L570.1 546.7M569.5 544.1L571.1 542.8M571.1 542.8L571.4 542.7M597.0 501.7L598.5 499.8M597.0 501.7L597.8 504.6M598.5 499.8L598.6 504.5M597.8 504.6L598.6 504.5M598.6 499.8L598.5 499.8M594.4 498.7L596.1 497.1M594.4 498.7L597.0 501.7M598.6 504.5L598.6 504.5M600.0 511.2L599.5 511.5M600.0 513.6L599.3 513.0M599.5 511.5L599.3 513.0M598.3 517.9L598.2 514.2M599.3 513.0L598.2 514.2M597.8 504.6L596.6 505.3M599.5 511.5L597.0 509.7M596.6 505.3L597.0 509.7M594.7 520.6L592.8 519.5M589.1 519.9L588.8 520.7M589.1 519.9L589.1 519.8M589.1 519.8L592.8 519.5M615.4 516.9L613.1 520.1M615.4 516.9L617.1 519.9M614.2 522.9L614.7 522.9M614.2 522.9L613.2 522.4M613.2 522.4L612.8 521.5M613.1 520.1L612.8 521.5M612.8 522.7L613.2 522.4M610.7 521.3L612.3 521.3M612.8 521.5L612.3 521.3M615.4 516.9L615.4 516.8M618.4 516.3L617.0 515.9M615.4 516.8L617.0 515.9M621.3 512.6L617.1 515.3M617.1 515.3L617.0 515.9M615.8 526.4L614.7 526.4M615.8 526.4L617.5 526.2M617.5 526.2L614.3 524.9M614.7 526.4L614.2 526.2M614.2 526.2L614.3 524.9M616.0 528.5L614.7 526.4M616.0 528.4L615.8 526.4M619.0 526.0L617.5 526.2M614.2 522.9L614.3 524.9M612.3 528.2L614.2 526.2M551.5 595.4L552.0 593.4M549.2 596.1L548.7 595.7M548.5 594.2L548.7 595.7M548.5 594.2L551.1 591.3M552.0 593.4L551.1 591.3M560.4 592.8L558.4 596.2M558.5 593.3L557.7 594.2M557.7 594.2L557.8 595.4M557.8 595.4L558.4 596.2M554.0 598.0L553.8 598.0M554.0 598.0L555.0 597.0M553.8 598.0L553.6 596.0M555.0 597.0L554.8 595.8M553.6 596.0L554.8 595.8M552.3 598.1L553.8 598.0M551.8 595.8L553.6 596.0M555.1 595.3L557.8 595.4M555.1 595.3L554.8 595.8M560.1 599.3L558.4 596.2M560.1 599.3L555.0 597.0M552.0 593.4L554.5 593.8M554.5 593.8L555.1 595.3M538.2 603.0L540.2 602.6M539.0 605.5L540.9 604.0M540.2 602.6L540.9 604.0M542.0 607.6L541.5 607.6M542.0 607.6L542.9 606.0M540.9 604.0L542.9 606.0M550.2 601.7L556.2 609.9M548.7 600.8L548.3 600.8M548.3 600.8L544.8 602.8M551.1 608.8L556.2 609.9M551.1 608.8L544.1 605.5M544.8 602.8L544.1 605.5M541.7 595.3L543.4 593.7M541.7 595.3L541.3 594.0M543.3 592.9L543.4 593.7M543.3 592.9L542.9 592.8M541.3 594.0L542.9 592.8M544.9 595.6L544.9 596.8M544.9 595.6L545.3 594.9M545.3 594.9L545.7 594.7M545.7 594.7L547.7 595.7M547.7 595.7L546.0 597.8M546.0 597.8L544.9 596.8M541.7 595.3L541.7 595.5M541.7 595.5L544.9 595.6M543.4 593.7L545.3 594.9M548.3 600.8L546.9 599.5M548.7 595.7L547.7 595.7M546.4 599.0L546.9 599.5M546.4 599.0L546.0 597.8M536.5 589.3L537.1 588.7M536.5 589.3L534.4 585.5M537.1 588.7L537.3 586.5M537.3 586.5L536.9 585.5M534.4 585.5L536.9 585.5M532.8 585.5L532.7 586.6M532.8 585.5L534.4 585.5M536.0 589.8L536.5 589.3M541.3 594.0L540.8 592.8M542.9 592.8L541.2 592.1M541.2 592.1L540.8 592.8M539.7 596.3L541.2 596.2M541.2 596.2L541.7 595.5M538.8 593.5L538.9 593.3M540.8 592.8L538.9 593.3M538.0 591.8L538.2 591.9M538.9 593.3L538.2 591.9M553.5 585.6L552.7 585.5M552.7 585.5L550.9 584.2M554.6 583.5L554.3 582.3M550.9 584.2L550.6 583.9M554.3 582.3L552.0 580.5M550.6 583.9L552.0 580.5M549.2 572.6L549.4 573.2M549.2 572.6L552.2 569.7M549.4 573.2L553.1 574.0M553.1 574.0L553.8 573.5M552.2 569.7L552.8 569.4M553.8 573.5L552.8 569.4M549.2 572.6L547.8 571.9M547.8 571.9L547.1 570.9M552.2 569.7L547.8 569.5M547.1 570.9L547.8 569.5M551.2 579.4L552.6 576.0M551.2 579.4L549.7 576.1M549.7 576.1L552.5 575.1M552.6 576.0L552.5 575.1M554.9 577.8L552.6 576.0M554.9 577.8L551.3 579.6M551.2 579.6L551.3 579.6M551.2 579.6L551.2 579.4M555.2 574.5L554.5 573.7M555.2 574.5L555.4 577.7M555.4 577.7L554.9 577.8M553.1 574.0L552.5 575.1M553.8 573.5L554.5 573.7M549.5 576.0L549.1 574.7M549.5 576.0L547.8 576.9M549.1 574.7L546.1 574.9M547.8 576.9L545.6 576.5M545.6 576.5L545.4 575.4M545.4 575.4L546.1 574.9M549.4 573.2L549.1 574.7M549.7 576.1L549.5 576.0M548.8 580.4L547.8 576.9M548.8 580.4L548.8 580.4M548.8 580.4L551.2 579.6M547.8 571.9L546.1 574.9M545.0 581.3L548.8 580.4M544.1 580.3L545.6 576.5M542.6 573.3L545.4 575.4M541.9 571.3L542.1 571.0M547.1 570.9L542.1 571.0M556.5 578.4L555.8 580.4M556.5 578.4L559.2 577.8M555.8 580.4L559.9 582.3M559.2 577.8L559.7 578.2M559.7 578.2L561.3 579.5M559.9 582.3L561.3 579.5M554.3 582.3L555.8 580.4M555.4 577.7L556.5 578.4M552.0 580.5L551.3 579.6M557.3 574.9L555.2 574.5M557.3 574.9L558.8 575.8M558.8 575.8L559.2 577.8M559.7 583.2L559.9 582.3M563.7 581.2L562.1 579.4M562.1 579.4L561.3 579.5M564.6 567.6L564.0 569.4M564.6 567.6L562.9 566.9M564.0 569.4L562.3 568.3M562.3 568.3L562.5 567.0M562.9 566.9L562.5 567.0M567.3 580.1L566.4 579.0M562.1 579.4L562.6 579.0M562.6 579.0L566.4 579.0M543.3 592.9L544.4 591.5M541.2 592.1L541.1 590.9M544.4 591.5L541.1 590.9M538.2 591.9L540.7 589.8M541.1 590.9L540.7 589.8M537.1 588.7L540.7 589.4M540.7 589.4L540.7 589.8M546.3 590.6L544.7 591.4M546.3 590.6L547.4 592.7M544.7 591.4L546.1 593.5M546.1 593.5L547.2 593.1M547.4 592.7L547.2 593.1M545.7 594.7L546.1 593.5M544.4 591.5L544.5 591.4M544.5 591.4L544.7 591.4M548.5 594.2L547.2 593.1M546.3 590.6L546.6 590.2M547.4 592.7L549.0 591.5M546.6 590.2L549.0 591.5M551.1 591.3L551.1 591.2M549.0 591.5L551.1 591.2M528.9 584.3L530.3 585.1M528.9 584.3L526.9 581.4M526.9 581.4L529.2 580.7M530.3 585.1L531.5 584.9M529.2 580.7L531.5 584.9M530.3 585.1L527.4 587.7M527.4 587.7L531.8 588.4M532.8 585.5L532.5 585.1M532.5 585.1L531.5 584.9M537.2 585.1L536.9 585.5M537.2 582.3L534.3 580.4M532.5 585.1L534.3 580.4M534.9 579.0L534.2 580.0M534.3 580.4L534.2 580.0M529.8 574.1L529.8 574.2M531.9 575.5L531.5 575.5M529.8 574.2L531.5 575.5M529.7 570.3L526.4 570.0M526.2 571.8L528.6 574.8M529.8 574.2L528.6 574.8M521.6 569.1L523.5 566.3M525.6 569.2L525.6 568.7M525.6 568.7L523.5 566.3M532.2 567.5L527.7 565.7M525.6 568.7L527.7 565.7M567.5 558.2L567.2 556.0M567.5 558.2L572.9 557.1M567.2 556.0L573.9 554.7M572.9 557.1L573.9 554.7M567.4 558.4L563.8 559.2M567.4 558.4L567.5 558.2M563.8 559.2L560.5 556.8M566.8 553.3L567.2 556.0M560.5 556.8L560.8 555.6M573.0 557.2L572.9 557.1M567.7 559.3L567.4 558.4M573.9 554.6L573.9 554.7M544.5 560.8L540.7 563.2M544.5 560.8L542.6 556.8M540.7 563.2L541.4 555.5M542.6 556.8L541.4 555.5M539.3 554.3L540.2 553.8M540.0 563.3L540.4 563.4M540.2 553.8L540.3 553.9M540.4 563.4L540.7 563.2M541.4 555.5L540.3 553.9M548.3 558.4L546.9 559.2M548.3 558.4L549.1 556.4M549.1 556.4L548.0 555.5M546.9 559.2L546.5 559.2M546.5 559.2L545.8 556.0M548.0 555.5L547.1 554.9M547.1 554.9L546.5 554.6M546.5 554.6L545.8 555.8M545.8 555.8L545.8 556.0M552.5 559.3L548.3 558.4M552.5 559.3L553.0 558.6M550.1 555.7L549.1 556.4M549.0 554.3L549.5 554.1M549.0 554.3L548.0 555.5M551.0 562.3L546.9 559.2M551.0 562.3L546.2 562.2M546.2 562.2L544.8 560.7M544.8 560.7L546.5 559.2M544.5 560.8L544.8 560.7M542.6 556.8L545.8 556.0M549.0 554.3L547.1 554.9M546.3 552.4L546.5 554.6M546.3 552.4L549.5 553.5M546.1 552.0L546.3 552.4M546.1 552.0L541.2 553.8M541.2 553.8L545.8 555.8M541.2 553.8L540.3 553.9M564.2 562.9L562.3 565.3M564.2 562.9L564.9 563.4M564.9 563.4L565.3 564.5M565.3 564.5L565.2 565.5M562.3 565.3L564.5 565.6M565.2 565.5L564.5 565.6M563.2 561.4L563.8 562.6M563.2 561.4L563.8 559.2M563.8 562.6L564.2 562.9M567.8 561.0L564.9 563.4M568.2 563.9L568.5 563.1M568.2 563.9L565.3 564.5M561.6 565.5L562.3 565.3M561.6 565.5L562.5 567.0M562.9 566.9L564.5 565.6M565.5 566.3L564.6 567.6M565.5 566.3L565.2 565.5M571.8 563.6L571.4 565.0M575.0 565.1L574.4 567.4M574.4 567.4L571.4 565.0M568.2 563.9L568.5 565.2M571.4 565.0L570.8 565.6M570.8 565.6L569.9 565.6M568.5 565.2L569.9 565.6M542.0 607.6L542.1 608.0M551.1 608.8L546.9 609.4M544.1 605.5L542.9 606.0M542.1 608.0L546.9 609.4M632.1 645.9L602.5 635.8M560.1 599.3L580.3 623.3M580.3 623.3L602.5 635.8M554.0 598.0L565.7 616.6M580.3 623.3L565.7 616.6M556.2 609.9L565.5 616.5M565.7 616.6L565.5 616.5M557.8 636.3L544.2 641.0M557.8 636.3L569.3 633.4M602.5 635.8L569.3 633.4M541.0 633.9L540.6 635.1M541.0 638.3L540.9 638.2M545.8 638.4L557.8 636.3M546.0 630.8L554.9 631.0M554.9 631.0L569.3 633.4M539.7 625.8L540.4 623.1M537.1 623.2L539.9 622.6M539.9 622.6L540.4 623.1M541.9 627.0L541.5 623.2M540.4 623.1L541.5 623.2M554.9 631.0L543.2 622.1M541.5 623.2L543.2 622.1M533.7 620.3L534.6 616.8M535.1 621.6L536.2 618.4M534.6 616.8L534.8 616.7M534.8 616.7L535.7 616.6M536.2 618.4L535.7 616.6M537.4 610.1L537.1 608.2M537.4 610.1L538.1 611.0M542.1 608.0L542.2 610.6M538.1 611.0L542.2 610.6M546.9 609.4L542.4 610.9M550.8 616.1L565.5 616.5M550.8 616.1L543.5 613.2M543.5 613.2L542.7 612.4M542.7 612.4L542.4 610.9M542.2 610.6L542.4 610.9M502.5 688.5L502.2 688.9M502.5 688.5L499.5 686.5M499.5 686.5L498.0 687.7M502.2 688.9L502.1 688.9M502.1 688.9L498.1 688.0M498.0 687.7L498.1 688.0M500.0 685.5L499.5 686.5M500.0 685.5L496.8 682.9M492.4 684.6L492.8 684.3M492.4 684.6L498.0 687.7M496.8 682.9L495.4 683.1M492.8 684.3L495.4 683.1M498.2 689.9L499.3 690.5M498.2 689.9L498.1 688.0M499.3 690.5L502.1 688.9M427.1 698.2L456.9 691.4M493.8 693.9L498.2 689.9M456.9 691.4L492.4 684.6M481.9 634.0L481.9 633.6M485.6 634.6L482.2 633.2M481.9 633.6L482.2 633.2M482.4 631.3L481.9 631.8M482.2 633.2L481.9 631.8M485.3 621.3L484.2 621.2M482.8 621.8L484.2 621.2M482.8 621.8L480.6 626.1M482.8 628.5L481.0 627.3M480.6 626.1L481.0 627.3M474.0 635.1L474.6 634.9M476.6 637.0L475.4 635.0M474.6 634.9L475.4 635.0M482.3 645.8L483.4 646.4M482.3 645.8L480.7 648.7M483.4 646.4L480.8 651.8M480.7 648.7L480.8 651.8M482.0 645.3L482.3 645.8M483.9 646.6L483.4 646.4M478.9 646.2L480.7 648.7M484.7 648.8L480.7 653.0M480.7 653.0L480.8 651.8M451.9 679.1L465.7 672.2M465.7 672.2L471.6 667.9M480.7 653.0L477.1 661.2M477.1 661.2L471.6 667.9M535.9 647.8L536.1 647.5M535.9 647.8L535.3 648.2M536.1 647.5L534.3 644.8M535.3 648.2L534.4 647.1M534.3 644.8L534.4 647.1M538.4 649.3L535.9 647.8M538.8 647.3L536.8 646.8M536.8 646.8L536.8 646.8M536.8 646.8L536.1 647.5M473.0 598.4L476.9 597.8M474.5 591.5L477.8 594.8M476.9 597.8L477.8 594.8M480.3 591.6L480.0 593.0M480.0 593.0L477.8 594.8M473.8 603.8L473.9 603.8M476.9 597.8L480.8 601.7M473.9 603.8L480.8 601.7M501.5 598.9L497.3 600.1M497.7 605.7L497.1 605.4M497.1 605.4L497.3 600.1M491.9 595.7L491.4 596.2M488.6 584.5L486.6 590.2M486.6 590.2L491.4 596.2M485.2 590.3L486.3 590.3M486.6 590.2L486.3 590.3M471.7 607.0L472.4 607.3M473.8 603.9L475.4 607.4M472.4 607.3L475.4 607.4M469.6 611.0L473.0 609.7M472.4 607.3L473.0 609.7M475.3 611.7L473.7 613.3M475.3 611.7L475.5 610.3M473.7 613.3L472.9 613.5M472.3 613.5L472.9 613.5M475.5 610.3L473.0 609.7M536.9 632.2L536.1 631.8M536.9 632.2L536.4 633.5M536.1 631.8L536.1 633.3M536.4 633.5L536.1 633.3M534.9 629.7L536.1 631.8M537.4 632.0L536.9 632.2M539.3 633.9L537.0 634.4M537.0 634.4L536.4 633.5M534.1 632.6L536.1 633.3M536.8 634.7L537.0 634.4M536.8 634.7L534.1 635.2M534.1 635.2L533.1 634.6M537.3 610.2L533.5 611.1M537.3 610.2L534.7 612.5M534.7 612.5L533.5 611.1M537.4 610.1L537.3 610.2M533.4 609.7L533.2 610.9M533.2 610.9L533.5 611.1M532.5 608.8L529.9 609.1M533.2 610.9L531.6 611.8M529.9 609.1L531.6 611.8M525.5 606.3L526.3 609.2M525.5 606.3L523.6 608.5M523.6 608.5L525.3 609.4M526.3 609.2L525.3 609.4M523.1 608.7L523.6 611.8M523.1 608.7L523.6 608.5M523.6 611.8L524.4 612.1M524.4 612.1L525.3 609.4M530.9 605.2L529.9 605.4M530.9 602.5L528.5 604.3M529.9 605.4L528.5 604.3M528.2 607.5L528.4 606.2M528.2 607.5L528.9 608.8M528.9 608.8L529.3 608.8M529.6 605.8L528.4 606.2M529.6 605.8L529.8 608.1M529.8 608.1L529.3 608.8M525.5 606.2L528.2 607.5M525.5 606.2L525.5 606.3M527.8 609.8L528.9 608.8M527.8 609.8L526.3 609.2M530.8 607.3L529.8 608.1M529.9 605.4L529.6 605.8M529.9 609.1L529.3 608.8M519.1 589.5L519.9 585.3M519.1 589.5L515.9 588.3M519.9 585.3L518.1 583.9M515.9 588.3L518.1 583.9M518.2 591.5L519.0 590.2M513.5 591.7L515.9 588.3M519.0 590.2L519.1 589.5M517.4 583.1L518.1 583.9M525.5 581.6L524.3 584.0M519.9 585.3L520.7 585.3M520.7 585.3L524.3 584.0M528.9 584.3L525.6 585.4M526.9 581.4L525.7 581.4M524.3 584.0L525.6 585.4M527.4 587.7L527.1 587.8M525.6 585.4L527.1 587.8M528.0 591.6L526.9 590.4M526.9 590.4L527.1 588.1M527.1 587.8L527.1 588.1M529.1 664.1L527.8 660.8M532.2 663.5L528.4 659.0M527.8 660.8L528.4 659.0M531.3 672.8L528.2 671.9M528.2 675.5L527.1 673.0M528.2 671.9L527.1 673.0M530.6 669.2L528.2 671.1M528.2 671.9L528.2 671.1M526.4 677.3L526.7 673.0M526.7 673.0L527.1 673.0M591.3 536.5L591.4 538.3M591.3 536.5L588.2 536.5M588.2 536.5L589.1 538.2M589.1 538.2L591.2 538.4M591.4 538.3L591.2 538.4M594.7 537.8L593.0 538.9M592.9 535.9L591.3 536.5M593.0 538.9L591.4 538.3M586.5 541.3L585.5 540.1M585.5 540.1L585.4 538.4M587.8 536.3L585.4 538.4M587.8 536.3L588.2 536.5M588.8 540.7L589.4 539.9M589.4 539.9L589.1 538.2M587.7 534.9L587.1 532.6M587.7 534.9L587.7 535.6M587.7 535.6L583.6 535.9M587.1 532.6L583.6 535.6M583.6 535.6L583.6 535.9M587.1 531.9L587.0 532.3M587.0 532.3L587.1 532.6M590.0 534.6L587.7 534.9M587.8 536.3L587.7 535.6M585.4 538.4L583.2 537.5M583.2 537.5L583.6 535.9M587.0 532.3L583.9 533.0M583.2 535.0L583.6 535.6M582.9 537.5L583.2 537.5M586.5 543.2L584.6 542.8M585.5 540.1L582.5 541.6M582.5 541.6L584.6 542.8M585.7 544.4L583.4 544.0M584.6 542.8L583.4 544.0M582.1 546.3L583.0 544.0M583.4 544.0L583.0 544.0M579.2 544.1L579.1 542.2M579.2 544.1L580.0 544.8M580.0 544.8L582.4 542.3M579.1 542.2L580.5 540.3M580.5 540.3L582.4 541.6M582.4 541.6L582.4 542.3M577.6 544.7L579.2 544.1M576.6 541.9L579.1 542.2M581.0 546.4L580.0 544.8M583.0 544.0L582.4 542.3M580.3 539.3L580.5 540.3M582.5 541.6L582.4 541.6M621.9 491.1L621.4 490.2M619.8 492.8L618.9 491.2M618.9 491.2L621.4 490.2M616.8 493.4L617.7 490.7M618.9 491.2L617.7 490.7M628.0 482.9L627.0 483.6M627.3 486.0L626.5 484.7M627.0 483.6L626.5 484.7M627.9 480.8L625.2 481.0M627.0 483.6L625.2 481.0M625.8 487.3L624.4 486.8M624.4 486.8L624.9 484.3M626.5 484.7L624.9 484.3M611.8 481.5L616.2 480.4M611.2 483.1L616.2 482.8M616.2 482.8L616.2 480.4M616.1 479.8L616.2 480.3M616.2 480.3L616.2 480.4M616.6 432.9L615.3 432.5M616.6 432.9L616.0 430.0M615.3 432.5L614.2 430.4M614.2 430.4L615.5 429.8M616.0 430.0L615.5 429.8M617.3 433.0L616.9 433.2M616.9 433.2L616.6 432.9M618.1 429.2L616.0 430.0M615.1 427.4L615.5 429.8M613.0 426.3L613.8 430.3M613.0 426.3L612.2 431.2M612.2 431.2L613.8 430.3M612.9 425.5L613.0 426.3M614.2 430.4L613.8 430.3M612.1 431.2L612.2 431.6M612.1 431.2L612.2 431.2M615.3 432.5L613.8 433.0M612.2 431.6L613.8 433.0M616.9 433.2L616.6 435.2M613.5 434.2L613.8 433.0M613.5 434.2L613.9 434.8M616.6 435.2L613.9 434.8M615.7 439.8L616.1 439.6M616.1 439.6L614.5 437.5M613.1 437.8L613.2 437.7M614.5 437.5L613.2 437.7M612.2 438.6L610.1 437.4M612.2 438.6L609.4 440.3M610.1 437.4L609.2 438.6M609.2 438.6L609.0 439.4M609.4 440.3L609.0 439.4M609.4 441.0L609.4 440.3M612.7 438.5L612.2 438.6M608.4 435.1L610.3 436.3M610.3 436.3L610.1 437.4M607.4 435.3L609.2 438.6M607.6 438.8L609.0 439.4M607.6 438.8L605.9 435.3M610.6 430.5L609.5 433.6M610.6 430.5L610.4 430.3M608.2 431.8L608.8 430.7M608.8 430.7L610.4 430.3M612.9 425.5L612.2 425.9M610.6 430.5L612.1 431.2M612.2 425.9L610.4 428.7M610.4 430.3L610.4 428.7M607.1 432.2L606.2 430.3M606.2 430.3L606.5 429.6M608.8 430.7L606.9 429.5M606.5 429.6L606.9 429.5M610.4 428.7L609.6 428.5M609.6 428.5L607.1 429.2M607.1 429.2L606.9 429.5M627.3 345.7L607.6 388.3M607.6 388.3L606.2 396.7M606.2 396.7L608.3 424.8M612.2 425.9L610.6 425.8M608.3 424.8L610.6 425.8M563.4 413.7L565.8 416.4M562.4 417.8L562.5 418.1M562.5 418.1L563.1 418.4M563.1 418.4L565.9 416.8M565.8 416.4L565.9 416.8M566.7 419.9L566.0 416.9M563.1 418.4L564.5 420.8M566.0 416.9L565.9 416.8M586.0 416.5L585.5 417.2M588.2 421.6L585.4 421.4M585.5 417.2L585.4 421.4M569.7 422.3L572.8 423.6M571.6 421.5L573.0 423.3M573.0 423.3L572.8 423.6M569.3 425.0L572.2 425.8M572.8 423.6L572.2 425.8M588.2 410.3L579.6 416.1M588.2 410.3L580.9 411.8M580.9 411.8L577.9 413.1M577.9 413.1L577.0 415.6M579.6 416.1L577.0 415.6M589.0 410.0L588.2 410.3M589.0 410.0L587.6 413.6M585.5 417.2L581.5 419.2M579.6 416.1L581.5 419.2M602.2 465.3L602.2 465.3M605.4 460.0L604.1 461.0M604.1 461.0L602.2 465.3M595.2 461.6L596.9 462.2M591.4 465.1L591.6 465.9M595.7 468.4L591.6 465.9M595.7 468.4L598.3 465.1M598.3 465.1L596.9 462.2M596.6 470.5L595.7 468.4M602.2 465.3L601.6 465.0M601.6 465.0L599.5 464.8M598.3 465.1L599.5 464.8M578.6 447.7L580.2 450.5M578.6 447.7L581.0 446.7M580.2 450.5L583.5 449.8M581.0 446.7L583.5 449.8M594.3 439.3L594.1 439.9M594.4 435.7L593.5 435.0M593.5 435.0L592.2 436.0M592.2 436.0L591.4 437.7M591.4 437.7L594.1 439.9M595.0 447.0L592.4 443.1M597.7 441.1L598.4 442.9M597.7 441.1L594.3 440.6M594.3 440.6L592.4 443.1M590.0 437.1L587.1 436.3M590.0 437.1L590.2 433.6M590.2 433.6L588.8 432.9M588.8 432.9L585.9 435.3M585.9 435.3L587.1 436.3M589.0 410.0L606.7 389.4M606.7 389.4L597.0 410.6M589.4 421.5L591.4 419.4M597.0 410.6L591.4 419.4M594.8 429.6L595.5 428.5M594.8 429.6L597.9 430.6M595.5 428.5L598.8 429.1M597.9 430.6L598.1 430.4M598.1 430.4L598.9 429.2M598.9 429.2L598.8 429.1M599.2 432.5L600.5 430.1M599.2 432.5L598.1 430.4M600.5 430.1L598.9 429.2M595.2 426.1L593.3 425.6M595.2 426.1L596.9 425.3M596.3 422.4L592.3 423.4M596.3 422.4L596.9 425.3M593.3 425.6L591.2 424.7M592.3 423.4L591.3 424.6M591.2 424.7L591.3 424.6M593.7 430.6L593.3 425.6M593.7 430.6L594.8 429.6M595.5 428.5L595.2 426.1M598.6 425.8L599.3 426.7M598.6 425.8L596.9 425.3M599.3 426.7L598.8 429.1M606.7 389.4L607.6 388.3M605.6 399.8L596.3 422.4M605.6 399.8L606.2 396.7M597.0 410.6L592.3 423.4M603.8 415.0L598.6 425.8M603.8 415.0L605.6 399.8M591.4 419.4L591.3 424.6M590.4 424.8L590.5 424.9M590.4 424.8L589.3 422.1M590.5 424.9L591.2 424.7M584.2 435.1L584.5 433.2M584.2 435.1L582.6 436.1M582.6 436.1L581.5 435.3M584.5 433.2L582.1 430.6M582.1 430.6L581.1 434.1M581.1 434.1L581.5 435.3M568.3 425.0L568.1 428.0M568.1 428.0L571.7 427.2M572.2 425.8L572.3 426.1M572.3 426.1L572.2 426.8M571.7 427.2L572.2 426.8M599.7 484.3L596.5 487.1M596.8 488.8L596.5 488.2M596.5 487.1L596.5 488.2M503.8 529.9L506.8 528.4M508.1 535.9L508.1 535.9M508.1 535.9L511.0 530.3M506.8 528.4L511.0 530.3M493.8 477.8L502.2 481.6M496.8 472.8L500.5 473.0M500.5 473.0L502.4 481.5M502.2 481.6L502.4 481.5M565.2 443.3L568.0 442.9M565.2 443.3L564.7 440.5M568.0 442.9L569.1 439.4M564.7 440.5L567.4 438.1M567.4 438.1L568.8 438.3M568.8 438.3L569.1 439.4M571.1 445.2L568.0 442.9M571.1 445.2L573.1 444.0M573.1 444.0L573.3 443.8M573.3 443.8L569.1 439.4M580.5 457.0L577.4 456.7M580.9 460.1L578.4 460.6M578.4 460.6L576.3 458.7M576.3 458.7L576.8 457.3M577.4 456.7L576.8 457.3M568.8 448.5L571.1 445.2M568.8 448.5L573.5 451.6M574.8 450.7L573.1 444.0M574.8 450.7L574.7 451.2M574.7 451.2L573.5 451.6M605.5 435.2L604.6 435.3M607.6 438.8L607.0 439.0M606.0 438.9L604.6 437.7M604.6 437.7L604.6 435.3M605.2 446.3L603.8 444.7M601.0 444.9L602.5 444.3M603.8 444.7L602.5 444.3M608.0 442.5L606.2 441.9M603.8 444.7L606.2 441.9M606.0 441.1L605.9 441.5M606.2 441.9L605.9 441.5M554.6 414.3L554.6 414.5M554.6 414.3L556.2 413.1M556.2 413.1L557.0 413.1M556.2 417.0L555.2 416.5M554.6 414.5L555.2 416.5M549.3 414.5L551.1 414.1M549.3 414.5L550.2 412.9M550.2 412.9L553.0 412.6M551.1 414.1L553.2 413.0M553.2 413.0L553.0 412.6M550.2 416.8L550.9 416.8M548.6 415.0L549.3 414.5M552.5 415.4L550.9 416.8M552.5 415.4L551.1 414.1M554.6 414.3L553.2 413.0M552.5 415.4L554.6 414.5M467.5 531.5L465.9 527.8M467.5 531.5L469.8 523.3M465.9 527.8L468.4 523.6M469.8 523.3L468.4 523.6M463.8 525.9L465.9 527.8M467.6 532.2L467.5 531.5M475.1 520.9L469.8 523.3M465.3 522.8L468.4 523.6M535.8 391.0L535.1 396.7M537.6 396.6L535.6 397.0M537.6 396.6L538.2 392.1M535.1 396.7L535.6 397.0M533.1 397.0L533.3 397.0M535.1 396.7L533.3 397.0M527.1 404.9L531.7 406.7M530.5 411.2L533.2 409.3M531.7 406.7L533.2 409.3M553.3 390.2L551.0 389.9M549.4 388.0L549.6 389.0M551.0 389.9L549.6 389.0M548.5 395.5L546.7 395.8M546.5 391.9L547.7 392.2M543.9 393.8L544.5 394.7M547.8 392.4L547.7 392.2M544.5 394.7L546.7 395.8M460.0 376.9L465.6 380.6M460.0 376.9L460.0 385.4M460.0 385.4L465.6 380.6M458.4 374.9L460.0 376.9M458.4 374.9L453.5 377.7M458.5 386.1L459.8 385.7M460.0 385.4L459.8 385.7M465.7 391.8L466.0 390.4M466.0 390.4L465.4 388.7M459.8 385.7L465.4 388.7M490.1 378.4L486.5 378.6M488.5 386.7L487.2 385.7M487.2 385.7L486.5 378.6M481.6 385.6L482.9 384.4M487.2 385.7L482.9 384.4M470.9 370.7L468.6 374.7M470.9 370.7L459.7 363.5M468.6 374.7L459.6 371.7M459.7 363.5L459.6 371.7M457.9 356.6L459.7 363.5M480.1 368.1L470.9 370.7M458.4 374.9L459.6 371.7M504.6 439.9L503.4 436.2M504.6 439.9L512.1 434.5M503.4 436.2L508.9 429.0M512.1 434.5L512.4 431.6M512.4 431.6L511.7 430.8M511.7 430.8L508.9 429.0M499.5 433.8L503.4 436.2M503.7 442.0L504.6 439.9M513.5 438.2L512.1 434.5M508.1 428.3L508.9 429.0M519.5 433.9L518.2 432.2M516.7 431.2L512.4 431.6M515.8 423.5L511.7 430.8M544.4 428.0L538.9 433.7M544.3 429.3L540.2 434.5M540.2 434.5L538.9 433.7M540.1 428.3L538.7 433.6M538.9 433.7L538.7 433.6M537.5 433.2L538.1 433.6M538.1 433.6L538.7 433.6M544.6 433.4L543.4 435.2M540.2 434.5L540.8 435.1M543.4 435.2L540.8 435.1M557.0 434.0L560.0 433.2M557.9 430.3L560.2 431.9M560.2 431.9L560.2 432.5M560.0 433.2L560.2 432.5M570.1 429.8L571.9 432.4M570.1 429.8L569.1 430.3M570.7 434.0L571.9 432.4M570.7 434.0L567.9 432.4M567.9 432.4L569.1 430.3M568.1 428.0L567.5 428.3M570.1 429.8L571.7 427.2M569.1 430.3L567.5 428.3M547.5 414.7L548.1 411.1M548.1 411.1L548.4 410.7M550.2 412.9L550.6 411.7M548.4 410.7L550.6 411.7M553.0 412.6L552.4 410.7M550.6 411.7L552.4 410.7M548.4 409.7L548.6 410.2M548.4 409.7L548.5 407.3M550.9 408.4L549.0 410.0M550.9 408.4L548.8 406.9M549.0 410.0L548.6 410.2M548.8 406.9L548.5 407.3M548.4 410.7L548.6 410.2M552.4 410.7L552.5 410.3M552.5 410.3L549.0 410.0M550.5 402.3L549.6 401.3M551.1 400.3L549.6 401.2M549.6 401.2L549.6 401.3M549.6 396.2L548.8 397.9M549.6 401.2L548.8 397.9M548.4 405.4L548.3 405.3M549.6 401.3L548.2 401.9M548.3 405.3L548.2 401.9M548.1 411.1L545.9 410.4M548.4 409.7L546.5 408.9M546.5 408.9L545.9 410.4M548.5 407.3L546.4 408.2M546.5 408.9L546.4 408.2M545.4 410.9L545.7 410.4M545.7 410.4L545.9 410.4M553.9 405.8L554.2 405.9M553.9 405.8L552.5 406.8M554.2 405.9L555.4 409.1M552.5 406.8L552.4 408.7M552.4 408.7L552.9 409.5M552.9 409.5L555.2 409.3M555.2 409.3L555.4 409.1M551.4 405.6L552.5 406.8M553.8 403.4L553.9 405.8M548.7 405.9L548.8 406.9M550.9 408.4L552.4 408.7M552.5 410.3L552.9 409.5M556.2 413.1L555.2 409.3M558.3 408.8L556.0 408.9M556.0 408.9L555.4 409.1M556.2 405.0L555.6 405.9M556.2 405.0L556.9 406.4M555.6 405.9L556.0 407.2M556.9 406.4L556.0 407.2M556.6 404.2L556.2 405.0M554.2 405.9L555.6 405.9M558.1 406.4L556.9 406.4M556.0 408.9L556.0 407.2M562.1 418.6L561.7 420.9M562.1 418.6L560.9 418.8M560.9 418.8L561.7 420.9M562.5 418.1L562.1 418.6M561.7 421.4L561.7 420.9M559.9 418.0L560.9 418.8M558.5 419.8L559.5 422.0M452.2 617.4L452.6 616.2M452.2 617.4L453.1 620.0M455.4 617.7L455.8 616.2M455.4 617.7L454.7 620.6M452.6 616.2L454.0 615.1M454.7 620.6L453.1 620.0M455.8 616.2L454.0 615.1M446.9 615.0L452.6 616.2M449.2 618.0L449.9 618.4M449.9 618.4L452.2 617.4M454.9 620.9L454.7 620.6M457.9 619.6L455.4 617.7M457.9 619.6L458.3 620.7M449.7 620.6L450.1 619.0M449.7 620.6L451.5 621.0M450.1 619.0L452.5 620.2M452.5 620.2L451.5 621.0M451.5 621.0L451.5 621.0M449.4 620.8L449.7 620.6M449.9 618.4L450.1 619.0M450.4 623.3L451.5 621.0M453.1 620.0L452.5 620.2M452.4 622.7L451.5 621.0M457.9 612.7L457.0 613.1M457.9 612.7L457.0 616.1M457.0 613.1L456.7 616.1M456.7 616.1L456.8 616.2M456.8 616.2L457.0 616.1M457.9 619.6L456.8 616.2M455.8 616.2L456.7 616.1M459.5 616.5L458.5 616.0M458.5 616.0L457.0 616.1M448.8 602.7L449.7 606.0M448.9 608.1L449.0 608.0M449.7 606.0L449.0 608.0M446.4 613.6L448.4 613.1M454.0 615.1L453.6 613.0M448.4 613.1L453.6 613.0M457.0 613.1L453.9 612.2M453.6 613.0L453.9 612.2M463.6 608.0L461.1 610.8M458.6 607.6L458.2 608.5M458.2 608.5L461.1 610.8M462.6 613.3L461.6 612.7M458.5 616.0L459.6 613.1M459.6 613.1L461.6 612.7M461.1 610.8L461.6 612.7M467.8 627.8L468.9 627.8M466.0 624.3L468.2 625.2M468.9 627.8L468.2 625.2M472.1 634.3L471.9 633.9M469.8 636.8L470.9 633.6M471.9 633.9L470.9 633.6M473.2 627.1L471.3 628.0M473.2 627.1L474.3 628.3M471.3 628.0L473.8 628.8M474.3 628.3L473.8 628.8M483.4 618.7L484.2 621.2M483.4 618.7L482.3 616.7M482.8 621.8L481.3 621.3M479.0 619.6L480.3 617.4M480.3 617.4L482.3 616.7M487.1 614.0L482.3 615.9M487.1 614.0L483.4 618.7M482.3 615.9L482.3 616.7M475.3 611.7L478.9 613.8M473.7 613.3L475.4 615.3M478.9 613.8L477.6 616.0M475.4 615.3L477.6 616.0M477.3 619.1L477.1 618.1M480.3 617.4L477.6 616.3M477.1 618.1L477.6 616.3M478.9 613.8L480.7 613.1M480.7 613.1L482.3 615.9M477.6 616.3L477.6 616.0M471.3 616.8L471.5 615.9M471.3 616.8L473.6 617.9M471.5 615.9L473.7 616.5M473.6 617.9L474.0 617.6M474.0 617.6L474.0 617.3M473.7 616.5L474.0 617.3M471.2 616.8L471.3 616.8M472.1 613.9L471.5 615.9M472.2 621.3L472.1 621.3M472.2 621.3L472.9 621.4M472.9 621.4L473.6 617.9M472.9 613.5L473.7 616.5M472.9 621.4L474.8 622.7M477.1 618.1L474.0 617.6M475.4 615.3L474.0 617.3M515.2 705.0L513.6 703.9M515.2 705.0L515.8 704.1M513.6 703.9L514.2 703.4M515.8 704.1L515.5 703.7M515.5 703.7L514.2 703.4M514.7 706.6L515.2 705.0M513.1 703.7L513.6 703.9M517.1 703.4L515.8 704.1M513.1 702.9L514.2 703.4M514.7 702.5L515.5 703.7M517.6 700.2L515.7 696.2M514.4 698.2L514.3 697.3M514.3 697.3L515.7 696.2M493.8 693.9L499.8 693.0M499.8 693.0L501.8 695.7M501.8 695.7L501.8 695.9M496.1 701.5L501.4 697.9M501.8 695.9L501.4 697.9M568.1 546.6L566.8 543.8M569.5 544.1L567.6 543.6M567.6 543.6L566.8 543.8M571.1 542.8L568.9 541.7M567.6 543.6L568.9 541.7M564.2 546.8L565.9 543.6M566.8 543.8L565.9 543.6M598.2 514.2L596.4 514.4M597.0 509.7L595.6 510.2M595.6 510.2L594.9 511.4M596.4 514.4L594.9 511.4M610.3 519.7L610.6 519.8M610.3 519.7L609.0 519.3M610.6 519.8L610.8 517.7M609.0 519.3L610.4 517.0M610.4 517.0L610.8 517.7M609.6 521.0L610.3 519.7M612.3 521.3L610.6 519.8M608.0 520.0L609.0 519.3M613.1 520.1L610.8 517.7M617.4 508.9L615.8 509.6M614.3 506.8L613.9 507.7M615.8 509.6L613.9 507.7M611.4 506.4L612.5 507.9M613.9 507.7L612.5 507.9M608.4 507.7L610.8 510.3M610.8 510.3L611.2 510.0M612.5 507.9L611.2 510.0M607.0 518.5L608.7 515.0M610.4 517.0L610.4 516.1M610.4 516.1L608.7 515.0M607.7 514.4L608.3 514.5M608.7 515.0L608.3 514.5M606.6 510.4L609.1 512.8M608.3 514.5L609.1 512.8M606.6 509.1L610.0 511.7M609.1 512.8L610.0 511.7M610.8 510.3L610.3 511.5M610.0 511.7L610.3 511.5M620.6 511.2L617.9 512.4M617.1 515.3L617.2 514.0M617.9 512.4L617.2 514.0M615.8 509.6L615.7 510.1M617.9 512.4L615.7 510.1M553.2 588.5L555.7 590.2M553.2 588.5L551.5 590.9M551.5 590.9L555.6 591.4M555.7 590.2L555.6 591.4M557.3 588.0L555.7 590.2M553.8 586.4L553.2 588.5M557.7 594.1L555.5 592.8M557.7 594.1L557.1 591.5M555.5 592.8L555.7 591.5M555.7 591.5L556.9 591.5M556.9 591.5L557.1 591.5M557.7 594.2L557.7 594.1M554.5 593.8L555.5 592.8M558.1 591.4L557.1 591.5M551.1 591.2L551.1 591.1M551.1 591.1L551.5 590.9M555.6 591.4L555.7 591.5M557.7 588.7L556.9 591.5M540.2 602.6L540.6 601.7M544.8 602.8L544.7 602.7M544.7 602.7L540.6 601.7M539.9 600.1L540.6 600.8M540.6 600.8L540.6 601.7M549.4 582.5L549.8 583.5M549.4 582.5L547.1 584.6M549.8 583.5L548.8 584.2M547.1 584.6L548.8 584.2M550.6 583.9L549.8 583.5M548.8 580.4L549.4 582.5M546.1 585.0L545.0 584.0M546.1 585.0L547.1 584.6M550.9 584.2L549.5 585.1M549.5 585.1L548.8 584.2M548.9 565.7L550.9 565.4M548.9 565.7L547.9 565.0M547.9 565.0L546.2 562.2M551.0 562.3L551.2 562.4M550.9 565.4L551.2 562.4M552.5 559.3L552.5 560.7M551.2 562.4L552.5 560.7M557.3 574.9L557.8 572.3M554.5 573.7L557.0 572.0M557.8 572.3L557.0 572.0M552.8 569.4L552.8 569.3M552.8 569.3L556.5 569.4M557.0 572.0L556.5 569.4M563.2 561.4L560.2 562.6M560.5 556.8L558.9 557.7M560.2 562.6L559.2 561.3M559.2 561.3L558.9 557.7M555.6 557.0L557.2 557.6M557.2 557.6L558.9 557.7M552.5 560.7L553.6 561.3M553.6 561.3L556.1 561.0M557.2 557.6L556.1 561.0M563.8 562.6L561.0 565.0M560.2 562.6L560.1 562.9M560.1 562.9L561.0 565.0M561.6 565.5L561.0 565.3M561.0 565.3L561.0 565.0M542.2 568.6L547.7 567.8M542.2 568.6L541.9 566.2M541.9 566.2L542.8 566.2M542.8 566.2L547.8 567.4M547.8 567.4L547.7 567.8M542.1 571.0L542.2 568.6M547.8 569.5L547.7 567.8M540.4 563.4L541.9 566.2M547.9 565.0L542.8 566.2M548.9 565.7L547.8 567.4M552.8 569.3L552.3 566.4M550.9 565.4L552.3 566.4M564.4 577.4L567.2 577.0M564.4 577.4L566.8 576.3M567.2 577.0L567.3 576.9M566.8 576.3L567.3 576.9M563.3 577.6L562.6 579.0M563.3 577.6L564.4 577.4M566.4 579.0L567.2 577.0M568.6 580.5L568.7 580.3M568.7 576.8L568.7 580.3M568.7 576.8L567.3 576.9M561.6 575.1L559.7 578.2M561.6 575.1L563.0 574.4M563.3 577.6L563.7 576.1M563.0 574.4L563.7 576.1M544.5 591.4L543.8 589.5M540.7 589.4L541.6 588.2M543.8 589.5L541.6 588.2M537.3 586.5L541.6 587.3M541.6 588.2L541.6 587.3M542.1 586.1L542.1 586.3M541.6 587.3L542.1 586.3M546.1 585.0L546.2 585.1M549.5 585.1L549.4 585.4M546.2 585.1L549.4 585.4M552.7 585.5L550.0 586.9M551.1 591.1L548.9 588.0M548.9 588.0L550.0 586.9M549.4 585.4L550.0 586.9M546.7 589.9L548.5 587.9M546.7 589.9L545.3 588.6M545.3 588.3L545.3 588.6M545.3 588.3L546.6 586.2M546.6 586.2L548.5 587.9M546.6 590.2L546.7 589.9M548.9 588.0L548.5 587.9M543.8 589.5L545.3 588.6M542.1 586.3L545.3 588.3M546.2 585.1L546.6 586.2M527.3 576.1L527.8 575.8M527.3 576.1L529.5 580.4M527.8 575.8L531.1 578.5M529.5 580.4L531.4 579.4M531.4 579.4L531.1 578.5M525.7 576.5L527.3 576.1M528.6 574.8L527.8 575.8M529.2 580.7L529.5 580.4M531.5 575.5L531.1 578.5M534.2 580.0L531.4 579.4M527.0 563.2L526.9 563.6M527.0 563.2L524.4 562.2M526.9 563.6L523.4 566.2M524.4 562.2L523.6 564.3M523.6 564.3L523.4 566.2M523.4 566.2L523.4 566.2M527.0 563.2L527.0 563.2M527.7 565.7L526.9 563.6M524.0 561.9L524.4 562.2M523.5 566.3L523.4 566.2M520.2 562.3L523.6 564.3M517.9 564.4L523.4 566.2M565.5 566.3L567.1 567.0M564.2 569.8L564.0 569.4M564.2 569.8L567.5 569.2M567.5 569.2L567.1 567.0M568.5 565.2L567.6 566.7M567.1 567.0L567.6 566.7M570.9 571.2L570.3 570.8M570.9 571.2L576.6 571.1M570.3 570.8L571.3 568.4M571.3 568.4L574.5 568.6M574.5 568.6L576.6 571.0M576.6 571.1L576.6 571.0M574.4 567.4L574.5 568.6M570.8 565.6L570.9 568.0M570.9 568.0L571.3 568.4M577.3 566.6L576.6 571.0M615.8 595.8L582.8 577.9M582.8 577.9L576.6 571.1M537.2 615.2L538.2 616.0M537.2 615.2L535.7 616.6M536.2 618.4L538.0 618.4M538.2 616.0L538.0 618.4M540.5 615.0L541.5 613.0M540.5 615.0L538.8 613.3M538.8 613.3L541.5 613.0M537.1 614.5L537.2 615.2M537.1 614.5L538.0 613.2M538.0 613.2L538.8 613.3M538.2 616.0L540.4 616.6M540.4 616.6L540.5 615.0M538.1 611.0L538.0 613.2M542.7 612.4L541.5 613.0M500.0 685.5L500.4 685.3M502.5 688.5L504.0 687.6M504.0 687.6L504.0 686.6M504.0 686.6L500.4 685.3M496.8 682.9L498.5 682.1M498.5 682.1L500.7 682.8M500.7 682.8L501.1 683.3M500.4 685.3L501.1 683.3M500.1 691.9L501.5 691.7M500.1 691.9L499.9 691.5M499.9 691.5L502.2 689.9M501.5 691.7L502.2 689.9M499.8 693.0L500.1 691.9M501.8 695.7L503.0 692.9M503.0 692.9L501.5 691.7M499.3 690.5L499.9 691.5M502.2 689.8L502.2 688.9M502.2 689.8L502.2 689.9M486.4 650.5L485.7 649.4M486.4 650.5L485.4 654.7M477.1 661.2L481.7 657.8M485.4 654.7L481.7 657.8M488.5 648.3L489.2 649.8M486.4 650.5L489.3 650.1M489.2 649.8L489.3 650.1M479.2 633.5L478.1 632.6M479.2 633.5L480.2 632.9M478.1 632.6L480.1 630.8M480.2 632.9L481.1 632.0M481.1 632.0L480.1 630.8M479.2 633.6L479.2 633.5M481.9 633.6L480.2 632.9M481.9 631.8L481.1 632.0M481.0 627.3L480.0 628.5M480.0 628.5L480.1 630.8M480.0 628.5L477.9 630.1M478.1 632.6L477.2 632.0M477.9 630.1L477.2 632.0M475.4 635.0L476.9 632.1M477.2 632.0L476.9 632.1M475.0 623.2L475.0 623.3M475.0 623.3L475.4 624.0M480.6 626.1L480.1 626.0M480.1 626.0L475.4 624.0M530.7 637.9L531.4 638.3M530.0 641.2L533.4 641.3M531.4 638.3L532.9 640.2M532.9 640.2L533.4 641.3M537.3 639.5L535.3 638.7M537.3 639.5L537.2 636.9M535.0 637.3L534.8 637.8M535.0 637.3L536.8 636.6M534.8 637.8L535.2 638.5M535.3 638.7L535.2 638.5M536.8 636.6L537.2 636.9M538.8 638.4L537.9 640.0M538.9 636.8L537.2 636.9M537.9 640.0L537.3 639.5M534.1 635.2L535.0 637.3M531.4 638.3L534.8 637.8M536.8 634.7L536.8 636.6M532.9 640.2L535.2 638.5M536.8 642.3L537.8 644.6M536.8 642.3L538.1 641.1M538.1 641.1L540.1 641.4M538.6 644.8L540.2 641.5M538.6 644.8L537.8 644.6M540.1 641.4L540.2 641.5M540.2 641.3L540.1 641.4M537.9 640.0L538.1 641.1M539.7 645.2L538.6 644.8M540.7 642.0L540.2 641.5M536.8 646.8L537.8 644.6M536.8 646.8L534.5 643.4M536.8 642.3L534.7 642.7M534.5 643.4L534.7 642.7M534.3 644.8L534.1 644.0M534.5 643.4L534.1 644.0M534.4 647.1L531.8 645.8M534.1 644.0L531.8 645.8M535.3 638.7L534.1 642.1M534.7 642.7L534.1 642.1M530.2 642.8L530.3 643.1M533.4 641.3L534.0 642.1M530.3 643.1L534.0 642.1M534.1 642.1L534.0 642.1M478.0 605.8L481.1 604.2M478.0 605.8L475.6 607.5M481.1 604.2L480.0 609.9M480.0 609.9L475.7 609.8M475.7 609.8L475.6 607.5M473.9 603.8L478.0 605.8M480.8 601.7L481.0 601.8M481.0 601.8L481.4 604.0M481.4 604.0L481.1 604.2M475.4 607.4L475.6 607.5M475.5 610.3L475.7 609.8M480.7 613.1L480.8 612.8M480.8 612.8L480.7 611.7M480.7 611.7L480.0 609.9M484.0 599.3L481.1 593.6M484.0 599.3L485.9 598.3M485.9 598.3L484.2 593.9M481.1 593.6L484.2 593.9M480.0 593.0L481.1 593.6M481.0 601.8L484.0 599.3M486.3 590.3L484.2 593.9M523.0 611.9L521.3 613.3M523.0 611.9L520.1 609.6M521.3 613.3L520.3 612.3M520.3 612.3L519.7 610.5M519.7 610.5L520.1 609.6M520.3 607.8L520.1 609.6M520.4 607.7L523.1 608.7M523.6 611.8L523.0 611.9M519.4 617.8L521.2 614.4M516.1 614.6L520.3 612.3M521.2 614.4L521.3 613.3M516.2 612.2L519.7 610.5M537.0 614.4L534.1 614.9M537.0 614.4L535.9 613.6M535.9 613.6L533.7 614.6M534.1 614.9L533.7 614.6M537.1 614.5L537.0 614.4M534.8 616.7L534.1 614.9M534.7 612.5L534.8 612.6M534.8 612.6L535.9 613.6M534.8 612.6L532.8 614.2M532.8 614.2L533.7 614.6M521.2 614.4L525.7 614.3M524.4 612.1L525.6 613.1M525.6 613.1L525.7 614.3M527.8 609.8L527.8 610.3M527.8 610.3L526.6 612.2M525.6 613.1L526.6 612.2M524.0 619.0L525.8 614.5M525.7 614.3L525.8 614.5M527.8 603.7L528.2 604.3M527.8 603.7L526.7 603.0M528.2 604.3L527.7 605.1M527.7 605.1L525.5 606.0M526.7 603.0L524.8 605.1M524.8 605.1L525.5 606.0M528.5 602.7L527.8 603.7M528.5 604.3L528.2 604.3M526.4 601.4L526.7 603.0M528.4 606.2L527.7 605.1M525.5 606.2L525.5 606.0M522.9 604.3L524.8 605.1M523.3 588.0L521.2 586.0M523.3 588.0L524.2 591.0M521.2 586.0L522.6 590.6M522.6 590.6L523.7 591.3M523.7 591.3L524.2 591.0M520.7 585.3L521.2 586.0M527.1 588.1L523.3 588.0M526.9 590.4L524.2 591.0M519.0 590.2L522.6 590.6M523.2 592.6L523.7 591.3M525.3 664.3L527.5 661.0M525.3 664.3L523.5 661.8M523.5 661.8L527.5 661.0M527.4 666.4L525.8 665.7M525.8 665.7L525.3 664.3M527.8 660.8L527.5 661.0M535.0 654.1L534.0 653.6M534.3 656.4L532.4 655.8M532.4 655.8L532.4 655.5M534.0 653.6L532.4 655.5M534.6 658.9L531.8 658.2M533.0 663.2L530.9 658.6M531.8 658.2L530.9 658.6M532.4 655.8L532.2 656.0M531.8 658.2L532.2 656.0M528.4 659.0L528.4 658.7M530.9 658.6L528.4 658.7M527.4 666.5L527.2 667.8M528.2 671.1L527.6 669.7M527.2 667.8L527.6 669.7M590.4 540.1L591.1 542.5M590.4 540.1L590.8 540.0M590.8 540.0L592.2 540.2M591.1 542.5L592.3 540.5M592.3 540.5L592.2 540.2M590.8 543.4L591.1 542.5M589.4 539.9L590.4 540.1M591.2 538.4L590.8 540.0M593.0 538.9L592.2 540.2M593.1 541.3L592.3 540.5M621.8 483.4L624.4 482.8M621.8 483.4L621.5 482.8M621.5 482.8L624.4 480.4M624.4 482.8L624.8 480.9M624.4 480.4L624.8 480.9M624.6 484.1L624.9 484.3M624.6 484.1L624.4 482.8M625.2 481.0L624.8 480.9M619.7 480.7L620.7 482.1M619.7 480.7L622.4 477.9M620.7 482.1L623.8 478.8M622.4 477.9L623.7 478.4M623.7 478.4L623.8 478.8M621.6 477.0L622.4 477.9M616.2 480.3L619.7 480.7M620.8 482.3L620.7 482.1M620.8 482.3L621.5 482.8M624.4 480.4L623.8 478.8M626.5 476.4L623.7 478.4M610.6 433.7L611.4 436.1M610.6 433.7L611.4 433.5M611.4 433.5L612.2 434.2M612.2 434.2L611.7 436.1M611.7 436.1L611.4 436.1M609.5 433.7L610.6 433.7M610.3 436.3L611.4 436.1M612.2 431.6L611.4 433.5M613.5 434.2L612.2 434.2M613.9 434.8L612.8 436.9M612.8 436.9L611.7 436.1M612.8 436.9L613.2 437.7M616.7 435.6L616.2 436.4M616.7 435.6L619.3 437.0M616.2 436.4L616.8 439.6M619.3 437.0L616.9 439.7M616.9 439.7L616.8 439.6M616.6 435.2L616.7 435.6M614.5 437.5L616.2 436.4M620.1 437.0L619.3 437.0M616.1 439.6L616.8 439.6M617.0 439.8L616.9 439.7M605.0 428.1L605.7 425.8M605.0 428.1L603.2 428.8M603.0 428.7L603.2 428.8M603.0 428.7L601.8 426.5M601.8 426.5L604.1 423.8M604.1 423.8L605.7 425.8M599.3 426.7L601.8 426.5M600.5 430.1L600.6 430.2M600.6 430.2L603.0 428.7M603.8 415.0L604.1 423.8M605.8 425.9L607.6 427.2M605.8 425.9L608.0 425.0M608.0 425.0L608.4 426.7M608.4 426.7L607.8 427.2M607.8 427.2L607.6 427.2M606.5 429.6L605.0 428.1M607.1 429.2L607.6 427.2M605.7 425.8L605.8 425.9M608.3 424.8L608.0 425.0M610.6 425.8L608.4 426.7M609.6 428.5L607.8 427.2M606.2 430.3L604.4 431.1M604.6 435.3L604.2 435.1M604.2 435.1L604.4 431.1M603.2 428.8L603.7 430.5M604.4 431.1L603.7 430.5M567.2 415.4L569.0 415.3M567.2 415.4L565.8 416.4M566.0 416.9L570.0 416.3M569.0 415.3L570.0 416.3M569.7 418.9L570.6 416.6M570.6 416.6L570.0 416.3M578.7 403.8L576.9 405.7M578.7 403.8L578.7 410.6M576.9 405.7L575.6 409.9M578.7 410.6L577.1 411.6M577.1 411.6L575.6 409.9M570.5 406.1L571.4 407.0M627.3 345.7L578.7 403.8M571.4 407.0L576.9 405.7M580.9 411.8L578.7 410.6M577.9 413.1L577.1 411.6M574.4 414.9L573.4 411.4M574.4 414.9L576.8 415.7M573.4 411.4L575.6 409.9M576.8 415.7L577.0 415.6M571.4 407.0L571.0 408.5M573.4 411.4L572.9 411.3M572.9 411.3L571.0 408.5M566.8 409.8L569.8 409.2M569.8 409.2L571.0 408.5M590.4 424.8L587.4 424.7M585.4 421.4L585.4 421.5M585.4 421.5L587.4 424.7M581.5 419.2L580.8 420.5M585.4 421.5L584.3 422.1M580.8 420.5L584.3 422.1M587.4 424.7L584.8 425.9M584.8 425.9L583.7 424.3M584.3 422.1L583.7 424.3M590.2 426.7L590.5 424.9M590.2 426.7L589.1 427.9M589.1 427.9L585.7 427.8M585.7 427.8L585.0 427.2M584.8 425.9L584.7 426.4M585.0 427.2L584.7 426.4M585.7 427.8L586.7 430.7M586.7 430.7L585.6 431.1M585.6 431.1L584.1 429.9M585.0 427.2L584.1 429.9M572.2 416.1L571.6 416.1M572.2 416.1L573.0 418.6M571.1 419.7L572.8 419.1M571.6 416.1L570.6 416.6M572.8 419.1L573.0 418.6M601.6 465.0L601.4 461.4M599.5 464.8L599.9 461.7M599.9 461.7L601.4 461.4M604.1 461.0L601.4 461.4M601.4 461.4L601.4 461.4M602.1 455.7L600.0 456.8M601.4 461.4L600.0 456.8M592.0 434.0L593.2 433.9M592.0 434.0L590.3 433.5M590.3 433.5L591.7 431.7M593.2 433.9L594.6 432.2M591.7 431.7L593.5 430.6M594.6 432.2L593.6 430.7M593.6 430.7L593.5 430.6M593.5 435.0L593.2 433.9M592.2 436.0L592.0 434.0M591.4 437.7L590.2 437.3M590.2 437.3L590.0 437.1M590.2 433.6L590.3 433.5M594.7 432.2L594.6 432.2M596.2 432.6L597.9 430.6M593.7 430.6L593.6 430.7M591.4 428.8L593.5 430.6M591.4 428.8L590.2 426.7M584.2 435.1L585.9 435.3M582.6 436.1L582.4 439.1M587.1 436.3L586.8 439.1M582.4 439.1L585.6 440.1M586.8 439.1L585.6 440.1M573.2 431.5L573.1 431.6M573.2 431.5L574.0 431.6M573.1 431.6L574.4 434.4M574.0 431.6L576.4 434.6M574.4 434.4L576.2 434.7M576.4 434.6L576.2 434.7M572.9 427.8L572.2 426.8M572.9 427.8L573.2 431.5M571.9 432.4L573.1 431.6M570.7 434.0L571.0 435.1M571.0 435.1L574.4 434.4M570.8 436.8L571.0 435.1M570.8 436.8L575.4 439.0M575.4 439.0L576.2 434.7M492.3 469.0L500.1 460.2M500.5 473.0L503.7 469.8M503.7 469.8L500.1 460.2M494.7 456.8L500.2 459.1M504.1 449.8L504.1 456.5M504.1 456.5L500.2 459.1M500.2 459.1L500.1 460.2M568.8 448.5L566.8 449.1M566.8 449.1L564.0 448.1M565.2 443.3L564.5 445.0M564.5 445.0L564.0 448.1M564.2 440.4L564.7 440.5M564.2 440.4L560.0 441.3M564.5 445.0L560.0 441.3M566.8 449.1L567.6 454.2M573.5 451.6L573.3 452.1M573.3 452.1L569.2 455.0M567.6 454.2L569.2 455.0M577.6 454.9L575.9 451.8M577.6 454.9L580.3 453.4M575.9 451.8L579.9 451.0M580.3 453.4L579.9 451.0M577.4 456.7L577.6 454.9M576.8 457.3L573.6 454.9M573.6 454.9L573.3 452.1M574.7 451.2L575.9 451.8M582.5 455.0L580.3 453.4M578.6 447.7L578.0 447.4M578.0 447.4L577.6 447.4M580.2 450.5L579.9 451.0M574.8 450.7L577.6 447.4M585.5 450.7L584.2 449.9M583.5 449.8L584.2 449.9M602.8 441.9L603.8 440.7M602.8 441.9L597.8 441.0M600.9 439.0L598.0 440.8M600.9 439.0L603.7 440.4M603.7 440.4L603.8 440.7M597.8 441.0L598.0 440.8M602.5 444.3L602.8 441.9M605.9 441.5L603.8 440.7M597.7 441.1L597.8 441.0M604.6 437.7L603.7 440.4M552.7 421.0L552.8 421.1M552.7 421.0L553.4 417.9M552.8 421.1L555.1 419.4M555.1 419.4L554.5 417.2M553.4 417.9L554.5 417.2M550.5 420.3L552.7 421.0M553.3 422.6L553.4 422.2M553.4 422.2L552.8 421.1M550.9 416.8L553.4 417.9M555.2 416.5L554.5 417.2M555.5 421.6L553.9 422.0M555.5 421.6L557.0 419.5M553.9 422.0L556.0 419.6M557.0 419.5L556.0 419.6M558.2 422.5L555.5 421.6M553.4 422.2L553.9 422.0M557.3 419.3L557.0 419.5M555.1 419.4L556.0 419.6M535.6 397.0L536.3 400.9M533.3 397.0L535.0 400.7M536.3 400.9L535.0 400.7M530.8 400.1L532.5 401.2M535.0 400.7L532.5 401.2M531.7 406.7L532.9 404.5M532.5 401.2L532.9 404.5M537.6 396.6L538.2 397.0M541.4 394.0L541.1 396.1M538.2 397.0L541.1 396.1M544.5 394.7L543.9 397.7M546.7 395.8L545.0 398.5M543.9 397.7L545.0 398.5M541.1 396.1L541.7 397.3M543.9 397.7L541.7 397.3M538.2 397.0L538.3 397.7M538.3 397.7L541.4 398.3M541.7 397.3L541.4 398.3M548.8 397.9L547.6 398.6M547.6 398.6L545.1 398.8M545.1 398.8L545.0 398.5M548.0 391.9L548.9 390.7M548.0 391.9L551.4 392.4M548.9 390.7L551.2 392.0M551.4 392.4L551.2 392.0M547.7 392.2L548.0 391.9M549.6 389.0L548.9 390.7M551.4 392.5L551.4 392.4M551.0 389.9L551.2 392.0M465.6 380.6L468.0 381.1M468.6 374.7L469.4 378.4M469.4 378.4L468.0 381.1M465.4 388.7L468.1 381.3M468.0 381.1L468.1 381.3M466.0 390.4L474.3 387.9M468.1 381.3L472.2 384.0M472.2 384.0L474.3 387.9M476.6 389.5L475.8 388.7M475.8 388.7L474.3 387.9M482.9 384.3L481.7 375.8M482.9 384.3L477.7 382.3M477.6 382.1L477.7 382.3M477.6 382.1L477.2 378.4M477.2 378.4L477.5 376.6M477.5 376.6L480.3 373.6M480.3 373.6L481.7 375.8M482.9 384.4L482.9 384.3M486.5 378.6L481.7 375.8M475.8 388.7L477.7 382.3M472.6 383.7L472.2 384.0M472.6 383.7L477.6 382.1M472.6 383.7L477.2 378.4M469.4 378.4L477.5 376.6M480.4 372.5L480.3 373.6M549.6 432.1L549.5 433.3M549.5 433.3L548.2 435.7M547.4 433.4L547.5 435.8M548.2 435.7L547.5 435.8M543.4 435.2L543.7 435.3M543.7 435.3L546.5 436.4M547.5 435.8L546.5 436.4M528.0 447.7L529.9 444.5M528.0 447.7L526.6 448.4M524.6 443.1L526.6 448.4M524.6 443.1L526.5 441.9M529.9 444.5L526.5 441.9M523.1 437.0L526.9 436.6M520.8 444.0L524.6 443.1M526.5 441.9L526.9 436.6M528.5 433.1L528.1 435.4M526.9 436.6L528.1 435.4M560.1 436.9L558.3 441.1M560.1 436.9L560.2 436.9M564.2 440.4L562.9 438.3M558.3 441.1L560.0 441.3M562.9 438.3L560.2 436.9M560.1 436.9L559.9 436.9M556.9 434.1L557.8 436.0M559.9 436.9L557.8 436.0M560.0 433.2L560.5 436.2M560.2 436.9L560.5 436.2M560.2 432.5L563.2 433.5M560.5 436.2L563.8 435.4M563.2 433.5L563.8 435.4M562.9 438.3L565.0 435.8M563.8 435.4L565.0 435.8M567.4 438.1L565.7 435.8M565.7 435.8L565.0 435.8M559.2 427.5L561.4 428.8M564.3 426.4L564.3 426.6M564.3 426.6L561.4 428.8M560.2 431.9L560.8 431.3M561.4 428.8L560.8 431.3M547.6 398.6L547.5 401.5M545.1 398.8L545.0 399.5M547.5 401.5L545.0 399.5M452.0 606.2L453.5 609.0M452.0 606.2L453.5 603.8M453.5 609.0L455.1 604.9M453.5 603.8L455.1 604.9M452.3 601.6L453.5 603.8M449.7 606.0L452.0 606.2M456.1 604.9L455.1 604.9M454.0 611.5L454.1 610.0M454.0 611.5L458.5 612.3M454.1 610.0L457.9 608.9M457.9 608.9L458.5 612.3M458.5 612.3L458.5 612.3M457.9 612.7L458.5 612.3M453.9 612.2L454.0 611.5M458.2 608.5L457.9 608.9M459.6 613.1L458.5 612.3M453.5 609.2L450.2 608.6M453.5 609.2L454.1 610.0M454.1 610.0L450.4 610.9M450.2 608.6L450.4 610.9M449.0 608.0L450.2 608.6M453.5 609.0L453.5 609.2M454.1 610.0L454.1 610.0M448.4 613.1L450.4 610.9M469.2 621.7L470.5 624.5M469.2 621.7L468.8 624.5M468.8 624.5L470.5 624.5M470.5 624.5L470.5 624.5M472.2 621.3L470.5 624.5M469.2 621.7L469.2 621.7M468.2 625.2L468.8 624.5M475.0 623.3L471.4 625.6M471.4 625.6L470.5 624.5M469.2 628.0L470.6 627.9M469.2 628.0L468.3 630.4M472.0 630.6L469.9 632.8M472.0 630.6L470.8 628.0M470.8 628.0L470.6 627.9M468.3 630.4L469.4 632.7M469.4 632.7L469.9 632.8M471.4 625.6L470.6 627.9M468.9 627.8L469.2 628.0M466.8 630.7L468.3 630.4M473.2 627.1L475.2 624.9M471.3 628.0L470.8 628.0M475.4 624.0L475.2 624.9M468.0 634.0L469.4 632.7M470.9 633.6L469.9 632.8M474.3 631.1L474.3 631.2M474.3 631.1L473.8 631.3M473.8 631.3L473.2 632.5M474.4 631.2L474.5 634.6M474.4 631.2L474.3 631.2M474.5 634.6L473.2 632.5M473.8 628.8L474.3 631.1M472.0 630.6L473.8 631.3M471.9 633.9L473.2 632.5M474.6 634.9L474.5 634.6M476.5 631.9L476.9 632.1M476.5 631.9L474.4 631.2M475.8 628.7L476.5 631.9M475.8 628.7L474.3 631.2M503.0 692.9L503.1 692.9M502.2 689.8L503.4 691.6M503.1 692.9L503.4 691.6M504.0 687.6L504.7 688.2M503.4 691.6L505.0 690.6M504.7 688.2L505.0 690.6M596.4 514.4L594.4 515.0M594.9 511.4L594.1 512.1M594.1 512.1L594.4 515.0M595.6 519.8L594.1 515.3M594.1 515.3L594.4 515.0M615.4 516.8L614.8 516.4M610.4 516.1L612.8 515.7M614.8 516.4L612.8 515.7M617.2 514.0L616.5 513.4M615.7 510.1L615.3 510.6M616.5 513.4L615.3 510.6M543.6 600.2L543.8 598.9M543.6 600.2L543.4 600.4M543.4 600.4L541.3 600.3M541.3 600.3L542.3 597.6M543.8 598.9L543.0 597.7M543.0 597.7L542.3 597.6M546.4 599.0L543.8 598.9M546.9 599.5L543.6 600.2M544.7 602.7L543.4 600.4M540.6 600.8L541.3 600.3M541.2 596.2L542.3 597.6M544.9 596.8L543.0 597.7M555.0 563.3L555.1 565.0M555.0 563.3L556.5 561.9M557.2 562.1L556.5 561.9M557.2 562.1L557.3 564.5M555.1 565.0L556.8 565.3M556.8 565.3L557.3 564.5M552.3 566.4L555.1 565.0M553.6 561.3L555.0 563.3M556.1 561.0L556.5 561.9M559.2 561.3L557.2 562.1M560.1 562.9L557.3 564.5M558.8 575.8L559.2 575.2M557.8 572.3L558.6 572.4M558.6 572.4L559.2 575.2M561.6 575.1L560.0 574.6M559.2 575.2L560.0 574.6M563.0 574.4L563.0 574.2M562.2 573.2L563.0 574.2M562.2 573.2L560.2 574.3M560.0 574.6L560.2 574.3M562.2 573.2L561.9 572.0M563.0 574.2L563.3 574.1M563.3 574.1L565.1 571.7M564.1 570.3L562.2 571.4M564.1 570.3L565.1 571.7M562.2 571.4L561.9 572.0M560.2 574.3L560.0 572.1M561.9 572.0L560.0 572.1M558.6 572.4L559.3 571.9M560.0 572.1L559.3 571.9M570.9 576.0L573.5 576.6M570.9 576.0L569.7 573.1M571.1 572.5L569.7 573.1M571.1 572.5L574.3 576.6M574.3 576.6L573.5 576.6M568.7 576.8L570.2 576.1M570.2 576.1L570.9 576.0M568.7 580.3L573.5 576.6M568.1 571.9L569.7 573.1M568.1 571.9L568.4 571.1M568.4 571.1L570.3 570.8M570.9 571.2L571.1 572.5M582.8 577.9L574.3 576.6M565.0 573.8L566.1 575.4M565.0 573.8L566.0 572.3M567.4 573.6L567.4 572.5M567.4 573.6L566.2 575.4M566.2 575.4L566.1 575.4M567.4 572.5L566.0 572.3M563.7 576.1L566.1 575.4M563.3 574.1L565.0 573.8M565.1 571.7L566.0 572.3M568.1 571.9L567.4 572.5M570.2 576.1L567.4 573.6M566.8 576.3L566.2 575.4M564.2 569.8L564.1 570.3M568.4 571.1L567.6 569.2M567.5 569.2L567.6 569.2M570.6 568.0L569.7 568.1M570.6 568.0L569.3 566.7M569.7 568.1L568.6 566.9M569.3 566.7L568.6 566.9M570.9 568.0L570.6 568.0M567.6 569.2L569.7 568.1M569.9 565.6L569.3 566.7M567.6 566.7L568.6 566.9M543.5 613.2L541.7 616.4M540.4 616.6L540.5 616.6M541.7 616.4L540.5 616.6M550.8 616.1L544.5 618.1M541.7 616.4L544.5 618.1M543.2 622.1L543.0 621.6M543.0 621.6L543.5 619.3M544.5 618.1L543.5 619.3M540.1 621.2L540.6 620.8M540.1 621.2L537.8 620.6M540.6 620.8L540.5 618.9M537.8 620.6L538.4 619.2M538.4 619.2L540.4 618.7M540.5 618.9L540.4 618.7M539.9 622.6L540.1 621.2M543.0 621.6L540.6 620.8M535.5 622.2L537.8 620.6M543.5 619.3L540.5 618.9M538.0 618.4L538.4 619.2M540.5 616.6L540.4 618.7M485.4 654.7L487.6 653.7M481.7 657.8L490.8 655.8M487.6 653.7L490.7 655.1M490.8 655.8L490.7 655.1M489.2 646.3L491.7 647.2M489.2 649.8L491.7 647.3M491.7 647.2L491.7 647.3M495.4 683.1L496.9 678.8M498.5 682.1L499.7 679.3M499.7 679.3L496.9 678.8M475.3 627.8L475.9 628.5M475.3 627.8L475.2 625.2M475.2 625.2L477.1 627.8M475.9 628.5L476.4 628.6M476.4 628.6L477.1 627.8M474.3 628.3L475.3 627.8M475.8 628.7L475.9 628.5M475.2 624.9L475.2 625.2M480.1 626.0L477.1 627.8M477.9 630.1L476.4 628.6M481.4 604.0L486.6 607.2M480.7 611.7L486.6 607.4M486.6 607.2L486.6 607.4M480.8 612.8L486.6 612.0M486.6 607.4L486.6 612.0M487.1 614.0L487.5 613.7M486.6 612.0L487.5 613.7M530.3 613.2L528.9 614.5M530.3 613.2L530.8 613.0M530.9 613.0L530.8 613.0M530.9 613.0L532.0 614.4M528.9 614.5L530.1 618.2M532.0 614.4L532.0 616.3M532.0 616.3L530.2 618.5M530.2 618.5L530.1 618.2M526.6 612.2L530.3 613.2M525.8 614.5L525.9 614.6M525.9 614.6L528.9 614.5M527.8 610.3L530.8 613.0M531.6 611.8L530.9 613.0M532.8 614.2L532.0 614.4M525.9 614.6L530.1 618.2M534.6 616.8L532.0 616.3M530.1 618.9L530.2 618.5M624.0 490.1L622.1 488.6M624.9 488.9L622.5 488.1M622.1 488.6L622.5 488.1M621.4 490.2L621.7 488.9M621.7 488.9L622.1 488.6M622.1 488.6L622.1 488.6M624.4 486.8L622.9 487.0M622.5 488.1L622.9 487.0M624.6 484.1L622.1 485.2M622.9 487.0L622.1 485.2M614.3 492.1L616.7 488.9M614.4 486.9L614.7 486.9M614.7 486.9L616.7 488.9M617.7 490.7L616.7 488.9M621.7 488.9L619.1 488.0M619.1 488.0L616.7 488.9M616.7 488.9L616.7 488.9M600.6 430.2L601.3 431.4M603.7 430.5L601.4 431.5M601.3 431.4L601.4 431.5M599.2 432.5L599.3 432.8M601.3 431.4L599.3 432.8M604.2 435.1L603.1 435.0M601.4 431.5L603.1 435.0M596.9 433.7L598.6 433.6M598.6 433.6L599.2 433.6M599.2 433.6L599.3 432.8M571.1 415.0L568.6 413.7M571.1 415.0L570.7 412.4M570.7 412.4L570.2 412.3M570.2 412.3L568.4 412.6M568.4 412.6L568.5 413.4M568.5 413.4L568.6 413.7M571.6 416.1L571.1 415.0M569.0 415.3L568.6 413.7M572.2 416.1L574.4 414.9M572.9 411.3L570.7 412.4M569.8 409.2L570.2 412.3M566.0 411.0L568.4 412.6M567.2 415.4L568.5 413.4M585.6 431.1L584.5 433.2M582.1 430.6L582.0 430.1M584.1 429.9L582.3 430.0M582.0 430.1L582.3 430.0M584.7 426.4L582.8 427.2M582.3 430.0L582.8 427.2M581.8 424.1L581.2 423.1M581.8 424.1L581.5 424.5M581.5 424.5L579.4 424.2M581.2 423.1L579.4 424.2M580.5 420.8L580.8 420.5M580.5 420.8L581.2 423.1M583.7 424.3L581.8 424.1M580.8 425.9L581.3 426.8M580.8 425.9L581.5 424.5M582.8 427.2L581.3 426.8M597.9 461.3L599.9 461.6M597.9 461.3L598.6 457.1M599.9 461.6L599.4 457.0M598.6 457.1L599.4 457.0M596.9 462.2L597.9 461.3M599.9 461.7L599.9 461.6M596.1 456.5L598.6 457.1M600.0 456.8L599.4 457.0M591.6 465.9L588.6 469.2M596.2 472.2L592.8 473.5M592.8 473.5L588.6 469.2M584.7 462.2L582.7 465.3M578.4 460.6L578.4 465.4M582.7 465.3L578.4 465.4M590.8 431.0L590.4 430.9M590.8 431.0L590.8 429.8M590.4 430.9L590.3 430.2M590.8 429.8L590.3 430.2M591.4 428.8L590.8 429.8M591.7 431.7L590.8 431.0M588.6 432.3L589.7 431.1M588.6 432.3L587.3 430.7M589.7 431.1L589.8 430.3M587.3 430.7L588.6 429.1M588.6 429.1L589.8 430.3M588.8 432.9L588.6 432.3M590.4 430.9L589.7 431.1M586.7 430.7L587.3 430.7M590.3 430.2L589.8 430.3M589.1 427.9L588.6 429.1M578.5 439.6L578.5 443.5M578.5 439.6L575.8 439.0M575.5 439.0L575.8 439.0M575.5 439.0L574.2 443.4M578.5 443.5L575.5 444.1M574.2 443.4L575.5 444.1M581.5 435.3L580.4 435.3M582.4 439.1L582.0 439.6M580.4 435.3L575.8 439.0M582.0 439.6L578.5 439.6M580.4 435.3L576.7 434.3M575.4 439.0L575.5 439.0M576.7 434.3L576.4 434.6M570.8 436.8L568.8 438.3M573.3 443.8L574.2 443.4M577.6 447.4L575.5 444.1M582.9 444.0L581.9 442.2M582.9 444.0L581.2 445.8M581.9 442.2L578.9 443.6M581.2 445.8L579.5 445.0M579.5 445.0L578.9 443.6M583.8 444.4L582.9 444.0M583.8 444.4L588.5 443.9M582.0 439.6L581.9 442.2M585.6 440.1L588.5 443.9M581.0 446.7L581.2 445.8M584.2 449.9L583.8 444.4M578.5 443.5L578.9 443.6M578.0 447.4L579.5 445.0M589.1 438.6L591.9 443.2M589.1 438.6L588.8 439.0M588.8 439.0L588.6 443.9M590.3 443.8L591.9 443.2M590.3 443.8L588.7 444.0M588.7 444.0L588.6 443.9M590.2 437.3L589.1 438.6M594.3 440.6L594.1 439.9M592.4 443.1L591.9 443.2M586.8 439.1L588.8 439.0M588.5 443.9L588.6 443.9M591.4 447.1L590.3 443.8M587.2 450.7L588.7 444.0M596.6 493.8L590.5 492.4M596.5 488.2L592.4 488.9M592.4 488.9L590.5 492.4M586.8 531.0L581.0 528.1M580.7 532.9L579.9 531.9M581.0 528.1L579.9 531.9M577.7 533.6L577.7 532.5M579.9 531.9L577.7 532.5M573.3 539.1L572.1 536.8M572.1 536.8L568.9 539.3M572.8 540.3L569.1 539.8M568.9 539.3L569.1 539.8M568.9 541.7L568.6 540.4M569.1 539.8L568.6 540.4M512.1 543.5L517.3 537.8M508.1 535.9L517.1 537.3M517.3 537.8L517.1 537.3M493.6 498.5L493.9 493.1M493.6 498.5L494.6 499.4M494.6 499.4L503.5 493.5M493.9 493.1L496.7 487.2M503.5 493.5L498.8 487.1M496.7 487.2L498.8 487.1M485.4 490.9L493.9 493.1M487.1 496.8L493.6 498.5M495.5 507.1L495.9 507.2M495.9 507.2L494.6 499.4M489.4 484.4L496.7 487.2M502.2 481.6L498.8 487.1M557.9 441.4L557.6 441.8M557.9 441.4L555.4 437.2M557.6 441.8L551.6 438.9M555.4 437.2L554.9 436.6M551.6 438.9L551.9 437.1M554.9 436.6L554.2 436.1M554.2 436.1L552.5 436.5M551.9 437.1L552.4 436.5M552.4 436.5L552.5 436.5M564.0 448.1L562.5 448.6M557.4 442.6L557.6 441.8M557.4 442.6L560.0 447.5M558.3 441.1L557.9 441.4M560.0 447.5L562.5 448.6M559.9 436.9L555.4 437.2M557.8 436.0L554.9 436.6M555.3 434.1L554.2 436.1M552.0 433.5L552.5 436.5M549.5 433.3L552.4 436.5M548.2 435.7L551.9 437.1M572.9 455.9L569.8 456.1M572.9 455.9L573.4 460.3M569.8 456.1L570.4 463.2M573.4 460.3L570.4 463.2M573.6 454.9L572.9 455.9M569.2 455.0L569.8 456.1M576.3 458.7L573.4 460.3M572.2 465.8L570.2 463.5M572.2 465.8L578.1 465.5M570.2 463.5L570.4 463.2M578.1 465.5L578.4 465.4M597.1 435.9L597.7 436.1M598.0 440.8L598.3 438.4M598.3 438.4L597.7 436.1M598.6 433.6L598.3 436.0M598.3 436.0L597.7 436.1M557.4 442.6L555.1 443.7M555.1 443.7L550.8 439.9M551.6 438.9L550.8 439.9M550.8 439.9L550.8 439.9M552.9 445.5L555.1 443.7M552.9 445.5L552.5 445.5M550.8 439.9L552.5 445.5M538.1 433.6L534.8 437.5M540.8 435.1L540.2 439.7M540.2 439.7L534.8 437.5M566.1 428.3L567.6 432.4M566.1 428.3L564.9 427.7M564.9 427.7L564.0 430.8M564.0 430.8L564.7 432.0M564.7 432.0L566.6 432.9M567.6 432.4L566.6 432.9M567.9 432.4L567.6 432.4M567.5 428.3L566.1 428.3M564.3 426.6L564.9 427.7M560.8 431.3L564.0 430.8M563.2 433.5L564.7 432.0M565.7 435.8L566.6 432.9M548.2 401.9L547.8 401.8M547.5 401.5L547.7 401.7M547.8 401.8L547.7 401.7M546.0 408.0L543.9 408.4M546.0 408.0L546.0 406.6M546.0 406.6L542.4 408.0M543.9 408.4L542.4 408.0M546.4 408.2L546.0 408.0M545.7 410.4L543.9 408.4M548.3 405.3L546.2 405.4M546.2 405.4L546.0 406.6M540.5 413.4L540.1 412.2M543.9 411.3L541.8 410.3M541.8 410.3L540.1 412.2M534.5 416.5L535.2 410.6M540.1 412.2L535.2 410.6M533.2 409.3L534.8 409.9M535.2 410.6L534.8 409.9M512.1 701.3L511.1 699.0M510.2 701.9L509.5 699.6M511.1 699.0L509.5 699.6M514.3 697.3L513.2 697.2M511.1 699.0L511.5 698.2M511.5 698.2L512.5 697.5M513.2 697.2L512.5 697.5M511.5 698.2L509.4 697.2M512.5 697.5L510.0 696.2M509.4 697.2L510.0 696.2M513.2 697.2L510.8 694.3M510.8 694.3L510.4 694.5M510.0 696.2L510.4 694.5M518.8 691.4L515.9 691.1M518.3 690.2L515.8 688.9M515.9 691.1L515.4 690.4M515.4 690.4L515.8 688.9M518.4 688.0L515.0 687.1M515.0 687.1L515.0 687.2M515.0 687.2L515.1 687.5M515.8 688.9L515.1 687.5M515.0 687.2L511.9 689.6M515.1 687.5L513.7 690.3M511.9 689.6L513.7 690.3M515.4 690.4L513.7 690.5M513.7 690.3L513.7 690.5M594.4 498.7L593.9 498.9M596.6 505.3L593.5 504.7M593.9 498.9L593.5 504.7M595.6 510.2L591.3 508.7M591.3 508.7L593.0 504.9M593.5 504.7L593.0 504.9M590.5 492.4L589.6 492.7M589.6 492.7L589.0 495.0M593.9 498.9L589.7 498.2M589.7 498.2L589.5 497.8M589.5 497.8L589.0 495.0M610.3 511.5L612.6 513.0M612.8 515.7L612.6 513.1M612.6 513.0L612.6 513.1M611.2 510.0L613.6 510.9M612.6 513.0L613.6 510.9M615.3 510.6L614.9 510.9M613.6 510.9L614.9 510.9M614.6 514.0L613.5 512.9M614.6 514.0L614.9 512.8M614.9 512.8L614.6 512.1M613.5 512.9L614.6 512.1M614.8 516.4L614.6 514.0M612.6 513.1L613.5 512.9M616.5 513.4L614.9 512.8M614.9 510.9L614.6 512.1M556.5 569.4L557.8 568.4M559.3 571.9L559.2 569.8M559.2 569.8L557.8 568.4M556.8 565.3L558.3 567.1M557.8 568.4L558.3 567.1M561.0 565.3L559.4 566.8M559.4 566.8L558.3 567.1M492.7 657.8L489.3 662.2M492.7 657.8L492.9 656.7M492.9 656.7L491.0 656.1M491.0 656.1L487.6 662.6M489.3 662.2L487.6 662.6M487.6 662.6L487.6 662.6M491.4 662.2L490.8 662.3M491.4 662.2L495.5 660.3M490.8 662.3L489.3 662.2M495.5 660.3L495.6 659.5M495.6 659.5L492.7 657.8M494.2 655.7L492.9 656.7M494.2 655.7L492.1 653.2M492.1 653.2L490.7 655.1M490.8 655.8L491.0 656.1M471.6 667.9L487.6 662.6M493.9 666.5L494.7 665.9M493.9 666.5L487.6 662.6M494.7 665.9L490.8 662.3M491.4 662.2L496.5 664.4M495.5 660.3L496.1 660.8M496.1 660.8L496.5 664.4M497.0 641.3L497.0 642.7M498.9 641.7L498.5 642.8M497.0 642.7L498.5 642.8M492.1 653.2L490.7 651.6M492.1 653.2L492.1 653.2M487.6 653.7L489.8 651.3M490.7 651.6L489.8 651.3M489.3 650.1L489.4 650.1M489.4 650.1L489.8 651.3M498.4 644.9L495.5 644.3M498.4 644.9L495.4 646.8M495.4 646.8L495.5 644.3M490.9 643.2L492.4 643.7M491.7 647.2L492.9 646.4M492.9 646.4L492.4 643.7M494.5 642.9L494.5 642.9M492.4 643.7L494.5 642.9M497.0 642.7L494.9 643.2M494.5 642.9L494.9 643.2M525.8 665.7L521.7 667.0M521.7 667.0L519.6 663.8M523.5 661.8L521.1 660.5M519.6 663.8L521.1 660.5M465.7 672.2L490.0 671.3M493.9 666.5L490.8 670.9M490.0 671.3L490.3 671.2M490.8 670.9L490.3 671.2M495.3 677.7L496.1 678.0M495.3 677.7L494.6 677.2M496.1 678.0L496.8 675.5M494.6 677.2L494.8 676.0M494.8 676.0L496.0 675.1M496.0 675.1L496.8 675.5M492.8 684.3L495.3 677.7M496.9 678.8L496.6 678.2M496.6 678.2L496.1 678.0M456.9 691.4L494.6 677.2M490.0 671.3L494.8 676.0M490.3 671.2L496.0 672.5M496.0 672.5L496.0 675.1M500.7 682.8L501.9 679.9M501.1 683.3L504.1 683.4M501.9 679.9L504.1 683.4M504.0 686.6L504.5 685.5M504.5 685.5L504.3 683.5M504.3 683.5L504.1 683.4M499.7 679.3L500.7 678.7M501.9 679.9L501.9 679.3M500.7 678.7L501.9 679.3M515.0 650.2L516.1 646.5M515.0 650.2L517.0 650.2M516.1 646.5L517.6 648.5M517.0 650.2L517.6 648.5M502.1 655.3L503.4 656.5M502.1 655.3L504.2 653.9M503.4 656.5L505.0 654.5M505.0 654.5L504.2 653.9M502.5 643.3L502.6 644.9M502.6 644.9L501.9 645.2M498.5 642.8L499.2 644.8M501.9 645.2L499.2 644.8M498.4 644.9L499.1 644.8M495.5 644.3L494.9 643.2M499.2 644.8L499.1 644.8M489.3 616.1L487.8 613.8M489.3 616.1L494.5 611.5M487.8 613.8L490.8 611.6M490.8 611.6L494.1 610.9M494.5 611.5L494.1 610.9M489.5 616.7L489.3 616.1M487.5 613.7L487.8 613.8M495.5 612.2L494.5 611.5M486.6 607.2L488.3 606.6M488.3 606.6L490.8 611.6M538.3 651.8L534.8 649.8M535.3 648.2L534.8 649.5M534.8 649.8L534.8 649.5M524.6 640.1L524.6 640.4M527.8 641.7L526.7 642.6M526.7 642.6L524.6 640.4M518.4 637.9L517.9 641.0M517.9 641.0L518.0 641.1M518.0 641.1L524.4 640.6M524.6 640.4L524.4 640.6M527.2 667.8L523.8 669.9M527.6 669.7L524.5 670.5M524.5 670.5L523.8 669.9M526.7 673.0L526.0 673.1M524.5 670.5L526.0 673.1M616.2 482.8L616.4 483.8M614.7 486.9L616.4 483.8M616.4 483.8L616.4 483.8M619.1 488.0L619.4 487.2M616.4 483.8L619.4 487.2M601.6 436.2L599.0 437.5M601.6 436.2L601.9 435.5M601.9 435.5L600.9 435.2M600.9 435.2L598.9 436.0M598.9 436.0L599.0 437.5M600.9 439.0L601.6 436.2M598.3 438.4L599.0 437.5M603.1 435.0L601.9 435.5M599.2 433.6L600.9 435.2M598.3 436.0L598.9 436.0M578.5 428.6L579.5 429.4M578.5 428.6L576.1 430.2M579.0 431.5L577.3 432.3M579.0 431.5L579.7 429.7M579.7 429.7L579.5 429.4M577.3 432.3L576.0 430.9M576.0 430.9L576.1 430.2M581.1 434.1L579.0 431.5M576.7 434.3L577.3 432.3M582.0 430.1L579.7 429.7M581.3 426.8L579.5 429.4M574.0 431.6L576.0 430.9M572.9 427.8L574.9 428.5M574.9 428.5L576.1 430.2M574.9 428.5L577.4 427.6M578.5 428.6L578.1 427.9M577.4 427.6L578.1 427.9M577.0 419.3L575.9 422.8M577.0 419.3L576.5 418.6M576.5 418.6L576.0 418.8M576.0 418.8L573.6 421.3M575.9 422.8L573.2 423.2M573.2 423.2L573.6 421.3M580.2 420.8L577.0 419.3M580.2 420.8L577.7 423.7M577.7 423.7L575.9 422.8M576.8 415.7L576.5 418.6M580.5 420.8L580.2 420.8M573.0 418.6L576.0 418.8M572.8 419.1L573.6 421.3M573.0 423.3L573.2 423.2M597.0 481.4L595.4 481.2M596.5 487.1L595.1 485.4M595.1 485.4L594.7 484.8M594.7 484.8L594.5 484.6M594.5 484.6L595.4 481.2M595.3 478.6L594.4 479.9M592.8 473.5L588.6 477.7M588.6 477.7L590.4 479.1M590.4 479.1L594.4 479.9M595.4 481.2L594.4 479.9M586.7 477.8L587.8 477.6M586.7 477.8L585.4 472.2M587.8 477.6L588.3 469.3M585.4 472.2L586.7 469.2M588.3 469.3L586.7 469.2M588.6 469.2L588.3 469.3M588.6 477.7L587.8 477.6M582.7 465.3L583.6 467.9M583.6 467.9L586.7 469.2M592.0 484.7L590.7 484.3M592.0 484.7L592.2 487.7M590.7 484.3L588.7 486.0M592.2 487.7L592.2 488.1M588.7 486.0L588.7 486.0M588.7 486.0L592.1 488.3M592.2 488.1L592.1 488.3M594.5 484.6L592.0 484.7M590.4 479.1L590.7 484.3M594.7 484.8L592.2 487.7M595.1 485.4L592.2 488.1M586.8 490.2L589.6 492.7M586.8 490.2L588.7 486.0M592.4 488.9L592.1 488.3M581.8 483.9L583.8 489.5M581.8 483.9L583.6 480.9M584.9 482.7L583.6 480.9M584.9 482.7L585.0 489.9M585.0 489.9L584.0 489.7M583.8 489.5L584.0 489.7M583.4 489.3L578.1 486.6M583.4 489.3L583.8 489.5M578.1 486.6L581.8 483.9M583.6 479.0L583.6 480.9M583.6 479.0L586.7 477.8M588.7 486.0L584.9 482.7M586.8 490.2L585.5 490.1M585.5 490.1L585.0 489.9M576.0 536.2L574.2 533.8M572.1 536.8L570.4 533.3M574.2 533.8L570.4 533.3M577.7 532.5L577.4 532.5M574.2 533.8L577.4 532.5M581.0 528.1L580.8 527.4M580.8 527.4L574.6 528.5M577.4 532.5L574.6 528.5M565.9 543.6L565.2 542.3M565.2 542.3L565.3 542.1M568.6 540.4L567.6 540.6M565.3 542.1L567.6 540.6M558.8 547.1L558.7 547.1M558.7 547.1L553.1 547.2M552.1 550.8L551.3 549.0M553.1 547.2L551.3 549.0M546.7 549.4L550.5 548.7M546.7 549.4L546.1 552.0M551.3 549.0L550.5 548.7M546.7 549.4L542.7 546.0M540.2 553.8L540.2 546.8M542.7 546.0L541.4 546.0M541.4 546.0L540.2 546.8M534.1 549.4L534.3 549.2M534.3 549.2L539.1 546.7M540.2 546.8L539.1 546.7M505.5 494.3L505.6 501.3M505.5 494.3L511.4 492.2M505.6 501.3L512.0 500.2M511.4 492.2L512.5 494.1M512.5 494.1L512.0 500.2M511.4 492.2L514.9 486.9M512.5 494.1L517.2 499.1M517.2 499.1L525.3 495.7M525.3 495.7L514.9 486.9M552.9 445.5L555.1 449.1M560.0 447.5L557.6 448.6M555.1 449.1L557.6 448.6M554.8 495.0L557.6 490.2M554.8 495.0L554.6 496.6M554.6 496.6L561.0 496.8M561.3 490.4L557.6 490.2M561.3 490.4L565.2 496.2M565.2 496.2L561.0 496.8M557.4 453.1L557.6 448.6M557.4 453.1L554.3 451.5M555.1 449.1L554.0 451.3M554.0 451.3L554.3 451.5M543.7 435.3L544.4 440.7M546.5 436.4L546.8 438.2M544.4 440.7L546.8 438.2M550.8 439.9L549.4 440.4M546.8 438.2L549.4 440.4M552.5 445.5L550.2 446.2M550.2 446.2L549.3 440.4M549.4 440.4L549.3 440.4M550.4 452.5L551.1 452.6M550.4 452.5L549.8 451.7M550.2 446.2L548.9 447.0M551.1 452.6L554.0 451.3M549.8 451.7L548.9 447.0M549.3 440.4L543.0 445.0M548.9 447.0L543.0 445.0M540.2 439.7L540.2 439.8M540.2 439.8L534.0 439.6M534.8 437.5L533.2 438.7M534.0 439.6L533.2 438.7M529.9 444.5L530.4 444.5M528.1 435.4L532.8 438.7M530.4 444.5L532.8 438.7M532.8 438.7L533.2 438.7M546.2 405.4L544.3 404.4M542.4 408.0L542.3 408.0M544.3 404.4L542.3 408.0M547.8 401.8L544.2 404.3M544.3 404.4L544.2 404.3M547.7 401.7L542.7 402.1M544.2 404.3L542.7 402.1M541.8 410.3L542.3 408.0M542.3 408.0L542.3 408.0M534.8 409.9L538.5 405.7M542.3 408.0L538.5 405.7M545.0 399.5L542.6 402.0M542.6 402.0L542.7 402.1M508.8 699.4L508.4 697.4M508.8 699.4L506.6 701.0M504.4 698.5L507.8 697.1M504.4 698.5L505.9 700.5M507.8 697.1L508.4 697.4M506.6 701.0L505.9 700.5M509.5 699.6L508.8 699.4M509.4 697.2L508.4 697.4M507.1 702.4L506.6 701.0M504.5 701.8L505.9 700.5M501.4 697.9L504.1 698.4M504.1 698.4L504.4 698.5M507.7 695.7L508.9 694.5M507.7 695.7L506.2 694.8M506.2 694.8L505.9 694.2M508.7 694.2L506.1 692.7M508.7 694.2L508.9 694.5M505.9 694.2L506.0 692.9M506.0 692.9L506.1 692.7M510.4 694.5L508.9 694.5M507.8 697.1L507.7 695.7M504.1 698.4L506.2 694.8M501.8 695.9L505.9 694.2M503.1 692.9L506.0 692.9M506.3 692.3L506.1 692.7M506.3 692.3L505.6 691.3M505.0 690.6L505.6 691.3M515.9 691.1L514.5 692.7M513.7 690.5L513.7 692.2M513.7 692.2L514.5 692.7M517.7 695.3L516.2 695.6M514.5 692.7L516.2 695.6M515.7 696.2L515.9 695.9M516.2 695.6L515.9 695.9M515.0 687.1L514.9 686.6M514.9 686.6L513.3 686.7M511.9 689.6L511.7 689.5M513.3 686.7L512.0 687.4M512.0 687.4L511.4 689.1M511.7 689.5L511.4 689.1M568.8 487.1L568.0 496.2M568.8 487.1L567.4 486.9M567.4 486.9L561.3 490.4M565.2 496.2L565.8 496.8M568.0 496.2L565.8 496.8M561.0 496.8L562.1 499.3M562.1 499.3L565.5 497.6M565.8 496.8L565.5 497.6M570.8 486.8L574.7 488.6M570.8 486.8L571.9 481.6M577.2 480.7L571.9 481.6M577.2 480.7L576.3 487.3M576.3 487.3L574.7 488.6M575.8 491.7L569.8 496.7M575.8 491.7L575.0 489.2M568.8 487.1L570.8 486.8M575.0 489.2L574.7 488.6M569.8 496.7L568.0 496.2M583.0 478.7L583.6 479.0M583.0 478.7L578.6 479.2M578.1 486.6L576.3 487.3M578.6 479.2L577.2 480.7M583.4 489.3L575.0 489.2M561.2 570.2L560.1 569.8M561.2 570.2L561.6 568.4M560.1 569.8L561.1 568.1M561.6 568.4L561.1 568.1M562.2 571.4L561.2 570.2M559.2 569.8L560.1 569.8M562.3 568.3L561.6 568.4M559.4 566.8L561.1 568.1M491.7 647.4L492.3 648.9M491.7 647.4L490.9 649.2M490.9 649.2L492.3 648.9M491.7 647.3L491.7 647.4M489.4 650.1L490.9 649.2M495.4 646.8L495.3 647.3M492.9 646.4L494.8 647.4M494.8 647.4L495.3 647.3M492.1 653.2L494.1 652.3M494.2 655.7L495.0 655.7M494.1 652.3L495.0 655.7M495.6 659.5L496.8 657.1M495.0 655.7L495.4 655.8M495.4 655.8L496.2 656.4M496.2 656.4L496.8 657.1M501.3 661.4L496.1 660.8M501.3 661.4L497.8 657.1M496.8 657.1L497.8 657.1M513.6 680.1L515.6 679.3M513.6 680.1L514.7 684.3M515.6 679.3L517.8 682.4M516.9 684.5L515.4 685.1M516.9 684.5L517.8 682.4M517.8 682.4L517.8 682.4M515.4 685.1L514.7 684.3M518.5 685.5L516.9 684.5M514.9 686.6L515.4 685.1M519.7 682.6L517.8 682.4M511.2 684.0L511.1 684.7M511.2 684.0L514.7 684.3M513.3 686.7L511.1 684.7M516.3 672.4L518.2 676.4M516.3 672.4L513.2 674.9M513.2 674.9L516.7 677.7M518.2 676.4L517.1 677.4M516.7 677.7L517.1 677.4M511.2 684.0L510.7 682.2M513.6 680.1L513.1 680.0M513.1 680.0L510.7 682.2M514.3 671.1L511.8 674.1M514.3 671.1L513.1 670.3M510.5 672.4L510.8 673.2M510.5 672.4L511.9 670.4M510.8 673.2L511.8 674.1M513.1 670.3L511.9 670.4M518.1 653.6L517.9 653.8M518.1 653.6L518.5 650.9M513.9 650.6L515.0 650.2M513.9 650.6L514.1 653.0M518.5 650.9L517.0 650.2M514.1 653.0L514.5 654.3M517.9 653.8L514.5 654.3M518.1 653.6L522.2 653.4M522.2 653.4L519.7 656.5M517.9 653.8L519.2 656.2M519.7 656.5L519.2 656.2M505.7 678.4L504.0 678.6M505.7 678.4L506.1 682.1M506.1 682.1L505.1 682.7M505.1 682.7L503.5 678.9M504.0 678.6L503.5 678.9M507.6 684.6L508.1 683.7M507.6 684.6L506.7 685.5M506.7 685.5L504.5 685.5M508.1 682.2L508.1 683.7M508.1 682.2L506.1 682.1M504.3 683.5L505.1 682.7M501.9 679.3L503.5 678.9M496.6 678.2L497.9 676.8M500.7 678.7L500.6 678.1M500.6 678.1L497.9 676.8M504.0 678.6L503.0 675.4M500.6 678.1L500.9 676.5M503.0 675.4L500.9 676.5M505.8 678.2L505.8 677.6M505.8 678.2L505.7 678.4M505.8 677.6L503.8 674.4M503.0 675.4L503.8 674.4M507.4 674.7L505.8 677.6M507.4 674.7L505.7 672.7M503.8 674.4L504.0 673.4M505.7 672.7L504.0 673.4M513.9 650.6L512.7 649.9M509.7 653.6L514.1 653.0M509.7 653.6L509.4 652.5M512.7 649.9L509.4 652.5M510.7 636.1L510.7 638.7M505.6 640.7L507.5 641.9M507.5 641.9L510.7 638.7M489.1 604.5L493.8 603.5M489.1 604.5L489.9 598.0M493.8 603.5L492.9 598.6M492.9 598.6L491.2 597.2M491.2 597.2L489.9 598.0M485.9 598.3L489.9 598.0M488.3 606.6L488.4 606.6M488.4 606.6L489.1 604.5M497.3 600.1L492.9 598.6M491.4 596.2L491.2 597.2M493.9 610.0L490.8 607.2M493.9 610.0L496.7 605.5M490.8 607.2L494.5 604.7M496.7 605.5L494.5 604.7M488.4 606.6L490.8 607.2M494.1 610.9L493.9 610.0M497.1 605.4L496.7 605.5M493.8 603.5L494.5 604.7M528.4 658.7L527.8 657.9M521.1 660.5L521.1 660.4M521.1 660.4L525.5 657.8M525.5 657.8L527.8 657.9M532.2 656.0L528.3 655.4M527.8 657.9L528.3 655.4M530.3 643.1L530.2 643.3M531.8 645.8L531.5 645.9M530.2 643.3L531.5 645.9M534.8 649.5L530.8 647.1M531.5 645.9L530.8 647.1M518.0 641.1L518.6 642.0M518.6 642.0L521.2 643.1M524.4 640.6L522.9 643.3M521.2 643.1L522.9 643.3M525.1 677.6L524.7 677.3M522.4 680.5L521.7 679.4M521.7 679.4L521.7 678.1M524.7 677.3L521.7 678.1M520.9 670.8L521.4 669.3M520.9 670.8L516.3 672.0M517.9 668.6L516.2 669.9M517.9 668.6L521.4 669.2M521.4 669.2L521.4 669.3M516.2 669.9L515.9 671.4M515.9 671.4L516.3 672.0M515.4 668.2L516.5 665.2M515.4 668.2L516.2 669.9M516.5 665.2L517.9 668.6M521.7 667.0L521.4 669.2M519.6 663.8L516.5 664.6M516.5 664.6L516.5 665.2M523.8 669.9L521.4 669.3M514.3 671.1L515.9 671.4M515.4 668.2L513.6 668.3M513.6 668.3L513.1 670.3M516.3 672.4L516.3 672.0M513.2 674.9L512.2 674.8M511.8 674.1L512.2 674.8M520.2 680.5L520.0 680.6M520.2 680.5L520.3 680.4M520.3 680.4L518.8 679.7M520.0 680.6L518.9 680.6M518.9 680.6L518.8 679.7M520.1 682.2L520.2 680.5M518.2 681.9L520.0 680.6M518.2 681.9L517.8 682.4M521.7 679.4L520.3 680.4M518.2 676.4L519.6 676.3M517.1 677.4L518.8 679.7M521.7 678.1L519.6 676.3M518.2 681.9L518.9 680.6M515.6 679.3L516.7 677.7M620.8 482.3L619.2 483.5M616.4 483.8L617.4 484.0M619.2 483.5L617.4 484.0M579.8 425.8L578.6 427.0M579.8 425.8L578.7 424.4M578.6 427.0L577.5 424.2M578.7 424.4L577.7 423.8M577.7 423.8L577.5 424.2M580.8 425.9L579.8 425.8M578.1 427.9L578.6 427.0M579.4 424.2L578.7 424.4M577.7 423.7L577.7 423.8M572.6 426.1L577.4 424.4M572.6 426.1L576.6 426.2M576.6 426.2L577.4 424.4M572.3 426.1L572.6 426.1M577.5 424.2L577.4 424.4M577.4 427.6L576.6 426.2M564.6 473.8L560.7 478.8M564.6 473.8L569.8 475.1M569.8 475.1L570.4 475.9M560.7 478.8L562.7 481.4M570.4 475.9L570.4 475.9M570.4 475.9L564.8 482.5M562.7 481.4L564.8 482.5M578.0 472.3L574.1 476.0M578.0 472.3L572.3 468.3M572.3 468.3L569.8 475.1M574.1 476.0L570.4 475.9M578.6 479.2L574.1 476.0M571.9 481.6L570.4 475.9M567.4 486.9L564.8 482.5M557.3 489.3L557.6 490.2M557.3 489.3L562.7 481.4M583.1 471.5L583.0 469.0M583.1 471.5L581.6 475.4M583.0 469.0L578.9 471.0M581.6 475.4L578.3 472.3M578.3 472.3L578.9 471.0M583.6 467.9L583.0 469.0M585.4 472.2L583.1 471.5M583.0 478.7L581.6 475.4M578.1 465.5L578.9 471.0M578.0 472.3L578.3 472.3M572.2 465.8L572.3 468.3M560.8 503.8L559.1 501.8M560.8 503.8L565.8 502.2M562.1 499.3L558.9 501.4M565.8 502.2L565.5 497.6M558.9 501.4L559.1 501.8M553.6 543.7L555.4 542.0M553.6 543.7L557.8 544.4M555.4 542.0L557.8 543.9M557.8 544.4L557.8 543.9M558.7 547.1L557.8 544.4M553.2 543.8L553.6 543.7M553.2 543.8L553.1 545.1M553.1 547.2L553.1 545.1M556.6 538.8L557.7 538.5M556.6 538.8L555.5 540.8M555.5 540.8L555.4 542.0M558.3 542.6L557.7 538.5M558.3 542.6L557.8 543.9M550.3 536.0L549.9 537.4M550.3 536.0L548.4 530.6M549.9 537.4L547.1 536.7M547.1 536.7L545.1 534.9M545.1 534.9L545.7 532.1M548.4 530.6L545.7 532.1M550.0 537.7L549.9 537.4M550.0 537.7L549.9 538.4M543.4 539.0L545.5 537.1M543.4 539.0L546.2 541.9M545.5 537.1L547.1 536.7M549.9 538.4L546.2 541.9M522.8 546.8L522.4 542.9M517.3 537.8L520.3 539.8M522.4 542.9L520.3 539.8M501.3 525.9L503.6 515.7M489.7 519.9L498.7 512.5M503.6 515.7L498.7 512.5M495.9 507.2L498.6 510.9M498.7 512.5L498.6 510.9M503.5 493.5L505.5 494.3M505.6 501.3L505.2 504.0M498.6 510.9L505.2 504.0M531.9 522.9L526.1 522.1M531.9 522.9L531.8 523.4M526.1 522.1L528.3 524.7M531.8 523.4L528.3 524.7M511.0 530.3L515.2 530.1M517.1 537.3L517.5 532.9M515.2 530.1L516.3 530.6M517.5 532.9L516.3 530.6M534.3 549.2L533.1 545.1M539.1 546.7L534.5 542.8M534.5 542.8L533.1 545.1M528.8 548.3L530.6 546.0M530.6 546.0L533.1 545.1M502.4 481.5L509.9 481.1M514.9 486.9L515.2 484.1M509.9 481.1L515.2 484.1M539.2 457.1L537.4 446.9M539.2 457.1L540.8 457.7M541.7 457.3L540.8 457.7M541.7 457.3L544.2 451.4M544.2 451.4L542.5 445.0M538.0 446.3L537.4 446.9M538.0 446.3L541.4 444.8M541.4 444.8L542.4 444.9M542.4 444.9L542.5 445.0M550.4 452.5L547.3 457.0M549.8 451.7L544.2 451.4M547.3 457.0L541.7 457.3M543.0 445.0L542.5 445.0M534.0 439.6L538.0 446.3M530.4 444.5L536.0 447.1M536.0 447.1L537.4 446.9M540.2 439.8L541.4 444.8M544.4 440.7L542.4 444.9M511.1 447.1L512.1 455.1M518.5 448.0L519.5 450.9M519.5 450.9L512.1 455.1M504.1 456.5L509.1 457.7M512.1 455.1L509.1 457.7M555.1 453.9L554.3 455.1M555.1 453.9L556.1 455.6M556.1 455.6L554.3 455.1M551.1 452.6L552.7 454.8M554.3 451.5L555.1 453.9M552.7 454.8L554.3 455.1M562.1 458.7L562.2 453.2M562.1 458.7L558.1 457.5M558.1 457.5L558.0 456.5M558.0 456.5L558.6 454.2M558.6 454.2L561.4 452.1M561.4 452.1L562.2 453.2M565.4 455.7L564.1 459.8M565.4 455.7L562.2 453.2M564.1 459.8L562.1 458.7M555.8 460.2L558.1 457.5M555.8 460.2L552.9 456.2M552.9 456.2L552.7 454.8M556.1 455.6L558.0 456.5M557.4 453.1L558.6 454.2M562.5 448.6L561.4 452.1M567.6 454.2L565.4 455.7M570.2 463.5L568.8 463.5M564.6 473.8L564.1 472.7M564.1 472.7L568.8 463.5M564.1 459.8L564.2 459.9M564.2 459.9L566.2 462.8M568.8 463.5L566.2 462.8M541.0 399.7L542.6 402.0M541.0 399.7L538.5 399.7M542.6 402.0L538.5 404.5M538.5 399.7L536.8 401.1M536.8 401.1L537.2 403.0M537.2 403.0L538.5 404.5M541.4 398.3L541.0 399.7M542.6 402.0L542.6 402.0M538.3 397.7L538.5 399.7M538.5 405.7L538.5 404.5M536.3 400.9L536.8 401.1M532.9 404.5L537.2 403.0M509.5 685.4L510.3 685.5M509.5 685.4L508.7 685.8M510.3 685.5L510.4 686.4M510.4 686.4L509.2 688.4M508.7 685.8L508.2 686.3M508.2 686.3L508.4 688.6M509.2 688.4L508.4 688.6M508.1 682.2L508.7 681.9M508.1 683.7L509.5 685.4M511.1 684.7L510.3 685.5M508.7 681.9L510.7 682.2M507.6 684.6L508.7 685.8M512.0 687.4L510.4 686.4M511.4 689.1L509.2 688.4M506.7 685.5L506.9 685.7M506.9 685.7L508.2 686.3M509.0 691.4L511.1 691.0M509.0 691.4L510.9 694.1M511.1 691.0L512.1 692.6M512.1 692.6L511.7 693.4M510.9 694.1L511.7 693.4M510.8 694.3L510.9 694.1M508.7 694.2L508.5 691.3M508.5 691.3L509.0 691.4M513.7 692.2L512.1 692.6M511.7 689.5L511.1 691.0M515.9 695.9L511.7 693.4M508.3 688.7L508.5 691.3M508.3 688.7L507.4 688.6M506.6 690.2L506.9 688.6M506.6 690.2L507.3 691.8M507.3 691.8L508.5 691.3M506.9 688.6L507.4 688.6M508.5 691.3L508.5 691.3M508.4 688.6L508.3 688.7M506.9 685.7L507.4 688.6M504.7 688.2L506.9 688.6M505.6 691.3L506.6 690.2M506.3 692.3L507.3 691.8M594.1 512.1L589.7 511.6M591.3 508.7L589.4 510.2M589.7 511.6L589.4 510.2M495.5 647.4L495.8 648.5M495.5 647.4L498.0 647.3M495.8 648.5L498.2 650.4M498.0 647.3L499.0 648.8M498.2 650.4L499.0 648.8M499.1 644.8L498.0 647.3M495.3 647.3L495.5 647.4M501.9 645.2L500.8 648.2M500.8 648.2L499.0 648.8M497.2 654.9L498.9 653.8M497.2 654.9L498.3 652.0M498.3 652.0L498.9 653.8M496.4 652.0L495.4 655.8M496.4 652.0L498.2 651.6M496.2 656.4L497.2 654.9M498.3 652.0L498.2 651.6M496.4 652.0L495.9 651.8M495.8 648.5L495.4 649.9M498.2 650.4L498.2 651.6M495.4 649.9L495.9 651.8M498.2 651.6L498.2 651.6M497.8 657.1L499.9 655.5M498.9 653.8L499.9 655.5M503.1 661.3L500.5 655.5M503.1 661.3L501.6 661.6M501.6 661.6L501.3 661.4M500.5 655.5L499.9 655.5M511.4 678.1L508.5 680.0M511.4 678.1L511.1 677.2M511.1 677.2L509.3 676.9M509.3 676.9L507.5 678.4M507.5 678.4L508.5 680.0M513.1 680.0L511.4 678.1M508.7 681.9L508.5 680.0M512.2 674.8L511.1 677.2M508.1 675.0L509.3 676.9M508.1 675.0L510.8 673.2M505.8 678.2L507.5 678.4M507.4 674.7L508.1 675.0M510.5 662.7L510.2 664.8M510.5 662.7L506.3 659.2M506.3 659.2L504.6 660.2M509.6 664.8L510.2 664.8M509.6 664.8L504.0 660.9M504.0 660.9L504.6 660.2M511.6 661.1L510.5 662.7M511.6 661.1L511.9 658.6M506.7 658.8L511.9 658.6M506.7 658.8L506.3 659.2M503.4 656.5L504.6 660.2M506.2 654.8L505.0 654.5M506.2 654.8L507.0 656.1M507.0 656.1L506.7 658.8M503.2 661.3L504.0 660.9M503.2 661.3L504.2 665.9M508.9 665.4L504.2 665.9M508.9 665.4L509.6 664.8M503.2 661.3L503.1 661.3M502.1 655.3L501.1 655.1M501.1 655.1L500.5 655.5M512.2 665.6L510.8 665.2M512.2 665.6L512.7 667.0M512.7 667.0L511.3 669.6M510.8 665.2L510.2 668.9M510.2 668.9L511.3 669.6M511.6 661.1L515.4 663.4M515.4 663.4L515.7 664.3M515.7 664.3L512.2 665.6M510.2 664.8L510.8 665.2M516.5 664.6L515.7 664.3M513.6 668.3L512.7 667.0M511.9 670.4L511.3 669.6M507.0 656.1L509.7 654.7M509.7 654.7L512.8 657.2M511.9 658.6L512.7 657.8M512.8 657.2L512.7 657.8M509.7 653.6L509.7 654.7M514.5 654.3L514.3 654.9M512.8 657.2L514.3 654.9M515.4 663.4L515.3 659.4M512.7 657.8L515.3 659.4M521.1 660.4L520.8 660.0M520.8 660.0L516.6 659.2M516.6 659.2L515.4 659.4M515.3 659.4L515.4 659.4M508.9 665.4L508.0 667.4M510.2 668.9L508.8 669.4M508.0 667.4L508.8 669.4M510.5 672.4L507.9 671.0M508.8 669.4L507.9 671.0M506.1 672.1L505.7 672.7M506.1 672.1L507.5 671.0M507.9 671.0L507.5 671.0M506.1 672.1L503.7 668.3M503.7 668.3L502.7 671.6M504.0 673.4L503.1 672.9M502.7 671.6L503.1 672.9M497.5 675.6L498.6 674.5M497.5 675.6L497.9 676.7M497.9 676.7L499.8 675.6M498.6 674.5L499.8 675.6M496.0 672.5L498.4 671.7M496.8 675.5L497.5 675.6M498.8 672.3L498.4 671.7M498.8 672.3L498.6 674.5M497.9 676.8L497.9 676.7M500.7 676.3L500.9 676.5M500.7 676.3L499.8 675.6M507.2 651.9L506.7 651.3M507.2 651.9L508.7 652.2M508.7 652.2L509.5 648.7M506.7 651.3L507.2 648.0M507.2 648.0L509.5 648.7M506.2 651.3L503.7 652.7M506.2 651.3L506.7 651.3M506.2 654.8L507.2 651.9M503.7 652.7L504.2 653.9M509.4 652.5L508.7 652.2M512.7 649.9L512.6 649.7M512.6 649.7L510.2 648.7M510.2 648.7L509.5 648.7M522.2 653.4L522.2 653.4M520.8 659.5L519.7 656.5M520.8 659.5L523.5 654.8M523.5 654.8L522.2 653.4M520.8 659.5L520.8 660.0M525.5 657.8L524.0 655.1M523.5 654.8L524.0 655.1M518.5 650.9L520.7 650.4M520.7 650.4L522.4 651.7M522.2 653.4L522.4 651.7M526.7 642.6L527.2 644.1M530.2 643.3L527.4 644.3M527.2 644.1L527.4 644.3M528.9 651.4L530.5 649.9M528.9 651.4L529.5 653.3M529.9 653.3L533.4 652.4M529.9 653.3L529.5 653.3M530.5 649.9L533.7 650.9M533.4 652.4L533.7 650.9M534.0 653.6L533.4 652.4M532.4 655.5L529.9 653.3M528.3 655.4L528.3 655.1M528.3 655.1L529.5 653.3M534.8 649.8L533.7 650.9M530.8 647.1L530.6 647.2M530.6 647.2L530.5 649.9M520.9 644.9L521.4 645.7M520.9 644.9L518.9 645.6M521.4 645.7L519.3 646.7M518.8 646.1L518.9 645.6M518.8 646.1L519.2 646.7M519.2 646.7L519.3 646.7M518.6 642.0L518.9 645.6M521.2 643.1L520.9 644.9M516.1 646.2L516.1 646.5M516.1 646.2L518.8 646.1M517.6 648.5L519.2 646.7M520.7 650.4L520.8 648.6M520.8 648.6L519.3 646.7M521.5 673.2L525.2 673.6M521.5 673.2L521.2 673.8M521.2 673.8L524.7 676.7M525.2 673.6L524.7 676.7M526.0 673.1L525.2 673.6M520.9 670.8L521.5 673.2M519.6 676.3L521.2 673.8M524.7 677.3L524.7 676.7M619.5 486.9L619.2 485.3M619.5 486.9L620.5 486.5M619.2 485.3L621.2 484.9M620.5 486.5L622.0 485.1M621.2 484.9L621.9 484.9M621.9 484.9L622.0 485.1M619.4 487.2L619.5 486.9M617.4 484.0L619.2 485.3M622.1 488.6L620.5 486.5M619.2 483.5L621.2 484.9M622.1 485.2L622.0 485.1M621.8 483.4L621.9 484.9M558.8 478.7L558.0 475.5M558.8 478.7L560.7 478.8M564.1 472.7L561.5 470.7M558.0 475.5L561.5 470.7M575.2 524.0L572.5 527.8M575.2 524.0L568.8 519.5M568.8 519.5L568.8 519.6M572.5 527.8L571.7 528.0M571.7 528.0L568.8 519.6M562.0 542.7L561.4 542.2M562.0 542.7L563.9 542.1M561.4 542.2L560.6 539.1M563.9 542.1L562.0 538.7M562.0 538.7L560.6 539.1M560.7 547.1L562.0 542.7M558.3 542.6L561.4 542.2M565.2 542.3L563.9 542.1M557.7 538.5L557.8 538.5M557.8 538.5L560.6 539.1M561.9 513.2L559.9 514.9M561.9 513.2L564.3 514.3M564.3 514.3L566.9 518.5M566.9 518.5L559.0 517.2M559.9 514.9L558.8 516.9M558.8 516.9L559.0 517.2M554.6 496.6L554.4 497.3M558.9 501.4L554.7 497.7M554.4 497.3L554.7 497.7M554.8 495.0L546.0 489.8M546.0 489.8L538.5 493.6M538.5 493.6L552.8 497.9M554.4 497.3L552.8 497.9M559.0 517.7L553.8 524.7M559.0 517.7L560.2 519.9M560.2 520.0L560.2 519.9M560.2 520.0L557.7 527.5M557.3 528.0L557.7 527.5M557.3 528.0L554.5 526.5M554.5 526.5L553.8 524.7M567.7 519.3L560.2 519.9M567.7 519.3L566.9 518.5M559.0 517.2L559.0 517.7M564.2 523.2L565.0 523.2M564.2 523.2L560.2 520.0M567.7 519.3L568.2 519.6M565.0 523.2L568.2 519.6M564.2 523.2L557.7 527.5M551.9 541.9L552.9 543.5M551.9 541.9L551.6 541.5M551.6 541.5L549.2 544.8M552.9 543.5L550.2 544.7M550.2 544.7L549.3 545.0M549.3 545.0L549.2 544.8M555.5 540.8L551.9 541.9M553.2 543.8L552.9 543.5M556.6 538.8L550.0 537.7M549.9 538.4L551.6 541.5M545.8 543.0L546.2 541.9M545.8 543.0L549.2 544.8M553.1 545.1L550.2 544.7M550.5 548.7L549.3 545.0M542.7 546.0L545.8 543.0M512.4 501.3L512.0 500.2M512.4 501.3L510.5 503.5M505.2 504.0L508.6 504.6M510.5 503.5L508.6 504.6M520.3 539.8L525.3 536.7M517.5 532.9L524.0 531.4M525.3 536.7L526.3 535.0M524.0 531.4L526.3 535.0M552.8 523.4L553.8 524.7M552.8 523.4L551.2 519.2M558.8 516.9L553.9 516.4M551.2 519.2L553.9 516.4M506.8 528.4L508.8 518.6M515.2 530.1L510.2 518.7M510.2 518.7L508.8 518.6M503.6 515.7L504.6 516.1M508.8 518.6L504.6 516.1M508.6 504.6L513.0 508.0M504.6 516.1L513.0 508.0M528.0 547.9L529.4 542.1M530.6 546.0L531.0 542.2M531.0 542.2L529.4 542.1M526.3 547.5L528.8 541.8M529.4 542.1L528.8 541.8M522.4 542.9L527.4 541.1M528.8 541.8L527.4 541.1M525.3 536.7L528.0 539.3M527.4 541.1L528.0 539.3M531.0 542.2L532.5 541.5M528.5 538.8L528.0 539.3M528.5 538.8L529.9 539.1M529.9 539.1L532.5 541.5M534.5 542.8L533.9 541.3M533.9 541.3L532.5 541.5M540.4 538.0L540.3 535.2M540.4 538.0L539.7 539.2M539.7 539.2L534.3 540.4M540.1 534.7L533.4 537.1M540.1 534.7L540.3 535.2M534.3 540.4L533.4 537.1M540.3 535.2L540.3 535.2M543.4 539.0L540.4 538.0M545.5 537.1L540.3 535.2M541.4 546.0L539.7 539.2M533.9 541.3L534.3 540.4M545.1 534.9L540.3 535.2M545.7 532.1L541.6 532.2M541.6 532.2L540.0 534.4M540.0 534.4L540.1 534.7M503.7 469.8L506.5 470.3M509.9 481.1L509.1 475.7M506.5 470.3L509.1 475.7M532.6 494.4L525.9 495.9M532.6 494.4L535.0 494.9M535.0 494.9L529.3 503.1M525.9 495.9L524.1 501.3M524.1 501.3L523.8 504.5M523.8 504.5L529.3 503.1M542.3 465.4L540.8 457.7M542.3 465.4L541.0 467.0M539.2 457.1L537.7 457.3M537.7 457.3L533.1 462.7M541.0 467.0L533.1 462.7M557.3 489.3L554.8 485.9M546.0 489.8L548.1 486.2M548.1 486.2L554.8 485.9M558.8 478.7L555.4 480.2M554.8 485.9L555.4 480.2M559.8 465.7L560.8 466.3M559.8 465.7L555.0 468.5M560.8 466.3L560.6 469.8M560.6 469.8L557.3 470.9M555.0 468.5L557.3 470.9M564.2 459.9L556.7 463.1M556.7 463.1L559.8 465.7M566.2 462.8L560.8 466.3M561.5 470.7L560.6 469.8M556.4 472.3L558.0 475.5M556.4 472.3L557.3 470.9M594.1 515.3L590.9 515.1M589.7 511.6L589.7 512.3M589.7 512.3L590.9 515.1M589.1 519.8L589.7 516.7M592.8 519.5L590.6 515.7M589.7 516.7L590.6 515.7M589.1 519.9L585.5 516.9M589.7 516.7L585.5 516.9M590.6 515.7L590.9 515.1M577.1 522.6L579.3 522.7M577.1 522.6L572.8 517.4M579.3 522.7L577.9 518.2M577.9 518.2L572.8 517.4M575.8 491.7L577.0 492.8M584.0 489.7L579.0 492.7M577.0 492.8L579.0 492.7M569.8 496.7L570.3 497.4M565.8 502.2L567.7 503.7M570.3 497.4L567.7 503.7M570.3 497.4L575.5 502.2M567.7 503.7L568.2 504.3M575.5 502.2L568.2 504.3M494.2 652.1L494.8 651.8M494.2 652.1L492.6 650.3M494.8 651.8L493.8 649.7M492.6 650.3L493.0 649.5M493.8 649.7L493.4 649.4M493.0 649.5L493.4 649.4M494.1 652.3L494.2 652.1M495.9 651.8L494.8 651.8M490.7 651.6L492.6 650.3M495.4 649.9L493.8 649.7M492.3 648.9L493.0 649.5M494.8 647.4L493.4 649.4M498.3 651.6L501.3 654.3M498.3 651.6L500.1 651.6M500.1 651.6L500.8 651.9M500.8 651.9L501.5 653.8M501.5 653.8L501.3 654.3M498.2 651.6L498.3 651.6M501.1 655.1L501.3 654.3M503.5 652.8L501.3 651.8M503.5 652.8L501.5 653.8M501.3 651.8L500.8 651.9M503.5 652.8L503.7 652.7M503.7 652.7L503.7 652.7M501.2 648.7L501.4 649.6M501.2 648.7L503.9 649.0M501.4 649.6L502.7 650.7M503.8 650.0L503.1 650.7M503.8 650.0L503.9 649.0M503.1 650.7L502.7 650.7M500.8 648.2L501.2 648.7M500.1 651.6L501.4 649.6M502.6 644.9L505.6 646.1M505.6 646.1L503.9 649.0M501.3 651.8L502.7 650.7M503.7 652.7L503.1 650.7M506.2 651.3L503.8 650.0M505.6 646.1L506.1 646.1M506.1 646.1L507.2 648.0M516.4 657.3L516.6 656.3M516.4 657.3L517.1 656.9M516.6 656.3L517.3 656.5M517.1 656.9L517.3 656.5M514.3 654.9L516.6 656.3M515.4 659.4L516.4 657.3M516.6 659.2L517.1 656.9M519.2 656.2L517.3 656.5M506.8 669.5L506.6 667.8M506.8 669.5L503.6 667.9M506.6 667.8L504.1 666.8M504.1 666.8L503.5 667.6M503.5 667.6L503.6 667.9M508.0 667.4L506.6 667.8M507.5 671.0L506.8 669.5M503.7 668.3L503.6 667.9M504.2 665.9L504.1 666.8M501.6 661.6L498.9 664.8M498.9 664.8L503.5 667.6M503.5 667.6L503.5 667.6M503.5 667.6L500.3 669.1M500.3 669.1L502.7 671.6M498.9 664.8L498.5 665.1M500.3 669.1L500.2 669.2M500.2 669.2L498.5 665.1M496.5 664.4L497.1 665.3M498.5 665.1L497.1 665.3M494.7 665.9L496.6 665.8M496.6 665.8L497.1 665.3M500.8 675.3L501.6 673.0M500.8 675.3L499.6 672.5M499.6 672.5L501.6 673.0M500.7 676.3L500.8 675.3M503.1 672.9L501.6 673.0M498.8 672.3L499.6 672.5M510.4 645.5L513.0 645.4M510.4 645.5L507.5 644.5M507.5 644.5L507.6 644.2M507.6 644.2L513.5 642.2M513.0 645.4L514.0 644.2M514.0 644.2L514.2 642.7M514.2 642.7L513.5 642.2M512.6 649.7L513.0 645.4M510.2 648.7L510.4 645.5M506.1 646.1L507.5 644.5M507.5 641.9L507.6 644.2M510.7 638.7L513.5 642.2M516.1 646.2L514.0 644.2M517.9 641.0L514.2 642.7M526.3 654.0L525.9 654.0M526.3 654.0L526.8 651.0M525.9 654.0L524.2 651.0M526.8 651.0L524.6 650.7M524.6 650.7L524.2 651.0M528.3 655.1L526.3 654.0M524.0 655.1L525.9 654.0M528.0 650.9L528.9 651.4M528.0 650.9L526.8 651.0M522.4 651.7L524.2 651.0M523.1 645.7L523.2 644.0M523.1 645.7L523.6 646.7M523.6 646.7L526.4 644.2M523.2 644.0L526.4 644.2M522.9 643.3L523.2 644.0M521.4 645.7L523.1 645.7M520.8 648.6L523.6 646.7M523.6 646.7L523.6 646.7M527.2 644.1L526.4 644.2M523.6 646.7L524.7 647.5M524.6 650.7L524.9 648.0M524.9 648.0L524.7 647.5M527.4 644.3L527.5 645.6M524.7 647.5L527.5 645.6M530.6 647.2L528.7 647.0M528.7 647.0L527.5 645.6M571.7 528.0L569.1 530.8M565.0 523.2L566.9 529.5M568.8 519.6L568.2 519.6M566.9 529.5L569.1 530.8M557.3 528.0L558.2 529.8M566.9 529.5L558.2 529.8M570.4 533.3L569.4 532.5M574.6 528.5L572.5 527.8M569.4 532.5L569.1 530.8M548.6 529.6L554.5 526.5M548.6 529.6L548.4 530.6M550.3 536.0L558.1 531.7M558.2 529.8L558.1 531.7M557.8 538.5L558.2 532.2M558.1 531.7L558.2 532.2M548.2 529.2L547.1 524.5M548.2 529.2L541.9 526.9M547.1 524.5L541.4 526.1M541.9 526.9L541.4 526.1M548.6 529.6L548.2 529.2M552.8 523.4L547.3 524.0M547.3 524.0L547.1 524.5M541.6 532.2L541.9 526.9M541.4 518.2L547.1 517.6M541.4 518.2L540.1 520.3M540.1 520.3L540.7 522.1M540.7 522.1L546.8 522.9M546.8 522.9L548.6 518.6M548.6 518.6L547.1 517.6M547.3 524.0L546.8 522.9M540.8 525.6L541.4 526.1M540.8 525.6L540.7 522.1M551.2 519.2L548.6 518.6M529.9 539.1L533.0 537.0M533.4 537.1L533.2 536.9M533.0 537.0L533.2 536.9M528.5 538.8L528.8 537.7M533.0 537.0L528.8 537.7M526.3 535.0L528.1 535.0M528.8 537.7L528.1 535.0M529.3 530.1L529.5 534.2M529.3 530.1L533.6 528.4M535.1 530.7L534.6 529.1M535.1 530.7L532.7 535.2M532.7 535.2L529.5 534.2M533.6 528.4L534.6 529.1M524.0 531.4L525.9 529.1M525.9 529.1L529.3 530.1M528.1 535.0L529.5 534.2M531.8 523.4L533.6 528.4M528.3 524.7L525.6 527.0M525.6 527.0L525.9 529.1M540.8 525.6L534.6 529.1M540.0 534.4L535.1 530.7M533.2 536.9L532.7 535.2M532.8 519.9L540.1 520.3M532.8 519.9L531.9 522.9M560.8 503.8L561.2 507.7M561.2 507.7L557.9 508.4M559.1 501.8L556.0 505.6M556.0 505.6L557.9 508.4M533.5 514.8L534.5 512.7M533.5 514.8L540.8 514.9M534.5 512.7L540.8 514.1M540.8 514.9L540.8 514.1M529.6 510.7L533.4 514.9M529.6 510.7L535.0 507.5M533.4 514.9L533.5 514.8M535.0 507.5L534.5 512.7M532.8 519.9L532.0 518.8M532.0 518.8L533.4 514.9M541.4 518.2L540.8 514.9M522.5 515.5L521.2 514.1M522.5 515.5L523.0 519.0M521.2 514.1L516.2 517.2M516.2 517.2L518.3 527.1M523.0 519.0L522.9 524.7M518.3 527.1L522.9 524.7M526.1 522.1L523.0 519.0M532.0 518.8L522.5 515.5M516.3 530.6L518.3 527.1M510.2 518.7L516.2 517.2M525.6 527.0L522.9 524.7M521.3 513.7L514.1 508.0M521.3 513.7L522.5 511.6M522.5 511.6L522.7 510.1M514.1 508.0L515.1 503.8M522.7 510.1L522.6 509.2M522.6 509.2L517.6 502.3M515.1 503.8L516.3 502.1M517.6 502.3L516.9 501.7M516.9 501.7L516.3 502.1M513.0 508.0L514.1 508.0M521.2 514.1L521.3 513.7M529.6 510.7L522.5 511.6M510.5 503.5L515.1 503.8M524.1 501.3L517.6 502.3M523.8 504.5L522.6 509.2M512.4 501.3L516.3 502.1M517.2 499.1L516.9 501.7M525.3 495.7L525.9 495.9M533.4 506.9L528.4 505.6M533.4 506.9L526.1 507.8M526.1 507.8L528.4 505.6M535.3 507.1L535.0 507.5M535.3 507.1L533.4 506.9M522.7 510.1L526.1 507.8M529.3 503.1L528.4 505.6M553.4 463.5L549.3 462.9M553.4 463.5L555.0 462.2M555.0 462.0L555.0 462.2M555.0 462.0L550.9 458.2M549.3 462.9L547.4 457.1M550.9 458.2L547.4 457.1M550.2 470.3L545.0 465.5M550.2 470.3L553.1 467.1M545.0 465.5L549.3 462.9M553.1 467.1L553.4 463.5M556.7 463.1L555.0 462.2M553.1 467.1L555.0 468.5M555.8 460.2L555.0 462.0M552.9 456.2L550.9 458.2M542.3 465.4L545.0 465.5M547.3 457.0L547.4 457.1M540.9 473.0L541.0 473.4M540.9 473.0L534.5 474.9M533.5 479.8L534.5 474.9M533.5 479.8L536.0 482.8M541.0 473.4L540.1 478.7M540.1 478.7L536.0 482.8M548.1 486.2L546.7 482.7M555.4 480.2L553.6 479.1M553.6 479.1L549.0 479.8M549.0 479.8L546.7 482.7M534.3 456.0L532.7 455.7M534.3 456.0L534.0 449.0M532.7 455.7L530.9 452.0M530.9 452.0L531.7 450.5M531.7 450.5L534.0 449.0M536.0 447.1L534.0 449.0M537.7 457.3L534.3 456.0M528.0 447.7L531.7 450.5M532.7 455.7L529.7 457.3M530.9 452.0L526.7 452.5M529.7 457.3L526.7 452.5M519.5 450.9L521.2 452.1M509.1 457.7L513.0 462.5M513.0 462.5L521.6 456.0M521.6 456.0L521.2 452.1M526.6 448.4L523.8 451.5M526.7 452.5L523.8 451.5M523.8 451.5L521.2 452.1M585.1 516.8L584.1 515.6M585.1 516.8L585.5 523.2M585.5 523.2L581.5 524.0M584.1 515.6L582.4 515.0M581.5 524.0L580.5 523.0M580.5 523.0L581.8 515.6M581.8 515.6L582.0 515.2M582.4 515.0L582.0 515.2M589.7 512.3L584.1 515.6M585.5 516.9L585.1 516.8M586.1 523.3L585.5 523.2M580.8 527.4L581.5 524.0M575.2 524.0L577.1 522.6M579.3 522.7L580.5 523.0M577.9 518.2L578.5 517.4M578.5 517.4L581.8 515.6M578.2 513.9L576.0 515.4M578.2 513.9L582.0 515.2M578.5 517.4L576.0 515.4M575.9 508.3L574.9 509.0M575.9 508.3L576.9 506.9M574.9 509.0L568.0 505.4M575.5 502.2L575.7 502.3M568.0 505.4L568.2 504.3M576.9 506.9L575.7 502.3M577.8 499.5L577.0 492.8M577.8 499.5L576.8 501.0M576.8 501.0L575.7 502.3M582.4 514.8L583.3 512.4M582.4 514.8L578.1 507.2M583.3 512.4L581.2 507.3M578.1 507.2L581.2 507.3M589.4 510.2L587.3 509.0M587.3 509.0L583.3 512.4M582.4 515.0L582.4 514.8M578.2 513.9L575.9 508.3M576.9 506.9L578.1 507.2M577.8 499.5L579.6 499.2M583.3 503.4L576.8 501.0M583.3 503.4L581.1 499.0M581.1 499.0L579.6 499.2M579.0 492.7L582.1 494.4M579.6 499.2L582.1 494.4M576.0 515.4L573.0 516.7M574.9 509.0L574.3 509.5M574.3 509.5L573.0 516.7M568.8 519.5L571.1 517.5M564.3 514.3L565.5 513.6M565.5 513.6L567.0 513.8M567.0 513.8L569.7 514.4M569.7 514.4L571.1 517.5M572.8 517.4L572.6 517.2M571.1 517.5L572.6 517.2M572.6 517.2L573.0 516.7M498.5 671.0L498.6 670.7M498.5 671.0L494.3 669.3M498.6 670.7L496.2 667.8M494.3 669.3L496.2 667.8M498.4 671.7L498.5 671.0M500.2 669.2L498.6 670.7M490.8 670.9L494.3 669.3M496.6 665.8L496.2 667.8M527.8 649.7L527.8 648.3M527.8 649.7L525.0 648.0M525.0 648.0L527.8 648.3M528.0 650.9L527.8 649.7M528.7 647.0L527.8 648.3M524.9 648.0L525.0 648.0M567.5 536.2L565.9 537.7M567.5 536.2L568.4 533.7M568.4 533.7L562.2 534.8M565.9 537.7L565.1 538.2M565.1 538.2L563.0 537.9M563.0 537.9L562.2 534.8M568.9 539.3L567.5 536.2M567.6 540.6L565.9 537.7M569.4 532.5L568.4 533.7M558.2 532.2L562.2 534.8M565.3 542.1L565.1 538.2M562.0 538.7L563.0 537.9M535.8 494.9L536.6 496.8M535.8 494.9L536.4 494.2M538.5 493.6L536.4 494.2M552.8 497.9L548.8 501.4M548.8 501.4L536.6 496.8M554.7 497.7L553.4 505.1M556.0 505.6L553.7 505.4M553.4 505.1L553.7 505.4M535.3 507.1L536.8 505.6M540.8 514.1L541.3 511.3M536.8 505.6L541.3 511.3M535.8 494.9L535.0 494.9M536.6 496.8L537.4 501.8M536.8 505.6L537.4 501.8M515.2 484.1L520.1 480.4M532.6 494.4L523.9 481.4M520.1 480.4L523.9 481.4M521.4 462.9L513.4 463.8M521.4 462.9L521.8 467.5M513.4 463.8L513.3 465.6M521.8 467.5L513.3 465.6M509.1 475.7L515.7 471.4M520.2 477.4L520.1 480.4M520.2 477.4L519.3 474.9M519.3 474.9L515.7 471.4M506.5 470.3L513.0 466.6M515.7 471.4L513.0 466.6M513.0 462.5L513.4 463.8M513.0 466.6L513.3 465.6M548.1 473.0L548.3 473.9M548.1 473.0L550.2 470.6M548.3 473.9L553.2 477.6M550.2 470.6L553.7 473.2M553.7 473.2L553.2 477.6M540.9 473.0L541.1 472.6M541.1 472.6L548.1 473.0M541.0 473.4L544.1 477.4M544.1 477.4L547.6 477.2M547.6 477.2L548.3 473.9M541.1 472.6L540.9 467.3M550.2 470.3L550.2 470.6M541.0 467.0L540.9 467.3M553.6 479.1L553.2 477.6M547.6 477.2L549.0 479.8M556.4 472.3L553.7 473.2M542.5 480.3L537.1 485.9M542.5 480.3L544.0 480.2M544.0 480.2L545.9 482.4M545.9 482.4L537.2 486.1M537.2 486.1L537.1 485.9M540.1 478.7L542.5 480.3M536.0 482.8L537.1 485.9M544.1 477.4L544.0 480.2M546.7 482.7L545.9 482.4M536.4 494.2L537.2 486.1M533.5 479.8L525.5 480.8M523.9 481.4L525.5 480.8M529.7 457.3L528.1 460.1M521.6 456.0L523.7 459.5M528.1 460.1L523.7 459.5M533.1 462.7L530.8 463.7M528.1 460.1L530.8 463.7M521.4 462.9L523.0 461.3M523.0 461.3L523.7 459.5M583.8 503.7L583.0 506.6M583.8 503.7L585.3 502.4M585.3 502.4L588.4 502.7M586.8 508.3L583.0 506.6M586.8 508.3L588.4 502.7M588.4 502.7L588.4 502.7M583.3 503.4L583.8 503.7M581.2 507.3L583.0 506.6M587.3 509.0L586.8 508.3M593.0 504.9L588.4 502.7M589.7 498.2L588.4 502.7M581.3 499.0L582.7 494.5M581.3 499.0L583.7 499.0M584.0 498.7L584.4 495.5M584.0 498.7L583.7 499.0M584.4 495.5L583.5 494.5M583.5 494.5L582.7 494.5M581.1 499.0L581.3 499.0M582.1 494.4L582.7 494.5M585.3 502.4L583.7 499.0M589.5 497.8L584.0 498.7M589.0 495.0L584.4 495.5M585.5 490.1L583.5 494.5M570.8 510.1L569.4 512.0M570.8 510.1L567.5 506.8M569.4 512.0L567.8 511.6M567.8 511.6L567.2 511.3M567.2 511.3L565.2 508.4M565.2 508.4L567.5 506.8M574.3 509.5L570.8 510.1M569.7 514.4L569.4 512.0M568.0 505.4L567.5 506.8M567.0 513.8L567.8 511.6M565.5 513.6L567.2 511.3M562.4 508.9L561.9 513.2M562.4 508.9L565.2 508.4M562.4 508.9L561.2 507.7M548.2 504.7L541.0 503.0M548.2 504.7L548.6 506.2M541.0 503.0L548.1 508.4M548.6 506.2L548.1 508.4M548.8 501.4L548.2 504.7M537.4 501.8L538.0 502.0M538.0 502.0L541.0 503.0M553.4 505.1L548.6 506.2M538.0 502.0L547.7 509.7M548.1 508.4L547.9 509.6M547.9 509.6L547.7 509.7M541.3 511.3L547.6 509.8M547.6 509.8L547.7 509.7M547.1 517.6L547.8 513.2M547.6 509.8L547.8 513.2M553.9 516.4L553.7 515.5M547.8 513.2L553.7 515.5M554.1 508.1L551.2 510.4M554.1 508.1L556.9 509.1M556.4 511.0L556.9 509.1M556.4 511.0L553.5 512.7M553.5 512.7L551.2 510.4M553.7 505.4L554.1 508.1M547.9 509.6L551.2 510.4M557.9 508.4L556.9 509.1M559.9 514.9L556.4 511.0M553.7 515.5L553.5 512.7M540.9 467.3L539.5 467.5M530.8 463.7L530.7 464.5M530.7 464.5L530.8 464.7M539.5 467.5L530.8 464.7M527.5 469.9L528.3 466.6M527.5 469.9L522.0 468.6M528.3 466.6L525.5 465.8M525.5 465.8L521.8 467.6M521.8 467.6L522.0 468.6M520.2 477.4L527.7 471.2M527.7 471.2L527.5 469.9M519.3 474.9L522.0 468.6M523.0 461.3L525.5 465.8M530.7 464.5L528.3 466.6M521.8 467.5L521.8 467.6M534.1 468.8L533.0 468.1M534.1 468.8L534.4 474.8M533.0 468.1L529.7 472.4M534.4 474.8L530.3 473.0M530.3 473.0L529.7 472.4M539.5 467.5L534.1 468.8M530.8 464.7L533.0 468.1M534.5 474.9L534.4 474.8M527.7 471.2L529.7 472.4M525.5 480.8L530.3 473.0" fill="none" stroke="#fcf5e1" stroke-width="1.1"/>
<path d="M365.3 426.2L370.4 427.4L369.8 432.4L364.9 433.0L363.6 430.3Z" fill="#f08a6c"/><path d="M414.3 399.5L411.8 402.5L410.2 402.6L409.2 399.9L410.1 396.8L412.6 396.7Z" fill="#7e1610"/><path d="M430.2 402.6L430.3 406.7L425.5 409.3L421.0 405.8L424.9 400.9Z" fill="#9c2a1c"/><path d="M456.5 404.7L452.8 406.8L447.2 402.5L450.1 392.4L456.4 396.3Z" fill="#f08a6c"/><path d="M435.5 417.0L435.4 411.1L448.3 409.3L449.7 417.9L442.1 422.0Z" fill="#f08a6c"/><path d="M462.4 424.2L451.7 428.7L446.3 422.7L452.2 413.5L461.5 416.3Z" fill="#b9412e"/><path d="M466.6 421.1L469.1 425.2L468.7 431.4L466.3 434.6L462.4 429.1L462.5 425.5Z" fill="#9c2a1c"/><path d="M410.0 429.2L420.5 426.2L423.5 434.0L418.0 440.5L410.4 438.0Z" fill="#f08a6c"/><path d="M422.7 370.7L421.1 376.4L414.3 375.0L415.1 367.8L418.2 366.3Z" fill="#f08a6c"/><path d="M400.4 490.0L393.0 489.2L390.6 482.0L392.6 469.5L400.8 468.4L404.1 479.3Z" fill="#f08a6c"/><path d="M380.0 504.5L382.5 493.6L391.7 495.6L390.5 507.5L386.0 510.0Z" fill="#f08a6c"/><path d="M534.3 437.6L529.8 435.0L530.6 423.6L536.8 423.3L540.8 429.8Z" fill="#7e1610"/><path d="M541.0 421.9L545.7 420.8L550.0 422.6L549.1 428.6L544.7 429.2L540.0 427.8Z" fill="#b9412e"/><path d="M580.4 429.3L579.1 436.4L575.5 437.6L572.8 435.1L572.8 428.1L577.2 426.7Z" fill="#b9412e"/><path d="M497.7 400.3L498.2 396.3L502.7 395.4L505.3 399.7L502.8 401.3Z" fill="#9c2a1c"/><path d="M524.0 403.4L516.3 405.6L510.4 402.3L511.9 397.3L515.5 396.3L524.7 398.8Z" fill="#9c2a1c"/><path d="M533.5 387.0L534.9 389.6L534.2 394.3L530.6 396.3L529.0 393.6L530.4 387.0Z" fill="#9c2a1c"/><path d="M546.4 406.0L545.0 401.4L552.1 398.0L556.0 401.6L551.0 407.3Z" fill="#b9412e"/><path d="M513.6 473.9L514.6 482.7L512.7 485.7L507.8 480.4L508.9 476.0Z" fill="#7e1610"/><path d="M529.8 475.3L530.9 468.5L534.0 468.0L535.7 471.0L534.9 476.9L530.7 478.0Z" fill="#9c2a1c"/><path d="M554.2 484.9L559.3 491.0L558.0 494.6L550.1 495.0L549.2 489.1Z" fill="#b9412e"/><path d="M538.5 457.0L535.2 456.9L533.0 454.0L534.2 452.0L539.3 452.5L540.0 454.8Z" fill="#7e1610"/><path d="M489.8 465.5L491.2 465.5L492.7 468.7L490.2 469.7L488.4 467.8Z" fill="#7e1610"/><path d="M513.0 509.9L505.7 512.7L502.0 508.4L503.3 502.4L511.5 501.7Z" fill="#f08a6c"/><path d="M520.5 518.3L515.8 526.2L504.5 523.5L506.5 512.6L512.7 511.0Z" fill="#b9412e"/><path d="M554.1 519.4L558.5 520.2L558.5 522.3L552.5 523.6L550.0 522.2L551.3 519.7Z" fill="#f08a6c"/><path d="M563.8 547.4L566.7 547.3L567.8 550.0L566.1 552.3L563.7 551.9L562.7 550.2Z" fill="#f08a6c"/><path d="M569.3 548.0L568.6 546.9L568.7 544.9L571.3 544.7L572.0 545.6L571.5 547.8Z" fill="#7e1610"/><path d="M540.8 574.6L540.0 578.2L535.2 579.3L532.3 575.3L535.3 572.6L538.5 572.9Z" fill="#f08a6c"/><path d="M549.2 571.7L550.9 574.7L549.6 576.8L546.2 575.6L545.8 572.9Z" fill="#b9412e"/><path d="M506.2 609.0L514.3 605.8L519.7 610.9L517.9 615.4L509.1 616.2Z" fill="#b9412e"/><path d="M502.7 627.3L502.0 637.1L496.0 639.0L491.6 633.5L494.1 625.7L500.0 624.3Z" fill="#f08a6c"/><path d="M525.9 623.6L532.0 622.8L533.7 629.6L531.1 633.9L525.6 630.4Z" fill="#f08a6c"/><path d="M462.1 614.2L461.0 617.1L456.6 617.7L455.4 614.7L456.6 611.3L459.0 611.0Z" fill="#9c2a1c"/><path d="M523.4 658.9L522.5 662.8L519.5 664.2L516.7 661.8L516.7 658.1L522.2 656.8Z" fill="#9c2a1c"/><path d="M521.9 663.9L525.2 662.7L530.8 668.2L527.2 671.6L522.0 670.2Z" fill="#f08a6c"/><path d="M513.6 684.1L511.6 682.1L514.8 680.4L518.0 680.7L518.2 684.0Z" fill="#b9412e"/><path d="M554.2 586.5L554.4 590.6L550.3 591.8L547.0 588.4L548.9 586.0Z" fill="#b9412e"/><path d="M590.6 508.4L592.2 510.7L591.3 512.3L589.3 512.7L588.0 510.7L589.2 508.8Z" fill="#b9412e"/><path d="M601.5 523.7L603.6 521.0L605.4 521.1L608.3 522.8L605.5 525.2L603.7 525.3Z" fill="#f08a6c"/><path d="M586.6 528.7L585.5 527.7L585.9 526.3L587.0 526.0L588.0 526.7L587.5 528.2Z" fill="#7e1610"/><path d="M621.8 501.9L621.0 504.2L618.6 503.7L618.4 501.2L620.4 500.0Z" fill="#b9412e"/><path d="M604.0 454.6L602.2 456.0L600.0 455.0L601.1 453.0L603.3 453.5Z" fill="#7e1610"/><path d="M606.5 504.0L604.4 503.8L604.0 502.4L605.1 501.0L607.0 501.8Z" fill="#9c2a1c"/><path d="M616.9 495.5L615.2 497.0L614.4 496.5L614.0 494.4L615.7 493.0L617.0 493.9Z" fill="#b9412e"/><path d="M616.9 476.0L616.0 474.6L616.3 472.4L618.0 472.0L619.0 474.2Z" fill="#b9412e"/><path d="M593.0 472.2L592.3 473.6L590.5 474.0L589.0 472.8L589.2 471.5L591.7 471.0Z" fill="#7e1610"/><path d="M567.1 516.0L566.0 514.3L566.4 513.2L568.4 513.0L569.0 514.5L568.0 516.0Z" fill="#7e1610"/><path d="M579.6 518.0L578.0 515.9L578.8 515.0L582.0 515.8L581.7 517.3Z" fill="#9c2a1c"/><path d="M608.7 442.0L606.8 441.7L606.0 439.6L606.8 437.0L609.5 437.1L610.0 440.3Z" fill="#b9412e"/><path d="M615.4 438.0L617.5 438.2L618.0 440.4L616.5 442.0L615.0 440.4Z" fill="#9c2a1c"/><path d="M487.7 365.0L489.0 367.5L488.6 369.0L486.3 368.6L486.0 366.8Z" fill="#b9412e"/><path d="M611.0 485.9L611.4 483.2L612.4 483.0L614.0 483.9L613.8 486.6L611.7 487.0Z" fill="#7e1610"/><path d="M598.1 492.0L596.2 491.6L596.0 489.8L597.4 489.0L599.0 490.6Z" fill="#7e1610"/><path d="M360.3 417L365.3 412.7L372.9 416.1L379.7 408.5L381.4 411L379.7 422L372 423.7L364.5 422Z" fill="#b9412e"/><path d="M391 561L397 559L410 563L422.7 570L408 574L393 575.5L390.5 568Z" fill="#bd4431"/><path d="M391.5 566L401 564.5L398 575L392.5 575Z" fill="#d8604a"/><path d="M500.3 547.3L506 548L514.6 554L512 556.5L503 552Z" fill="#b9412e"/>
</g>
</svg>

<!-- hand button -->
<svg class="a" style="left:828px;top:608px" width="84" height="84" viewBox="0 0 84 84">
  <circle cx="42" cy="41.5" r="39.9" fill="#e8ae28"/>
  <g fill="none" stroke="#2a1810" stroke-width="2.1" stroke-linecap="round" stroke-linejoin="round">
    <path d="M60.2 26 Q45 12.5 28.2 25"/>
    <path d="M28.3 20.8 L27.3 25.8 L32.3 26.2"/>
    <path d="M39.5 46 L25.8 33.4 Q23.4 31.4 21.8 33.6 Q20.5 35.6 22.1 37.5 L40.2 56.3"/>
    <path d="M32.3 38.4 Q34.2 34.8 36.8 35.6 L43.9 42.1"/>
    <path d="M38.6 36.3 Q40.6 32.6 43.3 33.5 L49.2 38.9"/>
    <path d="M45 32.6 Q47.6 30.6 50.6 33 Q58 38.5 60.5 45 Q62.5 53 57.5 59.5 Q52.5 64.8 45 64.2 Q37 63.5 32.5 57.5 L30 53.5 Q29 50.5 30.9 48.6"/>
  </g>
</svg>

<!-- tables -->
<div class="a" style="left:73.1px;top:742.6px;width:60.5px;height:474.9px;background:#eab42b;border-radius:6px"></div>
<div class="a" style="left:73.1px;top:742.6px;width:60.5px;height:37.1px;background:#1e3160;border-radius:6px"></div>
<div class="a" style="left:139.3px;top:742.6px;width:60.5px;height:474.9px;background:#1e3160;border-radius:6px"></div>
<div class="a" style="left:204.6px;top:778.7px;width:262.6px;height:437.5px;background:#f6f6f6;border:1.3px solid #45464d;border-top:none;border-radius:0 0 6px 6px"></div>
<div class="a" style="left:204.6px;top:803px;width:264.6px;height:1.5px;background:#4a4b52"></div>
<div class="a" style="left:204.6px;top:828px;width:264.6px;height:1.5px;background:#4a4b52"></div>
<div class="a" style="left:204.6px;top:852px;width:264.6px;height:1.5px;background:#4a4b52"></div>
<div class="a" style="left:204.6px;top:876px;width:264.6px;height:1.5px;background:#4a4b52"></div>
<div class="a" style="left:204.6px;top:901px;width:264.6px;height:1.5px;background:#4a4b52"></div>
<div class="a" style="left:204.6px;top:925px;width:264.6px;height:1.5px;background:#4a4b52"></div>
<div class="a" style="left:204.6px;top:949px;width:264.6px;height:1.5px;background:#4a4b52"></div>
<div class="a" style="left:204.6px;top:974px;width:264.6px;height:1.5px;background:#4a4b52"></div>
<div class="a" style="left:204.6px;top:998px;width:264.6px;height:1.5px;background:#4a4b52"></div>
<div class="a" style="left:204.6px;top:1022px;width:264.6px;height:1.5px;background:#4a4b52"></div>
<div class="a" style="left:204.6px;top:1047px;width:264.6px;height:1.5px;background:#4a4b52"></div>
<div class="a" style="left:204.6px;top:1071px;width:264.6px;height:1.5px;background:#4a4b52"></div>
<div class="a" style="left:204.6px;top:1095px;width:264.6px;height:1.5px;background:#4a4b52"></div>
<div class="a" style="left:204.6px;top:1120px;width:264.6px;height:1.5px;background:#4a4b52"></div>
<div class="a" style="left:204.6px;top:1144px;width:264.6px;height:1.5px;background:#4a4b52"></div>
<div class="a" style="left:204.6px;top:1168px;width:264.6px;height:1.5px;background:#4a4b52"></div>
<div class="a" style="left:204.6px;top:1193px;width:264.6px;height:1.5px;background:#4a4b52"></div>
<div class="a" style="left:204.6px;top:742.6px;width:265.6px;height:37.1px;background:#1e3160;border-radius:6px 6px 5px 5px"></div>
<div class="a" style="left:505.9px;top:742.6px;width:60.5px;height:474.9px;background:#eab42b;border-radius:6px"></div>
<div class="a" style="left:505.9px;top:742.6px;width:60.5px;height:37.1px;background:#1e3160;border-radius:6px"></div>
<div class="a" style="left:572.1px;top:742.6px;width:60.5px;height:474.9px;background:#1e3160;border-radius:6px"></div>
<div class="a" style="left:637.4px;top:778.7px;width:262.6px;height:437.5px;background:#f6f6f6;border:1.3px solid #45464d;border-top:none;border-radius:0 0 6px 6px"></div>
<div class="a" style="left:637.4px;top:803px;width:264.6px;height:1.5px;background:#4a4b52"></div>
<div class="a" style="left:637.4px;top:828px;width:264.6px;height:1.5px;background:#4a4b52"></div>
<div class="a" style="left:637.4px;top:852px;width:264.6px;height:1.5px;background:#4a4b52"></div>
<div class="a" style="left:637.4px;top:876px;width:264.6px;height:1.5px;background:#4a4b52"></div>
<div class="a" style="left:637.4px;top:901px;width:264.6px;height:1.5px;background:#4a4b52"></div>
<div class="a" style="left:637.4px;top:925px;width:264.6px;height:1.5px;background:#4a4b52"></div>
<div class="a" style="left:637.4px;top:949px;width:264.6px;height:1.5px;background:#4a4b52"></div>
<div class="a" style="left:637.4px;top:974px;width:264.6px;height:1.5px;background:#4a4b52"></div>
<div class="a" style="left:637.4px;top:998px;width:264.6px;height:1.5px;background:#4a4b52"></div>
<div class="a" style="left:637.4px;top:1022px;width:264.6px;height:1.5px;background:#4a4b52"></div>
<div class="a" style="left:637.4px;top:1047px;width:264.6px;height:1.5px;background:#4a4b52"></div>
<div class="a" style="left:637.4px;top:1071px;width:264.6px;height:1.5px;background:#4a4b52"></div>
<div class="a" style="left:637.4px;top:1095px;width:264.6px;height:1.5px;background:#4a4b52"></div>
<div class="a" style="left:637.4px;top:1120px;width:264.6px;height:1.5px;background:#4a4b52"></div>
<div class="a" style="left:637.4px;top:1144px;width:264.6px;height:1.5px;background:#4a4b52"></div>
<div class="a" style="left:637.4px;top:1168px;width:264.6px;height:1.5px;background:#4a4b52"></div>
<div class="a" style="left:637.4px;top:1193px;width:264.6px;height:1.5px;background:#4a4b52"></div>
<div class="a" style="left:637.4px;top:742.6px;width:265.6px;height:37.1px;background:#1e3160;border-radius:6px 6px 5px 5px"></div>

<!-- CLP logo -->
<svg class="a" style="left:760px;top:1232px" width="140" height="80" viewBox="760 1232 140 80">
  <g fill="none" stroke="#26262e" stroke-linecap="round">
    <circle cx="780.8" cy="1242.4" r="2.4" stroke-width="1.1"/>
    <path d="M792.6 1243.4 Q778 1252 774.5 1262 Q772 1268 770.6 1275.8" stroke-width="1.2"/>
    <path d="M771.2 1254.5 L793.8 1266.2 Q790 1256 780.5 1251" stroke-width="1.2"/>
    <path d="M792.6 1243.4 Q784 1245 777.5 1248.5 Q773 1251 771.2 1254.5" stroke-width="1.1"/>
    <path d="M825.2 1248.4 Q819.5 1245.1 808 1245.1 A10.1 10.1 0 0 0 808 1265.3 Q819.5 1265.3 825.2 1262.2" stroke-width="1.9"/>
    <path d="M833.1 1244.4 L833.1 1265.3 L856.2 1265.3" stroke-width="1.9"/>
    <path d="M862.6 1266 L862.6 1245.6 L882.5 1245.6 Q889.6 1245.6 889.6 1251 Q889.6 1256.4 882.5 1256.4 L862.6 1256.4" stroke-width="1.9"/>
  </g>
  <rect x="766.2" y="1290.2" width="128.5" height="17.1" rx="4" fill="#1e3160"/>
  <g fill="none" stroke="#f4f4f8" stroke-width="1.3">
    <rect x="774" y="1293.6" width="11" height="10.6" rx="2.8"/>
    <circle cx="779.5" cy="1298.9" r="2.6"/>
  </g>
  <circle cx="782.6" cy="1295.8" r="0.7" fill="#f4f4f8"/>
  <path d="M793.5 1293.2 Q794 1296 797.8 1296.4 M793.5 1293.2 L793.5 1301.5 A2.6 2.6 0 1 1 790.6 1299" fill="none" stroke="#f4f4f8" stroke-width="1.8"/>
  <rect x="801.4" y="1295" width="12.5" height="9" rx="2.5" fill="#f4f4f8"/>
  <path d="M806 1297.2 L810 1299.5 L806 1301.8 Z" fill="#1e3160"/>
</svg>

<!-- footer -->
<svg class="a" style="left:0;top:1335px" width="948" height="265" viewBox="0 1335 948 265">
  <circle cx="420" cy="1367.8" r="2.5" fill="#5a5e66"/>
  <circle cx="442.2" cy="1367.8" r="4.6" fill="#5a5e66"/>
  <circle cx="464" cy="1367.8" r="6.7" fill="#5a5e66"/>
  <circle cx="486.5" cy="1367.8" r="6.7" fill="#5a5e66"/>
  <circle cx="508.3" cy="1367.8" r="6.7" fill="#5c7cf8"/>
  <circle cx="530.8" cy="1367.8" r="4.6" fill="#5a5e66"/>
  <circle cx="552.9" cy="1367.8" r="2.5" fill="#5a5e66"/>
  <g fill="none" stroke="#f5f5f7" stroke-width="4.2" stroke-linecap="round" stroke-linejoin="round">
    <!-- heart -->
    <path stroke-width="4.6" d="M57.5 1416.5 C54 1411 50 1408.2 45 1408.2 C38.5 1408.2 34.5 1413.5 34.5 1419.5 C34.5 1427 40 1433 57.5 1446.6 C75 1433 80.5 1427 80.5 1419.5 C80.5 1413.5 76.5 1408.2 70 1408.2 C65 1408.2 61 1411 57.5 1416.5 Z"/>
    <!-- comment -->
    <path stroke-width="4.5" d="M204.6 1439.4 A20.8 20.8 0 1 0 197.6 1445.6 L209.6 1448.6 Z"/>
    <!-- repost -->
    <path d="M258.5 1432.5 L258.5 1419 Q258.5 1412 265.5 1412 L286 1412"/>
    <path d="M278.5 1404 L286.5 1412 L278.5 1420"/>
    <path d="M294 1423 L294 1436 Q294 1443 287 1443 L266.5 1443"/>
    <path d="M274 1435 L266 1443 L274 1451"/>
    <!-- send -->
    <path d="M342.6 1408.5 L387.4 1408.5 L364.2 1447 L359.5 1422.5 Z"/>
    <path d="M359.5 1422.5 L387.4 1408.5"/>
    <!-- bookmark -->
    <path d="M897.8 1407.5 L933.6 1407.5 L933.6 1447.3 L915.7 1430.5 L897.8 1447.3 Z"/>
  </g>
  <!-- hospital emoji -->
  <g>
    <rect x="190.3" y="1488.5" width="42.5" height="34.5" fill="#d9dadc"/>
    <rect x="190" y="1488" width="9" height="2" fill="#8f9092"/>
    <rect x="224" y="1488" width="9" height="2" fill="#8f9092"/>
    <rect x="198.8" y="1481.5" width="25.5" height="41.7" fill="#ebebeb"/>
    <rect x="198.3" y="1481" width="26.5" height="2" fill="#9a9a9a"/>
    <path d="M208.4 1487.5 h6 v5.8 h5.8 v6 h-5.8 v5.8 h-6 v-5.8 h-5.8 v-6 h5.8 z" fill="#f2f2f2" stroke="#de2838" stroke-width="1.9"/>
    <rect x="202.2" y="1510.3" width="19.2" height="12.9" fill="#3c5867"/>
    <rect x="202.2" y="1510.3" width="19.2" height="2.4" fill="#4a3a36"/>
    <g fill="#3f5a52">
      <rect x="193" y="1494" width="3.2" height="2.6"/><rect x="193" y="1499.5" width="3.2" height="2.6"/><rect x="193" y="1505" width="3.2" height="2.6"/><rect x="193" y="1510.5" width="3.2" height="2.6"/><rect x="193" y="1516" width="3.2" height="2.6"/>
      <rect x="226.8" y="1494" width="3.2" height="2.6"/><rect x="226.8" y="1499.5" width="3.2" height="2.6"/><rect x="226.8" y="1505" width="3.2" height="2.6"/><rect x="226.8" y="1510.5" width="3.2" height="2.6"/><rect x="226.8" y="1516" width="3.2" height="2.6"/>
    </g>
  </g>
</svg>

<div class="t" style="left:115.66px;top:42.00px;font-size:36.5px;font-weight:700;font-style:normal;color:#f5f5f7;;transform:scaleX(0.9415)">clpbrasil</div>
<div class="t" style="left:86.68px;top:193.80px;font-size:38px;font-weight:700;font-style:normal;color:#1e2f57;-webkit-text-stroke:0.9px #1e2f57;transform:scaleX(1.0575)">Ranking</div>
<div class="t" style="left:251.64px;top:193.80px;font-size:38px;font-weight:700;font-style:normal;color:#1e2f57;-webkit-text-stroke:0.9px #1e2f57;transform:scaleX(1.0636)">dos</div>
<div class="t" style="left:330.11px;top:193.80px;font-size:38px;font-weight:700;font-style:normal;color:#1e2f57;-webkit-text-stroke:0.9px #1e2f57;transform:scaleX(1.0472)">Municípios</div>
<div class="t" style="left:542.94px;top:193.80px;font-size:38px;font-weight:400;font-style:normal;color:#1e2f57;;transform:scaleX(1.2313)">com</div>
<div class="t" style="left:636.37px;top:193.80px;font-size:38px;font-weight:400;font-style:normal;color:#1e2f57;;transform:scaleX(1.1162)">os</div>
<div class="t" style="left:687.09px;top:193.80px;font-size:38px;font-weight:400;font-style:normal;color:#1e2f57;;transform:scaleX(1.1684)">melhores</div>
<div class="t" style="left:85.24px;top:237.70px;font-size:38px;font-weight:400;font-style:normal;color:#1e2f57;;transform:scaleX(1.1542)">indicadores</div>
<div class="t" style="left:316.15px;top:237.70px;font-size:38px;font-weight:400;font-style:normal;color:#1e2f57;;transform:scaleX(1.1744)">de</div>
<div class="t" style="left:372.88px;top:237.70px;font-size:38px;font-weight:700;font-style:normal;color:#1e2f57;-webkit-text-stroke:0.9px #1e2f57;transform:scaleX(1.0158)">Acesso</div>
<div class="t" style="left:516.19px;top:237.70px;font-size:38px;font-weight:700;font-style:normal;color:#1e2f57;-webkit-text-stroke:0.9px #1e2f57;transform:scaleX(1.0095)">à</div>
<div class="t" style="left:545.51px;top:237.70px;font-size:38px;font-weight:700;font-style:normal;color:#1e2f57;-webkit-text-stroke:0.9px #1e2f57;transform:scaleX(1.0946)">Saúde</div>
<div class="t" style="left:86.10px;top:281.10px;font-size:38px;font-weight:400;font-style:normal;color:#1e2f57;;transform:scaleX(1.1500)">da</div>
<div class="t" style="left:482.57px;top:281.10px;font-size:38px;font-weight:400;font-style:normal;color:#1e2f57;;transform:scaleX(1.2125)">em</div>
<div class="t" style="left:550.97px;top:281.10px;font-size:38px;font-weight:400;font-style:normal;color:#1e2f57;;transform:scaleX(1.1136)">2025</div>
<div class="t" style="left:150.58px;top:281.10px;font-size:38px;font-weight:700;font-style:normal;color:#1e2f57;-webkit-text-stroke:0.9px #1e2f57;transform:scaleX(1.0121)">Região</div>
<div class="t" style="left:290.24px;top:281.10px;font-size:38px;font-weight:700;font-style:normal;color:#1e2f57;-webkit-text-stroke:0.9px #1e2f57;transform:scaleX(1.0784)">Nordeste</div>
<div class="t" style="left:87.40px;top:1250.30px;font-size:16.5px;font-weight:700;font-style:italic;color:#232a48;;transform:scaleX(0.9600)">Fonte:</div>
<div class="t" style="left:139.07px;top:1250.30px;font-size:16.5px;font-weight:400;font-style:italic;color:#2f3550;;transform:scaleX(1.0341)">Ranking de Competitividade dos Municípios 2025 (CLP)</div>
<div class="t" style="left:81.15px;top:750.30px;font-size:11.2px;font-weight:400;font-style:normal;color:#f4f4f8;-webkit-text-stroke:0.5px #f4f4f8;transform:scaleX(1.0513)">Posição</div>
<div class="t" style="left:78.53px;top:762.80px;font-size:11.2px;font-weight:400;font-style:normal;color:#f4f4f8;-webkit-text-stroke:0.5px #f4f4f8;transform:scaleX(1.0744)">Regional</div>
<div class="t" style="left:146.64px;top:750.30px;font-size:11.2px;font-weight:400;font-style:normal;color:#f4f4f8;-webkit-text-stroke:0.5px #f4f4f8;transform:scaleX(1.0590)">Posição</div>
<div class="t" style="left:152.51px;top:762.80px;font-size:11.2px;font-weight:400;font-style:normal;color:#f4f4f8;-webkit-text-stroke:0.5px #f4f4f8;transform:scaleX(1.0926)">Brasil</div>
<div class="t" style="left:214.76px;top:755.70px;font-size:11.8px;font-weight:400;font-style:normal;color:#f4f4f8;-webkit-text-stroke:0.5px #f4f4f8;transform:scaleX(1.0421)">Município (UF)</div>
<div class="t" style="left:513.95px;top:750.30px;font-size:11.2px;font-weight:400;font-style:normal;color:#f4f4f8;-webkit-text-stroke:0.5px #f4f4f8;transform:scaleX(1.0513)">Posição</div>
<div class="t" style="left:511.33px;top:762.80px;font-size:11.2px;font-weight:400;font-style:normal;color:#f4f4f8;-webkit-text-stroke:0.5px #f4f4f8;transform:scaleX(1.0744)">Regional</div>
<div class="t" style="left:579.44px;top:750.30px;font-size:11.2px;font-weight:400;font-style:normal;color:#f4f4f8;-webkit-text-stroke:0.5px #f4f4f8;transform:scaleX(1.0590)">Posição</div>
<div class="t" style="left:585.31px;top:762.80px;font-size:11.2px;font-weight:400;font-style:normal;color:#f4f4f8;-webkit-text-stroke:0.5px #f4f4f8;transform:scaleX(1.0926)">Brasil</div>
<div class="t" style="left:647.56px;top:755.70px;font-size:11.8px;font-weight:400;font-style:normal;color:#f4f4f8;-webkit-text-stroke:0.5px #f4f4f8;transform:scaleX(1.0421)">Município (UF)</div>
<div class="t" style="left:768.60px;top:1280.20px;font-size:6.4px;font-weight:700;font-style:normal;color:#3a3a40;letter-spacing:0.9px;transform:scaleX(0.9277)">CENTRO DE LIDERANÇA PÚBLICA</div>
<div class="t" style="left:821.65px;top:1291.50px;font-size:13px;font-weight:700;font-style:normal;color:#f4f4f8;;transform:scaleX(1.1500)">clpbrasil</div>
<div class="t" style="left:94.82px;top:1412.40px;font-size:33px;font-weight:700;font-style:normal;color:#f5f5f7;;transform:scaleX(1.0879)">16</div>
<div class="t" style="left:36.95px;top:1486.80px;font-size:32.5px;font-weight:700;font-style:normal;color:#f5f5f7;;transform:scaleX(1.0550)">clpbrasil</div>
<div class="t" style="left:245.82px;top:1487.00px;font-size:32.5px;font-weight:400;font-style:normal;color:#f5f5f7;;transform:scaleX(1.0891)">Como anda a saúde no seu...</div>
<div class="t" style="left:716.77px;top:1487.00px;font-size:32.5px;font-weight:400;font-style:normal;color:#9a9ca4;;transform:scaleX(1.1154)">mais</div>
<div class="t" style="left:35.80px;top:1540.80px;font-size:29px;font-weight:400;font-style:normal;color:#9a9da5;;transform:scaleX(1.0994)">Há 8 minutos</div>
<div class="t" style="left:99.54px;top:785.80px;font-size:11.6px;font-weight:400;color:#3b2c16;-webkit-text-stroke:0.45px #3b2c16;transform:scaleX(0.9444)">1</div>
<div class="t" style="left:165.22px;top:785.80px;font-size:11.6px;font-weight:400;color:#f4f5f8;-webkit-text-stroke:0.45px #f4f5f8;transform:scaleX(0.9444)">2</div>
<div class="t" style="left:214.00px;top:785.80px;font-size:11.6px;font-weight:400;color:#313446;-webkit-text-stroke:0.3px #313446;transform:scaleX(1.0545)">Goiana (PE)</div>
<div class="t" style="left:100.02px;top:810.04px;font-size:11.6px;font-weight:400;color:#3b2c16;-webkit-text-stroke:0.45px #3b2c16;transform:scaleX(0.9444)">2</div>
<div class="t" style="left:165.22px;top:810.04px;font-size:11.6px;font-weight:400;color:#f4f5f8;-webkit-text-stroke:0.45px #f4f5f8;transform:scaleX(0.9444)">5</div>
<div class="t" style="left:212.95px;top:810.04px;font-size:11.6px;font-weight:400;color:#313446;-webkit-text-stroke:0.3px #313446;transform:scaleX(1.0545)">Sobral (CE)</div>
<div class="t" style="left:100.02px;top:834.28px;font-size:11.6px;font-weight:400;color:#3b2c16;-webkit-text-stroke:0.45px #3b2c16;transform:scaleX(0.9444)">3</div>
<div class="t" style="left:161.91px;top:834.28px;font-size:11.6px;font-weight:400;color:#f4f5f8;-webkit-text-stroke:0.45px #f4f5f8;transform:scaleX(0.9444)">11</div>
<div class="t" style="left:214.00px;top:834.28px;font-size:11.6px;font-weight:400;color:#313446;-webkit-text-stroke:0.3px #313446;transform:scaleX(1.0545)">Aquiraz (CE)</div>
<div class="t" style="left:99.54px;top:858.52px;font-size:11.6px;font-weight:400;color:#3b2c16;-webkit-text-stroke:0.45px #3b2c16;transform:scaleX(0.9444)">4</div>
<div class="t" style="left:161.91px;top:858.52px;font-size:11.6px;font-weight:400;color:#f4f5f8;-webkit-text-stroke:0.45px #f4f5f8;transform:scaleX(0.9444)">21</div>
<div class="t" style="left:212.95px;top:858.52px;font-size:11.6px;font-weight:400;color:#313446;-webkit-text-stroke:0.3px #313446;transform:scaleX(1.0545)">Maranguape (CE)</div>
<div class="t" style="left:100.02px;top:882.76px;font-size:11.6px;font-weight:400;color:#3b2c16;-webkit-text-stroke:0.45px #3b2c16;transform:scaleX(0.9444)">5</div>
<div class="t" style="left:161.91px;top:882.76px;font-size:11.6px;font-weight:400;color:#f4f5f8;-webkit-text-stroke:0.45px #f4f5f8;transform:scaleX(0.9444)">30</div>
<div class="t" style="left:212.95px;top:882.76px;font-size:11.6px;font-weight:400;color:#313446;-webkit-text-stroke:0.3px #313446;transform:scaleX(1.0545)">Itabaiana (SE)</div>
<div class="t" style="left:100.02px;top:907.00px;font-size:11.6px;font-weight:400;color:#3b2c16;-webkit-text-stroke:0.45px #3b2c16;transform:scaleX(0.9444)">6</div>
<div class="t" style="left:161.91px;top:907.00px;font-size:11.6px;font-weight:400;color:#f4f5f8;-webkit-text-stroke:0.45px #f4f5f8;transform:scaleX(0.9444)">31</div>
<div class="t" style="left:212.95px;top:907.00px;font-size:11.6px;font-weight:400;color:#313446;-webkit-text-stroke:0.3px #313446;transform:scaleX(1.0545)">Eusébio (CE)</div>
<div class="t" style="left:100.02px;top:931.24px;font-size:11.6px;font-weight:400;color:#3b2c16;-webkit-text-stroke:0.45px #3b2c16;transform:scaleX(0.9444)">7</div>
<div class="t" style="left:161.91px;top:931.24px;font-size:11.6px;font-weight:400;color:#f4f5f8;-webkit-text-stroke:0.45px #f4f5f8;transform:scaleX(0.9444)">43</div>
<div class="t" style="left:214.00px;top:931.24px;font-size:11.6px;font-weight:400;color:#313446;-webkit-text-stroke:0.3px #313446;transform:scaleX(1.0545)">Quixeramobim (CE)</div>
<div class="t" style="left:100.02px;top:955.48px;font-size:11.6px;font-weight:400;color:#3b2c16;-webkit-text-stroke:0.45px #3b2c16;transform:scaleX(0.9444)">8</div>
<div class="t" style="left:161.91px;top:955.48px;font-size:11.6px;font-weight:400;color:#f4f5f8;-webkit-text-stroke:0.45px #f4f5f8;transform:scaleX(0.9444)">46</div>
<div class="t" style="left:214.00px;top:955.48px;font-size:11.6px;font-weight:400;color:#313446;-webkit-text-stroke:0.3px #313446;transform:scaleX(1.0545)">Araripina (PE)</div>
<div class="t" style="left:100.02px;top:979.72px;font-size:11.6px;font-weight:400;color:#3b2c16;-webkit-text-stroke:0.45px #3b2c16;transform:scaleX(0.9444)">9</div>
<div class="t" style="left:161.91px;top:979.72px;font-size:11.6px;font-weight:400;color:#f4f5f8;-webkit-text-stroke:0.45px #f4f5f8;transform:scaleX(0.9444)">47</div>
<div class="t" style="left:212.95px;top:979.72px;font-size:11.6px;font-weight:400;color:#313446;-webkit-text-stroke:0.3px #313446;transform:scaleX(1.0545)">Itapipoca (CE)</div>
<div class="t" style="left:96.24px;top:1003.96px;font-size:11.6px;font-weight:400;color:#3b2c16;-webkit-text-stroke:0.45px #3b2c16;transform:scaleX(0.9444)">10</div>
<div class="t" style="left:161.91px;top:1003.96px;font-size:11.6px;font-weight:400;color:#f4f5f8;-webkit-text-stroke:0.45px #f4f5f8;transform:scaleX(0.9444)">56</div>
<div class="t" style="left:212.95px;top:1003.96px;font-size:11.6px;font-weight:400;color:#313446;-webkit-text-stroke:0.3px #313446;transform:scaleX(1.0545)">Iguatu (CE)</div>
<div class="t" style="left:96.71px;top:1028.20px;font-size:11.6px;font-weight:400;color:#3b2c16;-webkit-text-stroke:0.45px #3b2c16;transform:scaleX(0.9444)">11</div>
<div class="t" style="left:161.91px;top:1028.20px;font-size:11.6px;font-weight:400;color:#f4f5f8;-webkit-text-stroke:0.45px #f4f5f8;transform:scaleX(0.9444)">67</div>
<div class="t" style="left:212.95px;top:1028.20px;font-size:11.6px;font-weight:400;color:#313446;-webkit-text-stroke:0.3px #313446;transform:scaleX(1.0545)">Santa Inês (MA)</div>
<div class="t" style="left:96.24px;top:1052.44px;font-size:11.6px;font-weight:400;color:#3b2c16;-webkit-text-stroke:0.45px #3b2c16;transform:scaleX(0.9444)">12</div>
<div class="t" style="left:161.91px;top:1052.44px;font-size:11.6px;font-weight:400;color:#f4f5f8;-webkit-text-stroke:0.45px #f4f5f8;transform:scaleX(0.9444)">68</div>
<div class="t" style="left:214.00px;top:1052.44px;font-size:11.6px;font-weight:400;color:#313446;-webkit-text-stroke:0.3px #313446;transform:scaleX(1.0545)">Arcoverde (PE)</div>
<div class="t" style="left:96.24px;top:1076.68px;font-size:11.6px;font-weight:400;color:#3b2c16;-webkit-text-stroke:0.45px #3b2c16;transform:scaleX(0.9444)">13</div>
<div class="t" style="left:161.91px;top:1076.68px;font-size:11.6px;font-weight:400;color:#f4f5f8;-webkit-text-stroke:0.45px #f4f5f8;transform:scaleX(0.9444)">69</div>
<div class="t" style="left:212.95px;top:1076.68px;font-size:11.6px;font-weight:400;color:#313446;-webkit-text-stroke:0.3px #313446;transform:scaleX(1.0545)">Campina Grande (PB)</div>
<div class="t" style="left:96.24px;top:1100.92px;font-size:11.6px;font-weight:400;color:#3b2c16;-webkit-text-stroke:0.45px #3b2c16;transform:scaleX(0.9444)">14</div>
<div class="t" style="left:161.91px;top:1100.92px;font-size:11.6px;font-weight:400;color:#f4f5f8;-webkit-text-stroke:0.45px #f4f5f8;transform:scaleX(0.9444)">83</div>
<div class="t" style="left:212.95px;top:1100.92px;font-size:11.6px;font-weight:400;color:#313446;-webkit-text-stroke:0.3px #313446;transform:scaleX(1.0545)">Pacatuba (CE)</div>
<div class="t" style="left:96.24px;top:1125.16px;font-size:11.6px;font-weight:400;color:#3b2c16;-webkit-text-stroke:0.45px #3b2c16;transform:scaleX(0.9444)">15</div>
<div class="t" style="left:161.91px;top:1125.16px;font-size:11.6px;font-weight:400;color:#f4f5f8;-webkit-text-stroke:0.45px #f4f5f8;transform:scaleX(0.9444)">87</div>
<div class="t" style="left:214.00px;top:1125.16px;font-size:11.6px;font-weight:400;color:#313446;-webkit-text-stroke:0.3px #313446;transform:scaleX(1.0545)">Teresina (PI)</div>
<div class="t" style="left:96.24px;top:1149.40px;font-size:11.6px;font-weight:400;color:#3b2c16;-webkit-text-stroke:0.45px #3b2c16;transform:scaleX(0.9444)">16</div>
<div class="t" style="left:161.91px;top:1149.40px;font-size:11.6px;font-weight:400;color:#f4f5f8;-webkit-text-stroke:0.45px #f4f5f8;transform:scaleX(0.9444)">90</div>
<div class="t" style="left:212.95px;top:1149.40px;font-size:11.6px;font-weight:400;color:#313446;-webkit-text-stroke:0.3px #313446;transform:scaleX(1.0545)">Maracanaú (CE)</div>
<div class="t" style="left:96.24px;top:1173.64px;font-size:11.6px;font-weight:400;color:#3b2c16;-webkit-text-stroke:0.45px #3b2c16;transform:scaleX(0.9444)">17</div>
<div class="t" style="left:161.91px;top:1173.64px;font-size:11.6px;font-weight:400;color:#f4f5f8;-webkit-text-stroke:0.45px #f4f5f8;transform:scaleX(0.9444)">95</div>
<div class="t" style="left:212.95px;top:1173.64px;font-size:11.6px;font-weight:400;color:#313446;-webkit-text-stroke:0.3px #313446;transform:scaleX(1.0545)">Picos (PI)</div>
<div class="t" style="left:96.24px;top:1197.88px;font-size:11.6px;font-weight:400;color:#3b2c16;-webkit-text-stroke:0.45px #3b2c16;transform:scaleX(0.9444)">18</div>
<div class="t" style="left:161.91px;top:1197.88px;font-size:11.6px;font-weight:400;color:#f4f5f8;-webkit-text-stroke:0.45px #f4f5f8;transform:scaleX(0.9444)">96</div>
<div class="t" style="left:212.95px;top:1197.88px;font-size:11.6px;font-weight:400;color:#313446;-webkit-text-stroke:0.3px #313446;transform:scaleX(1.0545)">Bacabal (MA)</div>
<div class="t" style="left:529.04px;top:785.80px;font-size:11.6px;font-weight:400;color:#3b2c16;-webkit-text-stroke:0.45px #3b2c16;transform:scaleX(0.9444)">19</div>
<div class="t" style="left:594.71px;top:785.80px;font-size:11.6px;font-weight:400;color:#f4f5f8;-webkit-text-stroke:0.45px #f4f5f8;transform:scaleX(0.9444)">98</div>
<div class="t" style="left:645.75px;top:785.80px;font-size:11.6px;font-weight:400;color:#313446;-webkit-text-stroke:0.3px #313446;transform:scaleX(1.0545)">Patos (PB)</div>
<div class="t" style="left:529.51px;top:810.04px;font-size:11.6px;font-weight:400;color:#3b2c16;-webkit-text-stroke:0.45px #3b2c16;transform:scaleX(0.9444)">20</div>
<div class="t" style="left:591.41px;top:810.04px;font-size:11.6px;font-weight:400;color:#f4f5f8;-webkit-text-stroke:0.45px #f4f5f8;transform:scaleX(0.9444)">100</div>
<div class="t" style="left:645.75px;top:810.04px;font-size:11.6px;font-weight:400;color:#313446;-webkit-text-stroke:0.3px #313446;transform:scaleX(1.0545)">Rio Largo (AL)</div>
<div class="t" style="left:529.51px;top:834.28px;font-size:11.6px;font-weight:400;color:#3b2c16;-webkit-text-stroke:0.45px #3b2c16;transform:scaleX(0.9444)">21</div>
<div class="t" style="left:591.88px;top:834.28px;font-size:11.6px;font-weight:400;color:#f4f5f8;-webkit-text-stroke:0.45px #f4f5f8;transform:scaleX(0.9444)">113</div>
<div class="t" style="left:645.75px;top:834.28px;font-size:11.6px;font-weight:400;color:#313446;-webkit-text-stroke:0.3px #313446;transform:scaleX(1.0545)">Barbalha (CE)</div>
<div class="t" style="left:529.51px;top:858.52px;font-size:11.6px;font-weight:400;color:#3b2c16;-webkit-text-stroke:0.45px #3b2c16;transform:scaleX(0.9444)">22</div>
<div class="t" style="left:591.41px;top:858.52px;font-size:11.6px;font-weight:400;color:#f4f5f8;-webkit-text-stroke:0.45px #f4f5f8;transform:scaleX(0.9444)">128</div>
<div class="t" style="left:646.80px;top:858.52px;font-size:11.6px;font-weight:400;color:#313446;-webkit-text-stroke:0.3px #313446;transform:scaleX(1.0545)">Arapiraca (AL)</div>
<div class="t" style="left:529.51px;top:882.76px;font-size:11.6px;font-weight:400;color:#3b2c16;-webkit-text-stroke:0.45px #3b2c16;transform:scaleX(0.9444)">23</div>
<div class="t" style="left:591.41px;top:882.76px;font-size:11.6px;font-weight:400;color:#f4f5f8;-webkit-text-stroke:0.45px #f4f5f8;transform:scaleX(0.9444)">132</div>
<div class="t" style="left:646.80px;top:882.76px;font-size:11.6px;font-weight:400;color:#313446;-webkit-text-stroke:0.3px #313446;transform:scaleX(1.0545)">Tianguá (CE)</div>
<div class="t" style="left:529.51px;top:907.00px;font-size:11.6px;font-weight:400;color:#3b2c16;-webkit-text-stroke:0.45px #3b2c16;transform:scaleX(0.9444)">24</div>
<div class="t" style="left:591.41px;top:907.00px;font-size:11.6px;font-weight:400;color:#f4f5f8;-webkit-text-stroke:0.45px #f4f5f8;transform:scaleX(0.9444)">133</div>
<div class="t" style="left:646.80px;top:907.00px;font-size:11.6px;font-weight:400;color:#313446;-webkit-text-stroke:0.3px #313446;transform:scaleX(1.0545)">Quixadá (CE)</div>
<div class="t" style="left:529.51px;top:931.24px;font-size:11.6px;font-weight:400;color:#3b2c16;-webkit-text-stroke:0.45px #3b2c16;transform:scaleX(0.9444)">25</div>
<div class="t" style="left:591.41px;top:931.24px;font-size:11.6px;font-weight:400;color:#f4f5f8;-webkit-text-stroke:0.45px #f4f5f8;transform:scaleX(0.9444)">136</div>
<div class="t" style="left:645.75px;top:931.24px;font-size:11.6px;font-weight:400;color:#313446;-webkit-text-stroke:0.3px #313446;transform:scaleX(1.0545)">Recife (PE)</div>
<div class="t" style="left:529.51px;top:955.48px;font-size:11.6px;font-weight:400;color:#3b2c16;-webkit-text-stroke:0.45px #3b2c16;transform:scaleX(0.9444)">26</div>
<div class="t" style="left:591.41px;top:955.48px;font-size:11.6px;font-weight:400;color:#f4f5f8;-webkit-text-stroke:0.45px #f4f5f8;transform:scaleX(0.9444)">148</div>
<div class="t" style="left:646.80px;top:955.48px;font-size:11.6px;font-weight:400;color:#313446;-webkit-text-stroke:0.3px #313446;transform:scaleX(1.0545)">Aracaju (SE)</div>
<div class="t" style="left:529.51px;top:979.72px;font-size:11.6px;font-weight:400;color:#3b2c16;-webkit-text-stroke:0.45px #3b2c16;transform:scaleX(0.9444)">27</div>
<div class="t" style="left:591.41px;top:979.72px;font-size:11.6px;font-weight:400;color:#f4f5f8;-webkit-text-stroke:0.45px #f4f5f8;transform:scaleX(0.9444)">149</div>
<div class="t" style="left:645.75px;top:979.72px;font-size:11.6px;font-weight:400;color:#313446;-webkit-text-stroke:0.3px #313446;transform:scaleX(1.0545)">Belo Jardim (PE)</div>
<div class="t" style="left:529.51px;top:1003.96px;font-size:11.6px;font-weight:400;color:#3b2c16;-webkit-text-stroke:0.45px #3b2c16;transform:scaleX(0.9444)">28</div>
<div class="t" style="left:591.41px;top:1003.96px;font-size:11.6px;font-weight:400;color:#f4f5f8;-webkit-text-stroke:0.45px #f4f5f8;transform:scaleX(0.9444)">161</div>
<div class="t" style="left:646.80px;top:1003.96px;font-size:11.6px;font-weight:400;color:#313446;-webkit-text-stroke:0.3px #313446;transform:scaleX(1.0545)">Juazeiro do Norte (CE)</div>
<div class="t" style="left:529.51px;top:1028.20px;font-size:11.6px;font-weight:400;color:#3b2c16;-webkit-text-stroke:0.45px #3b2c16;transform:scaleX(0.9444)">29</div>
<div class="t" style="left:591.41px;top:1028.20px;font-size:11.6px;font-weight:400;color:#f4f5f8;-webkit-text-stroke:0.45px #f4f5f8;transform:scaleX(0.9444)">162</div>
<div class="t" style="left:645.75px;top:1028.20px;font-size:11.6px;font-weight:400;color:#313446;-webkit-text-stroke:0.3px #313446;transform:scaleX(1.0545)">Crato (CE)</div>
<div class="t" style="left:529.51px;top:1052.44px;font-size:11.6px;font-weight:400;color:#3b2c16;-webkit-text-stroke:0.45px #3b2c16;transform:scaleX(0.9444)">30</div>
<div class="t" style="left:591.41px;top:1052.44px;font-size:11.6px;font-weight:400;color:#f4f5f8;-webkit-text-stroke:0.45px #f4f5f8;transform:scaleX(0.9444)">177</div>
<div class="t" style="left:645.75px;top:1052.44px;font-size:11.6px;font-weight:400;color:#313446;-webkit-text-stroke:0.3px #313446;transform:scaleX(1.0545)">Carpina (PE)</div>
<div class="t" style="left:529.51px;top:1076.68px;font-size:11.6px;font-weight:400;color:#3b2c16;-webkit-text-stroke:0.45px #3b2c16;transform:scaleX(0.9444)">31</div>
<div class="t" style="left:591.41px;top:1076.68px;font-size:11.6px;font-weight:400;color:#f4f5f8;-webkit-text-stroke:0.45px #f4f5f8;transform:scaleX(0.9444)">178</div>
<div class="t" style="left:645.75px;top:1076.68px;font-size:11.6px;font-weight:400;color:#313446;-webkit-text-stroke:0.3px #313446;transform:scaleX(1.0545)">Macaíba (RN)</div>
<div class="t" style="left:529.51px;top:1100.92px;font-size:11.6px;font-weight:400;color:#3b2c16;-webkit-text-stroke:0.45px #3b2c16;transform:scaleX(0.9444)">32</div>
<div class="t" style="left:591.41px;top:1100.92px;font-size:11.6px;font-weight:400;color:#f4f5f8;-webkit-text-stroke:0.45px #f4f5f8;transform:scaleX(0.9444)">179</div>
<div class="t" style="left:645.75px;top:1100.92px;font-size:11.6px;font-weight:400;color:#313446;-webkit-text-stroke:0.3px #313446;transform:scaleX(1.0545)">São Cristóvão (SE)</div>
<div class="t" style="left:529.51px;top:1125.16px;font-size:11.6px;font-weight:400;color:#3b2c16;-webkit-text-stroke:0.45px #3b2c16;transform:scaleX(0.9444)">33</div>
<div class="t" style="left:591.41px;top:1125.16px;font-size:11.6px;font-weight:400;color:#f4f5f8;-webkit-text-stroke:0.45px #f4f5f8;transform:scaleX(0.9444)">180</div>
<div class="t" style="left:646.80px;top:1125.16px;font-size:11.6px;font-weight:400;color:#313446;-webkit-text-stroke:0.3px #313446;transform:scaleX(1.0545)">Vitória de Santo Antão (PE)</div>
<div class="t" style="left:529.51px;top:1149.40px;font-size:11.6px;font-weight:400;color:#3b2c16;-webkit-text-stroke:0.45px #3b2c16;transform:scaleX(0.9444)">34</div>
<div class="t" style="left:591.41px;top:1149.40px;font-size:11.6px;font-weight:400;color:#f4f5f8;-webkit-text-stroke:0.45px #f4f5f8;transform:scaleX(0.9444)">182</div>
<div class="t" style="left:646.80px;top:1149.40px;font-size:11.6px;font-weight:400;color:#313446;-webkit-text-stroke:0.3px #313446;transform:scaleX(1.0545)">Guanambi (BA)</div>
<div class="t" style="left:529.51px;top:1173.64px;font-size:11.6px;font-weight:400;color:#3b2c16;-webkit-text-stroke:0.45px #3b2c16;transform:scaleX(0.9444)">35</div>
<div class="t" style="left:590.93px;top:1173.64px;font-size:11.6px;font-weight:400;color:#f4f5f8;-webkit-text-stroke:0.45px #f4f5f8;transform:scaleX(0.9444)">184</div>
<div class="t" style="left:645.75px;top:1173.64px;font-size:11.6px;font-weight:400;color:#313446;-webkit-text-stroke:0.3px #313446;transform:scaleX(1.0545)">Nossa Senhora do Socorro (SE)</div>
<div class="t" style="left:529.51px;top:1197.88px;font-size:11.6px;font-weight:400;color:#3b2c16;-webkit-text-stroke:0.45px #3b2c16;transform:scaleX(0.9444)">36</div>
<div class="t" style="left:591.41px;top:1197.88px;font-size:11.6px;font-weight:400;color:#f4f5f8;-webkit-text-stroke:0.45px #f4f5f8;transform:scaleX(0.9444)">186</div>
<div class="t" style="left:645.75px;top:1197.88px;font-size:11.6px;font-weight:400;color:#313446;-webkit-text-stroke:0.3px #313446;transform:scaleX(1.0545)">Barreiras (BA)</div>
</body></html>
